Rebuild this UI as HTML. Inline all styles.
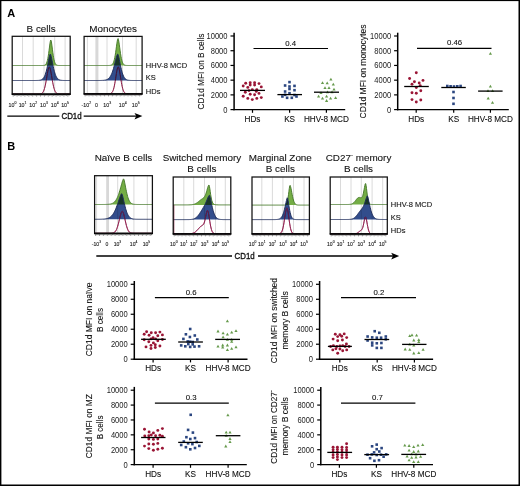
<!DOCTYPE html>
<html><head><meta charset="utf-8"><style>
html,body{margin:0;padding:0;background:#fff;width:520px;height:486px;overflow:hidden;}
svg{display:block;}
text{font-family:"Liberation Sans", sans-serif;}
</style></head><body>
<svg width="520" height="486" viewBox="0 0 520 486" font-family='"Liberation Sans", sans-serif'>
<rect x="0" y="0" width="520" height="486" fill="#fff"/>
<text x="7.3" y="16.8" font-size="11" text-anchor="start" font-weight="bold" fill="#000" stroke="#000" stroke-width="0" >A</text>
<text x="7.2" y="149.5" font-size="11" text-anchor="start" font-weight="bold" fill="#000" stroke="#000" stroke-width="0" >B</text>
<text x="41.1" y="31.5" font-size="9.9" text-anchor="middle" font-weight="normal" fill="#111" stroke="#111" stroke-width="0.1" >B cells</text>
<text x="113.1" y="31.8" font-size="9.9" text-anchor="middle" font-weight="normal" fill="#111" stroke="#111" stroke-width="0.1" >Monocytes</text>
<line x1="22.5" y1="36.3" x2="22.5" y2="94" stroke="#d0d0d0" stroke-width="0.8"/>
<line x1="33.2" y1="36.3" x2="33.2" y2="94" stroke="#d0d0d0" stroke-width="0.8"/>
<line x1="44.0" y1="36.3" x2="44.0" y2="94" stroke="#d0d0d0" stroke-width="0.8"/>
<line x1="54.7" y1="36.3" x2="54.7" y2="94" stroke="#d0d0d0" stroke-width="0.8"/>
<line x1="65.1" y1="36.3" x2="65.1" y2="94" stroke="#d0d0d0" stroke-width="0.8"/>
<path d="M12.20,65.50 L12.61,65.50 L13.03,65.50 L13.44,65.50 L13.86,65.50 L14.27,65.50 L14.69,65.50 L15.10,65.50 L15.51,65.50 L15.93,65.50 L16.34,65.50 L16.76,65.50 L17.17,65.50 L17.59,65.50 L18.00,65.50 L18.41,65.50 L18.83,65.50 L19.24,65.50 L19.66,65.50 L20.07,65.50 L20.49,65.50 L20.90,65.50 L21.31,65.50 L21.73,65.50 L22.14,65.50 L22.56,65.50 L22.97,65.50 L23.39,65.50 L23.80,65.50 L24.21,65.50 L24.63,65.50 L25.04,65.50 L25.46,65.50 L25.87,65.50 L26.29,65.50 L26.70,65.50 L27.11,65.50 L27.53,65.50 L27.94,65.50 L28.36,65.50 L28.77,65.50 L29.19,65.50 L29.60,65.50 L30.01,65.50 L30.43,65.50 L30.84,65.50 L31.26,65.50 L31.67,65.50 L32.09,65.50 L32.50,65.50 L32.91,65.50 L33.33,65.50 L33.74,65.50 L34.16,65.50 L34.57,65.50 L34.99,65.50 L35.40,65.50 L35.81,65.50 L36.23,65.50 L36.64,65.50 L37.06,65.50 L37.47,65.50 L37.89,65.50 L38.30,65.50 L38.71,65.50 L39.13,65.50 L39.54,65.50 L39.96,65.50 L40.37,65.50 L40.79,65.50 L41.20,65.50 L41.61,65.50 L42.03,65.49 L42.44,65.49 L42.86,65.47 L43.27,65.45 L43.69,65.41 L44.10,65.35 L44.51,65.25 L44.93,65.08 L45.34,64.82 L45.76,64.43 L46.17,63.86 L46.59,63.04 L47.00,61.92 L47.41,60.42 L47.83,58.49 L48.24,56.13 L48.66,53.35 L49.07,50.25 L49.49,47.04 L49.90,43.98 L50.31,41.47 L50.73,40.06 L51.14,40.82 L51.56,43.03 L51.97,45.95 L52.39,49.15 L52.80,52.31 L53.21,55.21 L53.63,57.73 L54.04,59.80 L54.46,61.45 L54.87,62.69 L55.29,63.61 L55.70,64.26 L56.11,64.71 L56.53,65.01 L56.94,65.20 L57.36,65.32 L57.77,65.40 L58.19,65.44 L58.60,65.47 L59.01,65.48 L59.43,65.49 L59.84,65.50 L60.26,65.50 L60.67,65.50 L61.09,65.50 L61.50,65.50 L61.91,65.50 L62.33,65.50 L62.74,65.50 L63.16,65.50 L63.57,65.50 L63.99,65.50 L64.40,65.50 L64.81,65.50 L65.23,65.50 L65.64,65.50 L66.06,65.50 L66.47,65.50 L66.89,65.50 L67.30,65.50 L67.71,65.50 L68.13,65.50 L68.54,65.50 L68.96,65.50 L69.37,65.50 L69.79,65.50 L70.20,65.50 L70.20,65.5 L12.20,65.5 Z" fill="#74ad45" stroke="none"/>
<path d="M12.20,65.50 L12.61,65.50 L13.03,65.50 L13.44,65.50 L13.86,65.50 L14.27,65.50 L14.69,65.50 L15.10,65.50 L15.51,65.50 L15.93,65.50 L16.34,65.50 L16.76,65.50 L17.17,65.50 L17.59,65.50 L18.00,65.50 L18.41,65.50 L18.83,65.50 L19.24,65.50 L19.66,65.50 L20.07,65.50 L20.49,65.50 L20.90,65.50 L21.31,65.50 L21.73,65.50 L22.14,65.50 L22.56,65.50 L22.97,65.50 L23.39,65.50 L23.80,65.50 L24.21,65.50 L24.63,65.50 L25.04,65.50 L25.46,65.50 L25.87,65.50 L26.29,65.50 L26.70,65.50 L27.11,65.50 L27.53,65.50 L27.94,65.50 L28.36,65.50 L28.77,65.50 L29.19,65.50 L29.60,65.50 L30.01,65.50 L30.43,65.50 L30.84,65.50 L31.26,65.50 L31.67,65.50 L32.09,65.50 L32.50,65.50 L32.91,65.50 L33.33,65.50 L33.74,65.50 L34.16,65.50 L34.57,65.50 L34.99,65.50 L35.40,65.50 L35.81,65.50 L36.23,65.50 L36.64,65.50 L37.06,65.50 L37.47,65.50 L37.89,65.50 L38.30,65.50 L38.71,65.50 L39.13,65.50 L39.54,65.50 L39.96,65.50 L40.37,65.50 L40.79,65.50 L41.20,65.50 L41.61,65.50 L42.03,65.49 L42.44,65.49 L42.86,65.47 L43.27,65.45 L43.69,65.41 L44.10,65.35 L44.51,65.25 L44.93,65.08 L45.34,64.82 L45.76,64.43 L46.17,63.86 L46.59,63.04 L47.00,61.92 L47.41,60.42 L47.83,58.49 L48.24,56.13 L48.66,53.35 L49.07,50.25 L49.49,47.04 L49.90,43.98 L50.31,41.47 L50.73,40.06 L51.14,40.82 L51.56,43.03 L51.97,45.95 L52.39,49.15 L52.80,52.31 L53.21,55.21 L53.63,57.73 L54.04,59.80 L54.46,61.45 L54.87,62.69 L55.29,63.61 L55.70,64.26 L56.11,64.71 L56.53,65.01 L56.94,65.20 L57.36,65.32 L57.77,65.40 L58.19,65.44 L58.60,65.47 L59.01,65.48 L59.43,65.49 L59.84,65.50 L60.26,65.50 L60.67,65.50 L61.09,65.50 L61.50,65.50 L61.91,65.50 L62.33,65.50 L62.74,65.50 L63.16,65.50 L63.57,65.50 L63.99,65.50 L64.40,65.50 L64.81,65.50 L65.23,65.50 L65.64,65.50 L66.06,65.50 L66.47,65.50 L66.89,65.50 L67.30,65.50 L67.71,65.50 L68.13,65.50 L68.54,65.50 L68.96,65.50 L69.37,65.50 L69.79,65.50 L70.20,65.50" fill="none" stroke="#4b7d30" stroke-width="1.0"/>
<path d="M12.20,94.00 L12.61,94.00 L13.03,94.00 L13.44,94.00 L13.86,94.00 L14.27,94.00 L14.69,94.00 L15.10,94.00 L15.51,94.00 L15.93,94.00 L16.34,94.00 L16.76,94.00 L17.17,94.00 L17.59,94.00 L18.00,94.00 L18.41,94.00 L18.83,94.00 L19.24,94.00 L19.66,94.00 L20.07,94.00 L20.49,94.00 L20.90,94.00 L21.31,94.00 L21.73,94.00 L22.14,94.00 L22.56,94.00 L22.97,94.00 L23.39,94.00 L23.80,94.00 L24.21,94.00 L24.63,94.00 L25.04,94.00 L25.46,94.00 L25.87,94.00 L26.29,94.00 L26.70,94.00 L27.11,94.00 L27.53,94.00 L27.94,94.00 L28.36,94.00 L28.77,94.00 L29.19,94.00 L29.60,94.00 L30.01,94.00 L30.43,94.00 L30.84,94.00 L31.26,94.00 L31.67,94.00 L32.09,94.00 L32.50,94.00 L32.91,94.00 L33.33,94.00 L33.74,94.00 L34.16,94.00 L34.57,94.00 L34.99,94.00 L35.40,94.00 L35.81,94.00 L36.23,94.00 L36.64,94.00 L37.06,94.00 L37.47,94.00 L37.89,93.99 L38.30,93.99 L38.71,93.98 L39.13,93.97 L39.54,93.94 L39.96,93.91 L40.37,93.85 L40.79,93.77 L41.20,93.65 L41.61,93.46 L42.03,93.21 L42.44,92.85 L42.86,92.36 L43.27,91.72 L43.69,90.88 L44.10,89.82 L44.51,88.51 L44.93,86.94 L45.34,85.11 L45.76,83.02 L46.17,80.73 L46.59,78.31 L47.00,75.83 L47.41,73.42 L47.83,71.21 L48.24,69.33 L48.66,67.93 L49.07,67.13 L49.49,67.09 L49.90,67.82 L50.31,69.17 L50.73,71.00 L51.14,73.18 L51.56,75.58 L51.97,78.05 L52.39,80.49 L52.80,82.80 L53.21,84.90 L53.63,86.77 L54.04,88.36 L54.46,89.70 L54.87,90.78 L55.29,91.64 L55.70,92.31 L56.11,92.81 L56.53,93.18 L56.94,93.44 L57.36,93.63 L57.77,93.76 L58.19,93.85 L58.60,93.90 L59.01,93.94 L59.43,93.96 L59.84,93.98 L60.26,93.99 L60.67,93.99 L61.09,94.00 L61.50,94.00 L61.91,94.00 L62.33,94.00 L62.74,94.00 L63.16,94.00 L63.57,94.00 L63.99,94.00 L64.40,94.00 L64.81,94.00 L65.23,94.00 L65.64,94.00 L66.06,94.00 L66.47,94.00 L66.89,94.00 L67.30,94.00 L67.71,94.00 L68.13,94.00 L68.54,94.00 L68.96,94.00 L69.37,94.00 L69.79,94.00 L70.20,94.00" fill="none" stroke="#861434" stroke-width="1.0"/>
<path d="M12.20,80.50 L12.61,80.50 L13.03,80.50 L13.44,80.50 L13.86,80.50 L14.27,80.50 L14.69,80.50 L15.10,80.50 L15.51,80.50 L15.93,80.50 L16.34,80.50 L16.76,80.50 L17.17,80.50 L17.59,80.50 L18.00,80.50 L18.41,80.50 L18.83,80.50 L19.24,80.50 L19.66,80.50 L20.07,80.50 L20.49,80.50 L20.90,80.50 L21.31,80.50 L21.73,80.50 L22.14,80.50 L22.56,80.50 L22.97,80.50 L23.39,80.50 L23.80,80.50 L24.21,80.50 L24.63,80.50 L25.04,80.50 L25.46,80.50 L25.87,80.50 L26.29,80.50 L26.70,80.50 L27.11,80.50 L27.53,80.50 L27.94,80.50 L28.36,80.50 L28.77,80.50 L29.19,80.50 L29.60,80.50 L30.01,80.50 L30.43,80.50 L30.84,80.50 L31.26,80.50 L31.67,80.50 L32.09,80.50 L32.50,80.50 L32.91,80.50 L33.33,80.50 L33.74,80.50 L34.16,80.50 L34.57,80.50 L34.99,80.49 L35.40,80.49 L35.81,80.49 L36.23,80.48 L36.64,80.47 L37.06,80.46 L37.47,80.45 L37.89,80.43 L38.30,80.41 L38.71,80.38 L39.13,80.34 L39.54,80.28 L39.96,80.21 L40.37,80.12 L40.79,80.00 L41.20,79.85 L41.61,79.66 L42.03,79.41 L42.44,79.11 L42.86,78.74 L43.27,78.29 L43.69,77.73 L44.10,77.07 L44.51,76.27 L44.93,75.34 L45.34,74.25 L45.76,73.00 L46.17,71.57 L46.59,69.98 L47.00,68.22 L47.41,66.31 L47.83,64.28 L48.24,62.19 L48.66,60.08 L49.07,58.06 L49.49,56.23 L49.90,54.76 L50.31,54.00 L50.73,54.85 L51.14,56.35 L51.56,58.19 L51.97,60.23 L52.39,62.33 L52.80,64.43 L53.21,66.44 L53.63,68.34 L54.04,70.09 L54.46,71.68 L54.87,73.09 L55.29,74.33 L55.70,75.41 L56.11,76.33 L56.53,77.12 L56.94,77.77 L57.36,78.32 L57.77,78.77 L58.19,79.14 L58.60,79.43 L59.01,79.67 L59.43,79.86 L59.84,80.01 L60.26,80.13 L60.67,80.22 L61.09,80.29 L61.50,80.34 L61.91,80.38 L62.33,80.41 L62.74,80.44 L63.16,80.45 L63.57,80.47 L63.99,80.48 L64.40,80.48 L64.81,80.49 L65.23,80.49 L65.64,80.49 L66.06,80.50 L66.47,80.50 L66.89,80.50 L67.30,80.50 L67.71,80.50 L68.13,80.50 L68.54,80.50 L68.96,80.50 L69.37,80.50 L69.79,80.50 L70.20,80.50 L70.20,80.5 L12.20,80.5 Z" fill="#324d8c" stroke="none" style="mix-blend-mode:multiply"/>
<path d="M12.20,80.50 L12.61,80.50 L13.03,80.50 L13.44,80.50 L13.86,80.50 L14.27,80.50 L14.69,80.50 L15.10,80.50 L15.51,80.50 L15.93,80.50 L16.34,80.50 L16.76,80.50 L17.17,80.50 L17.59,80.50 L18.00,80.50 L18.41,80.50 L18.83,80.50 L19.24,80.50 L19.66,80.50 L20.07,80.50 L20.49,80.50 L20.90,80.50 L21.31,80.50 L21.73,80.50 L22.14,80.50 L22.56,80.50 L22.97,80.50 L23.39,80.50 L23.80,80.50 L24.21,80.50 L24.63,80.50 L25.04,80.50 L25.46,80.50 L25.87,80.50 L26.29,80.50 L26.70,80.50 L27.11,80.50 L27.53,80.50 L27.94,80.50 L28.36,80.50 L28.77,80.50 L29.19,80.50 L29.60,80.50 L30.01,80.50 L30.43,80.50 L30.84,80.50 L31.26,80.50 L31.67,80.50 L32.09,80.50 L32.50,80.50 L32.91,80.50 L33.33,80.50 L33.74,80.50 L34.16,80.50 L34.57,80.50 L34.99,80.49 L35.40,80.49 L35.81,80.49 L36.23,80.48 L36.64,80.47 L37.06,80.46 L37.47,80.45 L37.89,80.43 L38.30,80.41 L38.71,80.38 L39.13,80.34 L39.54,80.28 L39.96,80.21 L40.37,80.12 L40.79,80.00 L41.20,79.85 L41.61,79.66 L42.03,79.41 L42.44,79.11 L42.86,78.74 L43.27,78.29 L43.69,77.73 L44.10,77.07 L44.51,76.27 L44.93,75.34 L45.34,74.25 L45.76,73.00 L46.17,71.57 L46.59,69.98 L47.00,68.22 L47.41,66.31 L47.83,64.28 L48.24,62.19 L48.66,60.08 L49.07,58.06 L49.49,56.23 L49.90,54.76 L50.31,54.00 L50.73,54.85 L51.14,56.35 L51.56,58.19 L51.97,60.23 L52.39,62.33 L52.80,64.43 L53.21,66.44 L53.63,68.34 L54.04,70.09 L54.46,71.68 L54.87,73.09 L55.29,74.33 L55.70,75.41 L56.11,76.33 L56.53,77.12 L56.94,77.77 L57.36,78.32 L57.77,78.77 L58.19,79.14 L58.60,79.43 L59.01,79.67 L59.43,79.86 L59.84,80.01 L60.26,80.13 L60.67,80.22 L61.09,80.29 L61.50,80.34 L61.91,80.38 L62.33,80.41 L62.74,80.44 L63.16,80.45 L63.57,80.47 L63.99,80.48 L64.40,80.48 L64.81,80.49 L65.23,80.49 L65.64,80.49 L66.06,80.50 L66.47,80.50 L66.89,80.50 L67.30,80.50 L67.71,80.50 L68.13,80.50 L68.54,80.50 L68.96,80.50 L69.37,80.50 L69.79,80.50 L70.20,80.50" fill="none" stroke="#1f2d5c" stroke-width="1.0"/>
<path d="M12.20,94.00 L12.61,94.00 L13.03,94.00 L13.44,94.00 L13.86,94.00 L14.27,94.00 L14.69,94.00 L15.10,94.00 L15.51,94.00 L15.93,94.00 L16.34,94.00 L16.76,94.00 L17.17,94.00 L17.59,94.00 L18.00,94.00 L18.41,94.00 L18.83,94.00 L19.24,94.00 L19.66,94.00 L20.07,94.00 L20.49,94.00 L20.90,94.00 L21.31,94.00 L21.73,94.00 L22.14,94.00 L22.56,94.00 L22.97,94.00 L23.39,94.00 L23.80,94.00 L24.21,94.00 L24.63,94.00 L25.04,94.00 L25.46,94.00 L25.87,94.00 L26.29,94.00 L26.70,94.00 L27.11,94.00 L27.53,94.00 L27.94,94.00 L28.36,94.00 L28.77,94.00 L29.19,94.00 L29.60,94.00 L30.01,94.00 L30.43,94.00 L30.84,94.00 L31.26,94.00 L31.67,94.00 L32.09,94.00 L32.50,94.00 L32.91,94.00 L33.33,94.00 L33.74,94.00 L34.16,94.00 L34.57,94.00 L34.99,94.00 L35.40,94.00 L35.81,94.00 L36.23,94.00 L36.64,94.00 L37.06,94.00 L37.47,94.00 L37.89,93.99 L38.30,93.99 L38.71,93.98 L39.13,93.97 L39.54,93.94 L39.96,93.91 L40.37,93.85 L40.79,93.77 L41.20,93.65 L41.61,93.46 L42.03,93.21 L42.44,92.85 L42.86,92.36 L43.27,91.72 L43.69,90.88 L44.10,89.82 L44.51,88.51 L44.93,86.94 L45.34,85.11 L45.76,83.02 L46.17,80.73 L46.59,78.31 L47.00,75.83 L47.41,73.42 L47.83,71.21 L48.24,69.33 L48.66,67.93 L49.07,67.13 L49.49,67.09 L49.90,67.82 L50.31,69.17 L50.73,71.00 L51.14,73.18 L51.56,75.58 L51.97,78.05 L52.39,80.49 L52.80,82.80 L53.21,84.90 L53.63,86.77 L54.04,88.36 L54.46,89.70 L54.87,90.78 L55.29,91.64 L55.70,92.31 L56.11,92.81 L56.53,93.18 L56.94,93.44 L57.36,93.63 L57.77,93.76 L58.19,93.85 L58.60,93.90 L59.01,93.94 L59.43,93.96 L59.84,93.98 L60.26,93.99 L60.67,93.99 L61.09,94.00 L61.50,94.00 L61.91,94.00 L62.33,94.00 L62.74,94.00 L63.16,94.00 L63.57,94.00 L63.99,94.00 L64.40,94.00 L64.81,94.00 L65.23,94.00 L65.64,94.00 L66.06,94.00 L66.47,94.00 L66.89,94.00 L67.30,94.00 L67.71,94.00 L68.13,94.00 L68.54,94.00 L68.96,94.00 L69.37,94.00 L69.79,94.00 L70.20,94.00" fill="none" stroke="#9c2a6c" stroke-width="1.0" opacity="0.3"/>
<rect x="12.2" y="36.3" width="58.0" height="57.7" fill="none" stroke="#111" stroke-width="1.25"/>
<line x1="11.7" y1="94.2" x2="70.7" y2="94.2" stroke="#000" stroke-width="1.5"/>
<line x1="13.2" y1="94" x2="13.2" y2="96.5" stroke="#222" stroke-width="0.55"/>
<line x1="14.5" y1="94" x2="14.5" y2="95.9" stroke="#222" stroke-width="0.55"/>
<line x1="15.8" y1="94" x2="15.8" y2="95.9" stroke="#222" stroke-width="0.55"/>
<line x1="17.1" y1="94" x2="17.1" y2="96.5" stroke="#222" stroke-width="0.55"/>
<line x1="18.4" y1="94" x2="18.4" y2="95.9" stroke="#222" stroke-width="0.55"/>
<line x1="19.7" y1="94" x2="19.7" y2="95.9" stroke="#222" stroke-width="0.55"/>
<line x1="21.0" y1="94" x2="21.0" y2="96.5" stroke="#222" stroke-width="0.55"/>
<line x1="22.3" y1="94" x2="22.3" y2="95.9" stroke="#222" stroke-width="0.55"/>
<line x1="23.6" y1="94" x2="23.6" y2="95.9" stroke="#222" stroke-width="0.55"/>
<line x1="24.9" y1="94" x2="24.9" y2="96.5" stroke="#222" stroke-width="0.55"/>
<line x1="26.2" y1="94" x2="26.2" y2="95.9" stroke="#222" stroke-width="0.55"/>
<line x1="27.5" y1="94" x2="27.5" y2="95.9" stroke="#222" stroke-width="0.55"/>
<line x1="28.8" y1="94" x2="28.8" y2="96.5" stroke="#222" stroke-width="0.55"/>
<line x1="30.1" y1="94" x2="30.1" y2="95.9" stroke="#222" stroke-width="0.55"/>
<line x1="31.4" y1="94" x2="31.4" y2="95.9" stroke="#222" stroke-width="0.55"/>
<line x1="32.7" y1="94" x2="32.7" y2="96.5" stroke="#222" stroke-width="0.55"/>
<line x1="34.0" y1="94" x2="34.0" y2="95.9" stroke="#222" stroke-width="0.55"/>
<line x1="35.3" y1="94" x2="35.3" y2="95.9" stroke="#222" stroke-width="0.55"/>
<line x1="36.6" y1="94" x2="36.6" y2="96.5" stroke="#222" stroke-width="0.55"/>
<line x1="37.9" y1="94" x2="37.9" y2="95.9" stroke="#222" stroke-width="0.55"/>
<line x1="39.2" y1="94" x2="39.2" y2="95.9" stroke="#222" stroke-width="0.55"/>
<line x1="40.5" y1="94" x2="40.5" y2="96.5" stroke="#222" stroke-width="0.55"/>
<line x1="41.8" y1="94" x2="41.8" y2="95.9" stroke="#222" stroke-width="0.55"/>
<line x1="43.1" y1="94" x2="43.1" y2="95.9" stroke="#222" stroke-width="0.55"/>
<line x1="44.4" y1="94" x2="44.4" y2="96.5" stroke="#222" stroke-width="0.55"/>
<line x1="45.7" y1="94" x2="45.7" y2="95.9" stroke="#222" stroke-width="0.55"/>
<line x1="47.0" y1="94" x2="47.0" y2="95.9" stroke="#222" stroke-width="0.55"/>
<line x1="48.3" y1="94" x2="48.3" y2="96.5" stroke="#222" stroke-width="0.55"/>
<line x1="49.6" y1="94" x2="49.6" y2="95.9" stroke="#222" stroke-width="0.55"/>
<line x1="50.9" y1="94" x2="50.9" y2="95.9" stroke="#222" stroke-width="0.55"/>
<line x1="52.2" y1="94" x2="52.2" y2="96.5" stroke="#222" stroke-width="0.55"/>
<line x1="53.5" y1="94" x2="53.5" y2="95.9" stroke="#222" stroke-width="0.55"/>
<line x1="54.8" y1="94" x2="54.8" y2="95.9" stroke="#222" stroke-width="0.55"/>
<line x1="56.1" y1="94" x2="56.1" y2="96.5" stroke="#222" stroke-width="0.55"/>
<line x1="57.4" y1="94" x2="57.4" y2="95.9" stroke="#222" stroke-width="0.55"/>
<line x1="58.7" y1="94" x2="58.7" y2="95.9" stroke="#222" stroke-width="0.55"/>
<line x1="60.0" y1="94" x2="60.0" y2="96.5" stroke="#222" stroke-width="0.55"/>
<line x1="61.3" y1="94" x2="61.3" y2="95.9" stroke="#222" stroke-width="0.55"/>
<line x1="62.6" y1="94" x2="62.6" y2="95.9" stroke="#222" stroke-width="0.55"/>
<line x1="63.9" y1="94" x2="63.9" y2="96.5" stroke="#222" stroke-width="0.55"/>
<line x1="65.2" y1="94" x2="65.2" y2="95.9" stroke="#222" stroke-width="0.55"/>
<line x1="66.5" y1="94" x2="66.5" y2="95.9" stroke="#222" stroke-width="0.55"/>
<line x1="67.8" y1="94" x2="67.8" y2="96.5" stroke="#222" stroke-width="0.55"/>
<line x1="69.1" y1="94" x2="69.1" y2="95.9" stroke="#222" stroke-width="0.55"/>
<line x1="87.4" y1="36.4" x2="87.4" y2="93.8" stroke="#d0d0d0" stroke-width="0.8"/>
<line x1="107" y1="36.4" x2="107" y2="93.8" stroke="#d0d0d0" stroke-width="0.8"/>
<line x1="122.5" y1="36.4" x2="122.5" y2="93.8" stroke="#d0d0d0" stroke-width="0.8"/>
<line x1="136.2" y1="36.4" x2="136.2" y2="93.8" stroke="#d0d0d0" stroke-width="0.8"/>
<rect x="95.4" y="36.4" width="3.0" height="57.4" fill="#d8d8d8"/>
<path d="M84.10,65.50 L84.51,65.50 L84.93,65.50 L85.34,65.50 L85.76,65.50 L86.17,65.50 L86.59,65.50 L87.00,65.50 L87.41,65.50 L87.83,65.50 L88.24,65.50 L88.66,65.50 L89.07,65.50 L89.49,65.50 L89.90,65.50 L90.31,65.50 L90.73,65.50 L91.14,65.50 L91.56,65.50 L91.97,65.50 L92.39,65.50 L92.80,65.50 L93.21,65.50 L93.63,65.50 L94.04,65.50 L94.46,65.50 L94.87,65.50 L95.29,65.50 L95.70,65.50 L96.11,65.50 L96.53,65.50 L96.94,65.50 L97.36,65.50 L97.77,65.50 L98.19,65.50 L98.60,65.50 L99.01,65.50 L99.43,65.50 L99.84,65.50 L100.26,65.50 L100.67,65.50 L101.09,65.50 L101.50,65.50 L101.91,65.50 L102.33,65.50 L102.74,65.50 L103.16,65.50 L103.57,65.50 L103.99,65.50 L104.40,65.50 L104.81,65.50 L105.23,65.50 L105.64,65.50 L106.06,65.50 L106.47,65.50 L106.89,65.50 L107.30,65.50 L107.71,65.50 L108.13,65.49 L108.54,65.49 L108.96,65.48 L109.37,65.46 L109.79,65.43 L110.20,65.39 L110.61,65.32 L111.03,65.22 L111.44,65.06 L111.86,64.82 L112.27,64.47 L112.69,63.97 L113.10,63.29 L113.51,62.37 L113.93,61.15 L114.34,59.61 L114.76,57.69 L115.17,55.40 L115.59,52.76 L116.00,49.85 L116.41,46.81 L116.83,43.83 L117.24,41.18 L117.66,39.22 L118.07,38.55 L118.49,39.80 L118.90,42.04 L119.31,44.83 L119.73,47.86 L120.14,50.88 L120.56,53.71 L120.97,56.23 L121.39,58.40 L121.80,60.18 L122.21,61.61 L122.63,62.72 L123.04,63.55 L123.46,64.16 L123.87,64.60 L124.29,64.91 L124.70,65.12 L125.11,65.26 L125.53,65.35 L125.94,65.41 L126.36,65.45 L126.77,65.47 L127.19,65.48 L127.60,65.49 L128.01,65.49 L128.43,65.50 L128.84,65.50 L129.26,65.50 L129.67,65.50 L130.09,65.50 L130.50,65.50 L130.91,65.50 L131.33,65.50 L131.74,65.50 L132.16,65.50 L132.57,65.50 L132.99,65.50 L133.40,65.50 L133.81,65.50 L134.23,65.50 L134.64,65.50 L135.06,65.50 L135.47,65.50 L135.89,65.50 L136.30,65.50 L136.71,65.50 L137.13,65.50 L137.54,65.50 L137.96,65.50 L138.37,65.50 L138.79,65.50 L139.20,65.50 L139.61,65.50 L140.03,65.50 L140.44,65.50 L140.86,65.50 L141.27,65.50 L141.69,65.50 L142.10,65.50 L142.10,65.5 L84.10,65.5 Z" fill="#74ad45" stroke="none"/>
<path d="M84.10,65.50 L84.51,65.50 L84.93,65.50 L85.34,65.50 L85.76,65.50 L86.17,65.50 L86.59,65.50 L87.00,65.50 L87.41,65.50 L87.83,65.50 L88.24,65.50 L88.66,65.50 L89.07,65.50 L89.49,65.50 L89.90,65.50 L90.31,65.50 L90.73,65.50 L91.14,65.50 L91.56,65.50 L91.97,65.50 L92.39,65.50 L92.80,65.50 L93.21,65.50 L93.63,65.50 L94.04,65.50 L94.46,65.50 L94.87,65.50 L95.29,65.50 L95.70,65.50 L96.11,65.50 L96.53,65.50 L96.94,65.50 L97.36,65.50 L97.77,65.50 L98.19,65.50 L98.60,65.50 L99.01,65.50 L99.43,65.50 L99.84,65.50 L100.26,65.50 L100.67,65.50 L101.09,65.50 L101.50,65.50 L101.91,65.50 L102.33,65.50 L102.74,65.50 L103.16,65.50 L103.57,65.50 L103.99,65.50 L104.40,65.50 L104.81,65.50 L105.23,65.50 L105.64,65.50 L106.06,65.50 L106.47,65.50 L106.89,65.50 L107.30,65.50 L107.71,65.50 L108.13,65.49 L108.54,65.49 L108.96,65.48 L109.37,65.46 L109.79,65.43 L110.20,65.39 L110.61,65.32 L111.03,65.22 L111.44,65.06 L111.86,64.82 L112.27,64.47 L112.69,63.97 L113.10,63.29 L113.51,62.37 L113.93,61.15 L114.34,59.61 L114.76,57.69 L115.17,55.40 L115.59,52.76 L116.00,49.85 L116.41,46.81 L116.83,43.83 L117.24,41.18 L117.66,39.22 L118.07,38.55 L118.49,39.80 L118.90,42.04 L119.31,44.83 L119.73,47.86 L120.14,50.88 L120.56,53.71 L120.97,56.23 L121.39,58.40 L121.80,60.18 L122.21,61.61 L122.63,62.72 L123.04,63.55 L123.46,64.16 L123.87,64.60 L124.29,64.91 L124.70,65.12 L125.11,65.26 L125.53,65.35 L125.94,65.41 L126.36,65.45 L126.77,65.47 L127.19,65.48 L127.60,65.49 L128.01,65.49 L128.43,65.50 L128.84,65.50 L129.26,65.50 L129.67,65.50 L130.09,65.50 L130.50,65.50 L130.91,65.50 L131.33,65.50 L131.74,65.50 L132.16,65.50 L132.57,65.50 L132.99,65.50 L133.40,65.50 L133.81,65.50 L134.23,65.50 L134.64,65.50 L135.06,65.50 L135.47,65.50 L135.89,65.50 L136.30,65.50 L136.71,65.50 L137.13,65.50 L137.54,65.50 L137.96,65.50 L138.37,65.50 L138.79,65.50 L139.20,65.50 L139.61,65.50 L140.03,65.50 L140.44,65.50 L140.86,65.50 L141.27,65.50 L141.69,65.50 L142.10,65.50" fill="none" stroke="#4b7d30" stroke-width="1.0"/>
<path d="M84.10,93.80 L84.51,93.80 L84.93,93.80 L85.34,93.80 L85.76,93.80 L86.17,93.80 L86.59,93.80 L87.00,93.80 L87.41,93.80 L87.83,93.80 L88.24,93.80 L88.66,93.80 L89.07,93.80 L89.49,93.80 L89.90,93.80 L90.31,93.80 L90.73,93.80 L91.14,93.80 L91.56,93.80 L91.97,93.80 L92.39,93.80 L92.80,93.80 L93.21,93.80 L93.63,93.80 L94.04,93.80 L94.46,93.80 L94.87,93.80 L95.29,93.80 L95.70,93.80 L96.11,93.80 L96.53,93.80 L96.94,93.80 L97.36,93.80 L97.77,93.80 L98.19,93.80 L98.60,93.80 L99.01,93.80 L99.43,93.80 L99.84,93.80 L100.26,93.80 L100.67,93.80 L101.09,93.80 L101.50,93.80 L101.91,93.80 L102.33,93.80 L102.74,93.80 L103.16,93.80 L103.57,93.80 L103.99,93.80 L104.40,93.80 L104.81,93.80 L105.23,93.80 L105.64,93.80 L106.06,93.80 L106.47,93.80 L106.89,93.80 L107.30,93.80 L107.71,93.79 L108.13,93.79 L108.54,93.78 L108.96,93.76 L109.37,93.73 L109.79,93.68 L110.20,93.60 L110.61,93.49 L111.03,93.31 L111.44,93.04 L111.86,92.66 L112.27,92.14 L112.69,91.42 L113.10,90.47 L113.51,89.26 L113.93,87.75 L114.34,85.92 L114.76,83.79 L115.17,81.40 L115.59,78.81 L116.00,76.13 L116.41,73.50 L116.83,71.08 L117.24,69.05 L117.66,67.59 L118.07,66.85 L118.49,67.04 L118.90,68.07 L119.31,69.77 L119.73,71.96 L120.14,74.48 L120.56,77.15 L120.97,79.81 L121.39,82.33 L121.80,84.63 L122.21,86.65 L122.63,88.36 L123.04,89.75 L123.46,90.86 L123.87,91.72 L124.29,92.36 L124.70,92.82 L125.11,93.15 L125.53,93.38 L125.94,93.54 L126.36,93.64 L126.77,93.70 L127.19,93.74 L127.60,93.77 L128.01,93.78 L128.43,93.79 L128.84,93.79 L129.26,93.80 L129.67,93.80 L130.09,93.80 L130.50,93.80 L130.91,93.80 L131.33,93.80 L131.74,93.80 L132.16,93.80 L132.57,93.80 L132.99,93.80 L133.40,93.80 L133.81,93.80 L134.23,93.80 L134.64,93.80 L135.06,93.80 L135.47,93.80 L135.89,93.80 L136.30,93.80 L136.71,93.80 L137.13,93.80 L137.54,93.80 L137.96,93.80 L138.37,93.80 L138.79,93.80 L139.20,93.80 L139.61,93.80 L140.03,93.80 L140.44,93.80 L140.86,93.80 L141.27,93.80 L141.69,93.80 L142.10,93.80" fill="none" stroke="#861434" stroke-width="1.0"/>
<path d="M84.10,80.50 L84.51,80.50 L84.93,80.50 L85.34,80.50 L85.76,80.50 L86.17,80.50 L86.59,80.50 L87.00,80.50 L87.41,80.50 L87.83,80.50 L88.24,80.50 L88.66,80.50 L89.07,80.50 L89.49,80.50 L89.90,80.50 L90.31,80.50 L90.73,80.50 L91.14,80.50 L91.56,80.50 L91.97,80.50 L92.39,80.50 L92.80,80.50 L93.21,80.50 L93.63,80.50 L94.04,80.50 L94.46,80.50 L94.87,80.50 L95.29,80.50 L95.70,80.50 L96.11,80.50 L96.53,80.50 L96.94,80.50 L97.36,80.50 L97.77,80.50 L98.19,80.49 L98.60,80.49 L99.01,80.49 L99.43,80.49 L99.84,80.48 L100.26,80.48 L100.67,80.47 L101.09,80.46 L101.50,80.45 L101.91,80.43 L102.33,80.42 L102.74,80.39 L103.16,80.37 L103.57,80.33 L103.99,80.29 L104.40,80.23 L104.81,80.17 L105.23,80.09 L105.64,79.99 L106.06,79.88 L106.47,79.74 L106.89,79.57 L107.30,79.37 L107.71,79.13 L108.13,78.85 L108.54,78.52 L108.96,78.14 L109.37,77.69 L109.79,77.17 L110.20,76.58 L110.61,75.90 L111.03,75.14 L111.44,74.28 L111.86,73.32 L112.27,72.25 L112.69,71.08 L113.10,69.80 L113.51,68.43 L113.93,66.96 L114.34,65.42 L114.76,63.81 L115.17,62.17 L115.59,60.52 L116.00,58.91 L116.41,57.38 L116.83,56.01 L117.24,54.87 L117.66,54.11 L118.07,54.42 L118.49,55.73 L118.90,57.46 L119.31,59.44 L119.73,61.53 L120.14,63.64 L120.56,65.69 L120.97,67.64 L121.39,69.45 L121.80,71.10 L122.21,72.57 L122.63,73.88 L123.04,75.02 L123.46,76.00 L123.87,76.83 L124.29,77.54 L124.70,78.12 L125.11,78.61 L125.53,79.01 L125.94,79.33 L126.36,79.59 L126.77,79.79 L127.19,79.96 L127.60,80.08 L128.01,80.18 L128.43,80.26 L128.84,80.32 L129.26,80.37 L129.67,80.40 L130.09,80.43 L130.50,80.45 L130.91,80.46 L131.33,80.47 L131.74,80.48 L132.16,80.49 L132.57,80.49 L132.99,80.49 L133.40,80.49 L133.81,80.50 L134.23,80.50 L134.64,80.50 L135.06,80.50 L135.47,80.50 L135.89,80.50 L136.30,80.50 L136.71,80.50 L137.13,80.50 L137.54,80.50 L137.96,80.50 L138.37,80.50 L138.79,80.50 L139.20,80.50 L139.61,80.50 L140.03,80.50 L140.44,80.50 L140.86,80.50 L141.27,80.50 L141.69,80.50 L142.10,80.50 L142.10,80.5 L84.10,80.5 Z" fill="#324d8c" stroke="none" style="mix-blend-mode:multiply"/>
<path d="M84.10,80.50 L84.51,80.50 L84.93,80.50 L85.34,80.50 L85.76,80.50 L86.17,80.50 L86.59,80.50 L87.00,80.50 L87.41,80.50 L87.83,80.50 L88.24,80.50 L88.66,80.50 L89.07,80.50 L89.49,80.50 L89.90,80.50 L90.31,80.50 L90.73,80.50 L91.14,80.50 L91.56,80.50 L91.97,80.50 L92.39,80.50 L92.80,80.50 L93.21,80.50 L93.63,80.50 L94.04,80.50 L94.46,80.50 L94.87,80.50 L95.29,80.50 L95.70,80.50 L96.11,80.50 L96.53,80.50 L96.94,80.50 L97.36,80.50 L97.77,80.50 L98.19,80.49 L98.60,80.49 L99.01,80.49 L99.43,80.49 L99.84,80.48 L100.26,80.48 L100.67,80.47 L101.09,80.46 L101.50,80.45 L101.91,80.43 L102.33,80.42 L102.74,80.39 L103.16,80.37 L103.57,80.33 L103.99,80.29 L104.40,80.23 L104.81,80.17 L105.23,80.09 L105.64,79.99 L106.06,79.88 L106.47,79.74 L106.89,79.57 L107.30,79.37 L107.71,79.13 L108.13,78.85 L108.54,78.52 L108.96,78.14 L109.37,77.69 L109.79,77.17 L110.20,76.58 L110.61,75.90 L111.03,75.14 L111.44,74.28 L111.86,73.32 L112.27,72.25 L112.69,71.08 L113.10,69.80 L113.51,68.43 L113.93,66.96 L114.34,65.42 L114.76,63.81 L115.17,62.17 L115.59,60.52 L116.00,58.91 L116.41,57.38 L116.83,56.01 L117.24,54.87 L117.66,54.11 L118.07,54.42 L118.49,55.73 L118.90,57.46 L119.31,59.44 L119.73,61.53 L120.14,63.64 L120.56,65.69 L120.97,67.64 L121.39,69.45 L121.80,71.10 L122.21,72.57 L122.63,73.88 L123.04,75.02 L123.46,76.00 L123.87,76.83 L124.29,77.54 L124.70,78.12 L125.11,78.61 L125.53,79.01 L125.94,79.33 L126.36,79.59 L126.77,79.79 L127.19,79.96 L127.60,80.08 L128.01,80.18 L128.43,80.26 L128.84,80.32 L129.26,80.37 L129.67,80.40 L130.09,80.43 L130.50,80.45 L130.91,80.46 L131.33,80.47 L131.74,80.48 L132.16,80.49 L132.57,80.49 L132.99,80.49 L133.40,80.49 L133.81,80.50 L134.23,80.50 L134.64,80.50 L135.06,80.50 L135.47,80.50 L135.89,80.50 L136.30,80.50 L136.71,80.50 L137.13,80.50 L137.54,80.50 L137.96,80.50 L138.37,80.50 L138.79,80.50 L139.20,80.50 L139.61,80.50 L140.03,80.50 L140.44,80.50 L140.86,80.50 L141.27,80.50 L141.69,80.50 L142.10,80.50" fill="none" stroke="#1f2d5c" stroke-width="1.0"/>
<path d="M84.10,93.80 L84.51,93.80 L84.93,93.80 L85.34,93.80 L85.76,93.80 L86.17,93.80 L86.59,93.80 L87.00,93.80 L87.41,93.80 L87.83,93.80 L88.24,93.80 L88.66,93.80 L89.07,93.80 L89.49,93.80 L89.90,93.80 L90.31,93.80 L90.73,93.80 L91.14,93.80 L91.56,93.80 L91.97,93.80 L92.39,93.80 L92.80,93.80 L93.21,93.80 L93.63,93.80 L94.04,93.80 L94.46,93.80 L94.87,93.80 L95.29,93.80 L95.70,93.80 L96.11,93.80 L96.53,93.80 L96.94,93.80 L97.36,93.80 L97.77,93.80 L98.19,93.80 L98.60,93.80 L99.01,93.80 L99.43,93.80 L99.84,93.80 L100.26,93.80 L100.67,93.80 L101.09,93.80 L101.50,93.80 L101.91,93.80 L102.33,93.80 L102.74,93.80 L103.16,93.80 L103.57,93.80 L103.99,93.80 L104.40,93.80 L104.81,93.80 L105.23,93.80 L105.64,93.80 L106.06,93.80 L106.47,93.80 L106.89,93.80 L107.30,93.80 L107.71,93.79 L108.13,93.79 L108.54,93.78 L108.96,93.76 L109.37,93.73 L109.79,93.68 L110.20,93.60 L110.61,93.49 L111.03,93.31 L111.44,93.04 L111.86,92.66 L112.27,92.14 L112.69,91.42 L113.10,90.47 L113.51,89.26 L113.93,87.75 L114.34,85.92 L114.76,83.79 L115.17,81.40 L115.59,78.81 L116.00,76.13 L116.41,73.50 L116.83,71.08 L117.24,69.05 L117.66,67.59 L118.07,66.85 L118.49,67.04 L118.90,68.07 L119.31,69.77 L119.73,71.96 L120.14,74.48 L120.56,77.15 L120.97,79.81 L121.39,82.33 L121.80,84.63 L122.21,86.65 L122.63,88.36 L123.04,89.75 L123.46,90.86 L123.87,91.72 L124.29,92.36 L124.70,92.82 L125.11,93.15 L125.53,93.38 L125.94,93.54 L126.36,93.64 L126.77,93.70 L127.19,93.74 L127.60,93.77 L128.01,93.78 L128.43,93.79 L128.84,93.79 L129.26,93.80 L129.67,93.80 L130.09,93.80 L130.50,93.80 L130.91,93.80 L131.33,93.80 L131.74,93.80 L132.16,93.80 L132.57,93.80 L132.99,93.80 L133.40,93.80 L133.81,93.80 L134.23,93.80 L134.64,93.80 L135.06,93.80 L135.47,93.80 L135.89,93.80 L136.30,93.80 L136.71,93.80 L137.13,93.80 L137.54,93.80 L137.96,93.80 L138.37,93.80 L138.79,93.80 L139.20,93.80 L139.61,93.80 L140.03,93.80 L140.44,93.80 L140.86,93.80 L141.27,93.80 L141.69,93.80 L142.10,93.80" fill="none" stroke="#9c2a6c" stroke-width="1.0" opacity="0.3"/>
<rect x="84.1" y="36.4" width="58.0" height="57.4" fill="none" stroke="#111" stroke-width="1.25"/>
<line x1="83.6" y1="94.0" x2="142.6" y2="94.0" stroke="#000" stroke-width="1.5"/>
<line x1="85.1" y1="93.8" x2="85.1" y2="96.3" stroke="#222" stroke-width="0.55"/>
<line x1="86.4" y1="93.8" x2="86.4" y2="95.7" stroke="#222" stroke-width="0.55"/>
<line x1="87.7" y1="93.8" x2="87.7" y2="95.7" stroke="#222" stroke-width="0.55"/>
<line x1="89.0" y1="93.8" x2="89.0" y2="96.3" stroke="#222" stroke-width="0.55"/>
<line x1="90.3" y1="93.8" x2="90.3" y2="95.7" stroke="#222" stroke-width="0.55"/>
<line x1="91.6" y1="93.8" x2="91.6" y2="95.7" stroke="#222" stroke-width="0.55"/>
<line x1="92.9" y1="93.8" x2="92.9" y2="96.3" stroke="#222" stroke-width="0.55"/>
<line x1="94.2" y1="93.8" x2="94.2" y2="95.7" stroke="#222" stroke-width="0.55"/>
<line x1="95.5" y1="93.8" x2="95.5" y2="95.7" stroke="#222" stroke-width="0.55"/>
<line x1="96.8" y1="93.8" x2="96.8" y2="96.3" stroke="#222" stroke-width="0.55"/>
<line x1="98.1" y1="93.8" x2="98.1" y2="95.7" stroke="#222" stroke-width="0.55"/>
<line x1="99.4" y1="93.8" x2="99.4" y2="95.7" stroke="#222" stroke-width="0.55"/>
<line x1="100.7" y1="93.8" x2="100.7" y2="96.3" stroke="#222" stroke-width="0.55"/>
<line x1="102.0" y1="93.8" x2="102.0" y2="95.7" stroke="#222" stroke-width="0.55"/>
<line x1="103.3" y1="93.8" x2="103.3" y2="95.7" stroke="#222" stroke-width="0.55"/>
<line x1="104.6" y1="93.8" x2="104.6" y2="96.3" stroke="#222" stroke-width="0.55"/>
<line x1="105.9" y1="93.8" x2="105.9" y2="95.7" stroke="#222" stroke-width="0.55"/>
<line x1="107.2" y1="93.8" x2="107.2" y2="95.7" stroke="#222" stroke-width="0.55"/>
<line x1="108.5" y1="93.8" x2="108.5" y2="96.3" stroke="#222" stroke-width="0.55"/>
<line x1="109.8" y1="93.8" x2="109.8" y2="95.7" stroke="#222" stroke-width="0.55"/>
<line x1="111.1" y1="93.8" x2="111.1" y2="95.7" stroke="#222" stroke-width="0.55"/>
<line x1="112.4" y1="93.8" x2="112.4" y2="96.3" stroke="#222" stroke-width="0.55"/>
<line x1="113.7" y1="93.8" x2="113.7" y2="95.7" stroke="#222" stroke-width="0.55"/>
<line x1="115.0" y1="93.8" x2="115.0" y2="95.7" stroke="#222" stroke-width="0.55"/>
<line x1="116.3" y1="93.8" x2="116.3" y2="96.3" stroke="#222" stroke-width="0.55"/>
<line x1="117.6" y1="93.8" x2="117.6" y2="95.7" stroke="#222" stroke-width="0.55"/>
<line x1="118.9" y1="93.8" x2="118.9" y2="95.7" stroke="#222" stroke-width="0.55"/>
<line x1="120.2" y1="93.8" x2="120.2" y2="96.3" stroke="#222" stroke-width="0.55"/>
<line x1="121.5" y1="93.8" x2="121.5" y2="95.7" stroke="#222" stroke-width="0.55"/>
<line x1="122.8" y1="93.8" x2="122.8" y2="95.7" stroke="#222" stroke-width="0.55"/>
<line x1="124.1" y1="93.8" x2="124.1" y2="96.3" stroke="#222" stroke-width="0.55"/>
<line x1="125.4" y1="93.8" x2="125.4" y2="95.7" stroke="#222" stroke-width="0.55"/>
<line x1="126.7" y1="93.8" x2="126.7" y2="95.7" stroke="#222" stroke-width="0.55"/>
<line x1="128.0" y1="93.8" x2="128.0" y2="96.3" stroke="#222" stroke-width="0.55"/>
<line x1="129.3" y1="93.8" x2="129.3" y2="95.7" stroke="#222" stroke-width="0.55"/>
<line x1="130.6" y1="93.8" x2="130.6" y2="95.7" stroke="#222" stroke-width="0.55"/>
<line x1="131.9" y1="93.8" x2="131.9" y2="96.3" stroke="#222" stroke-width="0.55"/>
<line x1="133.2" y1="93.8" x2="133.2" y2="95.7" stroke="#222" stroke-width="0.55"/>
<line x1="134.5" y1="93.8" x2="134.5" y2="95.7" stroke="#222" stroke-width="0.55"/>
<line x1="135.8" y1="93.8" x2="135.8" y2="96.3" stroke="#222" stroke-width="0.55"/>
<line x1="137.1" y1="93.8" x2="137.1" y2="95.7" stroke="#222" stroke-width="0.55"/>
<line x1="138.4" y1="93.8" x2="138.4" y2="95.7" stroke="#222" stroke-width="0.55"/>
<line x1="139.7" y1="93.8" x2="139.7" y2="96.3" stroke="#222" stroke-width="0.55"/>
<line x1="141.0" y1="93.8" x2="141.0" y2="95.7" stroke="#222" stroke-width="0.55"/>
<text x="145.8" y="68.2" font-size="7.5" text-anchor="start" font-weight="normal" fill="#111" stroke="#111" stroke-width="0.1" >HHV-8 MCD</text>
<text x="145.8" y="80.3" font-size="7.5" text-anchor="start" font-weight="normal" fill="#111" stroke="#111" stroke-width="0.1" >KS</text>
<text x="145.8" y="94.4" font-size="7.5" text-anchor="start" font-weight="normal" fill="#111" stroke="#111" stroke-width="0.1" >HDs</text>
<text x="12.4" y="106.6" font-size="5.3" text-anchor="middle" fill="#222" stroke="#222" stroke-width="0.12">10<tspan font-size="3.50" dy="-2.65">0</tspan></text>
<text x="22.6" y="106.6" font-size="5.3" text-anchor="middle" fill="#222" stroke="#222" stroke-width="0.12">10<tspan font-size="3.50" dy="-2.65">1</tspan></text>
<text x="33.2" y="106.6" font-size="5.3" text-anchor="middle" fill="#222" stroke="#222" stroke-width="0.12">10<tspan font-size="3.50" dy="-2.65">2</tspan></text>
<text x="44.0" y="106.6" font-size="5.3" text-anchor="middle" fill="#222" stroke="#222" stroke-width="0.12">10<tspan font-size="3.50" dy="-2.65">3</tspan></text>
<text x="54.7" y="106.6" font-size="5.3" text-anchor="middle" fill="#222" stroke="#222" stroke-width="0.12">10<tspan font-size="3.50" dy="-2.65">4</tspan></text>
<text x="65.1" y="106.6" font-size="5.3" text-anchor="middle" fill="#222" stroke="#222" stroke-width="0.12">10<tspan font-size="3.50" dy="-2.65">5</tspan></text>
<text x="86.4" y="106.6" font-size="5.3" text-anchor="middle" fill="#222" stroke="#222" stroke-width="0.12">-10<tspan font-size="3.50" dy="-2.65">2</tspan></text>
<text x="96.6" y="106.6" font-size="5.3" text-anchor="middle" font-weight="normal" fill="#222" stroke="#222" stroke-width="0.1" >0</text>
<text x="107.2" y="106.6" font-size="5.3" text-anchor="middle" fill="#222" stroke="#222" stroke-width="0.12">10<tspan font-size="3.50" dy="-2.65">3</tspan></text>
<text x="122.8" y="106.6" font-size="5.3" text-anchor="middle" fill="#222" stroke="#222" stroke-width="0.12">10<tspan font-size="3.50" dy="-2.65">4</tspan></text>
<text x="135.8" y="106.6" font-size="5.3" text-anchor="middle" fill="#222" stroke="#222" stroke-width="0.12">10<tspan font-size="3.50" dy="-2.65">5</tspan></text>
<line x1="7.3" y1="116.1" x2="59.3" y2="116.1" stroke="#000" stroke-width="1.3"/>
<text x="61.4" y="119.0" font-size="9.6" textLength="20.3" lengthAdjust="spacingAndGlyphs" fill="#111" stroke="#111" stroke-width="0.35">CD1d</text>
<line x1="83.7" y1="116.1" x2="136" y2="116.1" stroke="#000" stroke-width="1.3"/>
<path d="M134.5,112.9 L142.4,116.1 L134.5,119.4 L136.2,116.1 Z" fill="#000"/>
<text x="123.5" y="160.9" font-size="9.9" text-anchor="middle" font-weight="normal" fill="#111" stroke="#111" stroke-width="0.1" >Na&#239;ve B cells</text>
<text x="201.9" y="161.0" font-size="9.9" text-anchor="middle" font-weight="normal" fill="#111" stroke="#111" stroke-width="0.1" >Switched memory</text>
<text x="201.9" y="172.0" font-size="9.9" text-anchor="middle" font-weight="normal" fill="#111" stroke="#111" stroke-width="0.1" >B cells</text>
<text x="280.3" y="161.0" font-size="9.9" text-anchor="middle" font-weight="normal" fill="#111" stroke="#111" stroke-width="0.1" >Marginal Zone</text>
<text x="280.3" y="172.0" font-size="9.9" text-anchor="middle" font-weight="normal" fill="#111" stroke="#111" stroke-width="0.1" >B cells</text>
<text x="358.5" y="161.0" font-size="9.9" text-anchor="middle" fill="#111" stroke="#111" stroke-width="0.1">CD27<tspan font-size="6" dy="-3.8">-</tspan><tspan dy="3.8"> memory</tspan></text>
<text x="358.5" y="172.0" font-size="9.9" text-anchor="middle" font-weight="normal" fill="#111" stroke="#111" stroke-width="0.1" >B cells</text>
<line x1="96.6" y1="175.7" x2="96.6" y2="233.3" stroke="#d0d0d0" stroke-width="0.8"/>
<line x1="117.7" y1="175.7" x2="117.7" y2="233.3" stroke="#d0d0d0" stroke-width="0.8"/>
<line x1="133.9" y1="175.7" x2="133.9" y2="233.3" stroke="#d0d0d0" stroke-width="0.8"/>
<line x1="147.3" y1="175.7" x2="147.3" y2="233.3" stroke="#d0d0d0" stroke-width="0.8"/>
<rect x="106.19999999999999" y="175.7" width="2.8" height="57.60000000000002" fill="#d8d8d8"/>
<path d="M94.60,204.50 L95.01,204.50 L95.43,204.50 L95.84,204.50 L96.25,204.50 L96.66,204.50 L97.08,204.50 L97.49,204.50 L97.90,204.50 L98.32,204.50 L98.73,204.50 L99.14,204.50 L99.55,204.50 L99.97,204.50 L100.38,204.50 L100.79,204.50 L101.21,204.50 L101.62,204.50 L102.03,204.49 L102.44,204.49 L102.86,204.49 L103.27,204.49 L103.68,204.48 L104.10,204.48 L104.51,204.48 L104.92,204.47 L105.33,204.46 L105.75,204.45 L106.16,204.44 L106.57,204.43 L106.99,204.41 L107.40,204.39 L107.81,204.36 L108.22,204.33 L108.64,204.29 L109.05,204.25 L109.46,204.19 L109.88,204.13 L110.29,204.05 L110.70,203.96 L111.11,203.85 L111.53,203.72 L111.94,203.57 L112.35,203.39 L112.77,203.19 L113.18,202.95 L113.59,202.67 L114.00,202.35 L114.42,201.98 L114.83,201.55 L115.24,201.07 L115.66,200.53 L116.07,199.92 L116.48,199.23 L116.89,198.46 L117.31,197.61 L117.72,196.68 L118.13,195.65 L118.55,194.54 L118.96,193.34 L119.37,192.06 L119.78,190.70 L120.20,189.28 L120.61,187.80 L121.02,186.30 L121.44,184.79 L121.85,183.32 L122.26,181.91 L122.67,180.64 L123.09,179.58 L123.50,178.87 L123.91,179.44 L124.33,180.98 L124.74,182.91 L125.15,185.02 L125.56,187.18 L125.98,189.30 L126.39,191.32 L126.80,193.20 L127.22,194.91 L127.63,196.44 L128.04,197.78 L128.45,198.95 L128.87,199.96 L129.28,200.81 L129.69,201.52 L130.11,202.12 L130.52,202.61 L130.93,203.01 L131.34,203.33 L131.76,203.59 L132.17,203.80 L132.58,203.96 L133.00,204.09 L133.41,204.19 L133.82,204.26 L134.23,204.32 L134.65,204.37 L135.06,204.40 L135.47,204.43 L135.89,204.45 L136.30,204.46 L136.71,204.47 L137.12,204.48 L137.54,204.49 L137.95,204.49 L138.36,204.49 L138.78,204.49 L139.19,204.50 L139.60,204.50 L140.01,204.50 L140.43,204.50 L140.84,204.50 L141.25,204.50 L141.67,204.50 L142.08,204.50 L142.49,204.50 L142.90,204.50 L143.32,204.50 L143.73,204.50 L144.14,204.50 L144.56,204.50 L144.97,204.50 L145.38,204.50 L145.79,204.50 L146.21,204.50 L146.62,204.50 L147.03,204.50 L147.45,204.50 L147.86,204.50 L148.27,204.50 L148.68,204.50 L149.10,204.50 L149.51,204.50 L149.92,204.50 L150.34,204.50 L150.75,204.50 L151.16,204.50 L151.57,204.50 L151.99,204.50 L152.40,204.50 L152.40,204.5 L94.60,204.5 Z" fill="#74ad45" stroke="none"/>
<path d="M94.60,204.50 L95.01,204.50 L95.43,204.50 L95.84,204.50 L96.25,204.50 L96.66,204.50 L97.08,204.50 L97.49,204.50 L97.90,204.50 L98.32,204.50 L98.73,204.50 L99.14,204.50 L99.55,204.50 L99.97,204.50 L100.38,204.50 L100.79,204.50 L101.21,204.50 L101.62,204.50 L102.03,204.49 L102.44,204.49 L102.86,204.49 L103.27,204.49 L103.68,204.48 L104.10,204.48 L104.51,204.48 L104.92,204.47 L105.33,204.46 L105.75,204.45 L106.16,204.44 L106.57,204.43 L106.99,204.41 L107.40,204.39 L107.81,204.36 L108.22,204.33 L108.64,204.29 L109.05,204.25 L109.46,204.19 L109.88,204.13 L110.29,204.05 L110.70,203.96 L111.11,203.85 L111.53,203.72 L111.94,203.57 L112.35,203.39 L112.77,203.19 L113.18,202.95 L113.59,202.67 L114.00,202.35 L114.42,201.98 L114.83,201.55 L115.24,201.07 L115.66,200.53 L116.07,199.92 L116.48,199.23 L116.89,198.46 L117.31,197.61 L117.72,196.68 L118.13,195.65 L118.55,194.54 L118.96,193.34 L119.37,192.06 L119.78,190.70 L120.20,189.28 L120.61,187.80 L121.02,186.30 L121.44,184.79 L121.85,183.32 L122.26,181.91 L122.67,180.64 L123.09,179.58 L123.50,178.87 L123.91,179.44 L124.33,180.98 L124.74,182.91 L125.15,185.02 L125.56,187.18 L125.98,189.30 L126.39,191.32 L126.80,193.20 L127.22,194.91 L127.63,196.44 L128.04,197.78 L128.45,198.95 L128.87,199.96 L129.28,200.81 L129.69,201.52 L130.11,202.12 L130.52,202.61 L130.93,203.01 L131.34,203.33 L131.76,203.59 L132.17,203.80 L132.58,203.96 L133.00,204.09 L133.41,204.19 L133.82,204.26 L134.23,204.32 L134.65,204.37 L135.06,204.40 L135.47,204.43 L135.89,204.45 L136.30,204.46 L136.71,204.47 L137.12,204.48 L137.54,204.49 L137.95,204.49 L138.36,204.49 L138.78,204.49 L139.19,204.50 L139.60,204.50 L140.01,204.50 L140.43,204.50 L140.84,204.50 L141.25,204.50 L141.67,204.50 L142.08,204.50 L142.49,204.50 L142.90,204.50 L143.32,204.50 L143.73,204.50 L144.14,204.50 L144.56,204.50 L144.97,204.50 L145.38,204.50 L145.79,204.50 L146.21,204.50 L146.62,204.50 L147.03,204.50 L147.45,204.50 L147.86,204.50 L148.27,204.50 L148.68,204.50 L149.10,204.50 L149.51,204.50 L149.92,204.50 L150.34,204.50 L150.75,204.50 L151.16,204.50 L151.57,204.50 L151.99,204.50 L152.40,204.50" fill="none" stroke="#4b7d30" stroke-width="1.0"/>
<path d="M94.60,233.30 L95.01,233.30 L95.43,233.30 L95.84,233.30 L96.25,233.30 L96.66,233.30 L97.08,233.30 L97.49,233.30 L97.90,233.30 L98.32,233.30 L98.73,233.30 L99.14,233.30 L99.55,233.30 L99.97,233.30 L100.38,233.30 L100.79,233.30 L101.21,233.30 L101.62,233.30 L102.03,233.30 L102.44,233.30 L102.86,233.30 L103.27,233.30 L103.68,233.30 L104.10,233.30 L104.51,233.30 L104.92,233.30 L105.33,233.30 L105.75,233.30 L106.16,233.30 L106.57,233.30 L106.99,233.30 L107.40,233.30 L107.81,233.30 L108.22,233.30 L108.64,233.30 L109.05,233.30 L109.46,233.29 L109.88,233.29 L110.29,233.28 L110.70,233.27 L111.11,233.25 L111.53,233.22 L111.94,233.19 L112.35,233.13 L112.77,233.06 L113.18,232.95 L113.59,232.80 L114.00,232.60 L114.42,232.34 L114.83,232.00 L115.24,231.56 L115.66,231.02 L116.07,230.34 L116.48,229.52 L116.89,228.54 L117.31,227.40 L117.72,226.10 L118.13,224.65 L118.55,223.07 L118.96,221.39 L119.37,219.65 L119.78,217.92 L120.20,216.24 L120.61,214.70 L121.02,213.37 L121.44,212.31 L121.85,211.60 L122.26,211.30 L122.67,211.54 L123.09,212.27 L123.50,213.39 L123.91,214.84 L124.33,216.51 L124.74,218.32 L125.15,220.19 L125.56,222.03 L125.98,223.79 L126.39,225.42 L126.80,226.89 L127.22,228.17 L127.63,229.27 L128.04,230.19 L128.45,230.94 L128.87,231.54 L129.28,232.01 L129.69,232.37 L130.11,232.64 L130.52,232.84 L130.93,232.98 L131.34,233.09 L131.76,233.16 L132.17,233.21 L132.58,233.24 L133.00,233.26 L133.41,233.28 L133.82,233.29 L134.23,233.29 L134.65,233.29 L135.06,233.30 L135.47,233.30 L135.89,233.30 L136.30,233.30 L136.71,233.30 L137.12,233.30 L137.54,233.30 L137.95,233.30 L138.36,233.30 L138.78,233.30 L139.19,233.30 L139.60,233.30 L140.01,233.30 L140.43,233.30 L140.84,233.30 L141.25,233.30 L141.67,233.30 L142.08,233.30 L142.49,233.30 L142.90,233.30 L143.32,233.30 L143.73,233.30 L144.14,233.30 L144.56,233.30 L144.97,233.30 L145.38,233.30 L145.79,233.30 L146.21,233.30 L146.62,233.30 L147.03,233.30 L147.45,233.30 L147.86,233.30 L148.27,233.30 L148.68,233.30 L149.10,233.30 L149.51,233.30 L149.92,233.30 L150.34,233.30 L150.75,233.30 L151.16,233.30 L151.57,233.30 L151.99,233.30 L152.40,233.30" fill="none" stroke="#861434" stroke-width="1.0"/>
<path d="M94.60,219.30 L95.01,219.30 L95.43,219.29 L95.84,219.29 L96.25,219.29 L96.66,219.29 L97.08,219.29 L97.49,219.28 L97.90,219.28 L98.32,219.28 L98.73,219.27 L99.14,219.27 L99.55,219.26 L99.97,219.25 L100.38,219.25 L100.79,219.23 L101.21,219.22 L101.62,219.21 L102.03,219.19 L102.44,219.17 L102.86,219.15 L103.27,219.12 L103.68,219.08 L104.10,219.05 L104.51,219.00 L104.92,218.95 L105.33,218.89 L105.75,218.82 L106.16,218.74 L106.57,218.65 L106.99,218.55 L107.40,218.43 L107.81,218.29 L108.22,218.13 L108.64,217.96 L109.05,217.76 L109.46,217.53 L109.88,217.28 L110.29,216.99 L110.70,216.67 L111.11,216.31 L111.53,215.92 L111.94,215.48 L112.35,214.99 L112.77,214.46 L113.18,213.87 L113.59,213.23 L114.00,212.53 L114.42,211.78 L114.83,210.96 L115.24,210.08 L115.66,209.15 L116.07,208.15 L116.48,207.10 L116.89,206.00 L117.31,204.84 L117.72,203.65 L118.13,202.43 L118.55,201.19 L118.96,199.95 L119.37,198.72 L119.78,197.52 L120.20,196.40 L120.61,195.36 L121.02,194.48 L121.44,193.82 L121.85,193.77 L122.26,194.79 L122.67,196.24 L123.09,197.92 L123.50,199.72 L123.91,201.57 L124.33,203.39 L124.74,205.15 L125.15,206.82 L125.56,208.38 L125.98,209.82 L126.39,211.12 L126.80,212.29 L127.22,213.33 L127.63,214.25 L128.04,215.05 L128.45,215.75 L128.87,216.34 L129.28,216.85 L129.69,217.29 L130.11,217.65 L130.52,217.96 L130.93,218.21 L131.34,218.42 L131.76,218.59 L132.17,218.74 L132.58,218.85 L133.00,218.94 L133.41,219.02 L133.82,219.08 L134.23,219.13 L134.65,219.17 L135.06,219.20 L135.47,219.22 L135.89,219.24 L136.30,219.25 L136.71,219.26 L137.12,219.27 L137.54,219.28 L137.95,219.28 L138.36,219.29 L138.78,219.29 L139.19,219.29 L139.60,219.29 L140.01,219.30 L140.43,219.30 L140.84,219.30 L141.25,219.30 L141.67,219.30 L142.08,219.30 L142.49,219.30 L142.90,219.30 L143.32,219.30 L143.73,219.30 L144.14,219.30 L144.56,219.30 L144.97,219.30 L145.38,219.30 L145.79,219.30 L146.21,219.30 L146.62,219.30 L147.03,219.30 L147.45,219.30 L147.86,219.30 L148.27,219.30 L148.68,219.30 L149.10,219.30 L149.51,219.30 L149.92,219.30 L150.34,219.30 L150.75,219.30 L151.16,219.30 L151.57,219.30 L151.99,219.30 L152.40,219.30 L152.40,219.3 L94.60,219.3 Z" fill="#324d8c" stroke="none" style="mix-blend-mode:multiply"/>
<path d="M94.60,219.30 L95.01,219.30 L95.43,219.29 L95.84,219.29 L96.25,219.29 L96.66,219.29 L97.08,219.29 L97.49,219.28 L97.90,219.28 L98.32,219.28 L98.73,219.27 L99.14,219.27 L99.55,219.26 L99.97,219.25 L100.38,219.25 L100.79,219.23 L101.21,219.22 L101.62,219.21 L102.03,219.19 L102.44,219.17 L102.86,219.15 L103.27,219.12 L103.68,219.08 L104.10,219.05 L104.51,219.00 L104.92,218.95 L105.33,218.89 L105.75,218.82 L106.16,218.74 L106.57,218.65 L106.99,218.55 L107.40,218.43 L107.81,218.29 L108.22,218.13 L108.64,217.96 L109.05,217.76 L109.46,217.53 L109.88,217.28 L110.29,216.99 L110.70,216.67 L111.11,216.31 L111.53,215.92 L111.94,215.48 L112.35,214.99 L112.77,214.46 L113.18,213.87 L113.59,213.23 L114.00,212.53 L114.42,211.78 L114.83,210.96 L115.24,210.08 L115.66,209.15 L116.07,208.15 L116.48,207.10 L116.89,206.00 L117.31,204.84 L117.72,203.65 L118.13,202.43 L118.55,201.19 L118.96,199.95 L119.37,198.72 L119.78,197.52 L120.20,196.40 L120.61,195.36 L121.02,194.48 L121.44,193.82 L121.85,193.77 L122.26,194.79 L122.67,196.24 L123.09,197.92 L123.50,199.72 L123.91,201.57 L124.33,203.39 L124.74,205.15 L125.15,206.82 L125.56,208.38 L125.98,209.82 L126.39,211.12 L126.80,212.29 L127.22,213.33 L127.63,214.25 L128.04,215.05 L128.45,215.75 L128.87,216.34 L129.28,216.85 L129.69,217.29 L130.11,217.65 L130.52,217.96 L130.93,218.21 L131.34,218.42 L131.76,218.59 L132.17,218.74 L132.58,218.85 L133.00,218.94 L133.41,219.02 L133.82,219.08 L134.23,219.13 L134.65,219.17 L135.06,219.20 L135.47,219.22 L135.89,219.24 L136.30,219.25 L136.71,219.26 L137.12,219.27 L137.54,219.28 L137.95,219.28 L138.36,219.29 L138.78,219.29 L139.19,219.29 L139.60,219.29 L140.01,219.30 L140.43,219.30 L140.84,219.30 L141.25,219.30 L141.67,219.30 L142.08,219.30 L142.49,219.30 L142.90,219.30 L143.32,219.30 L143.73,219.30 L144.14,219.30 L144.56,219.30 L144.97,219.30 L145.38,219.30 L145.79,219.30 L146.21,219.30 L146.62,219.30 L147.03,219.30 L147.45,219.30 L147.86,219.30 L148.27,219.30 L148.68,219.30 L149.10,219.30 L149.51,219.30 L149.92,219.30 L150.34,219.30 L150.75,219.30 L151.16,219.30 L151.57,219.30 L151.99,219.30 L152.40,219.30" fill="none" stroke="#1f2d5c" stroke-width="1.0"/>
<path d="M94.60,233.30 L95.01,233.30 L95.43,233.30 L95.84,233.30 L96.25,233.30 L96.66,233.30 L97.08,233.30 L97.49,233.30 L97.90,233.30 L98.32,233.30 L98.73,233.30 L99.14,233.30 L99.55,233.30 L99.97,233.30 L100.38,233.30 L100.79,233.30 L101.21,233.30 L101.62,233.30 L102.03,233.30 L102.44,233.30 L102.86,233.30 L103.27,233.30 L103.68,233.30 L104.10,233.30 L104.51,233.30 L104.92,233.30 L105.33,233.30 L105.75,233.30 L106.16,233.30 L106.57,233.30 L106.99,233.30 L107.40,233.30 L107.81,233.30 L108.22,233.30 L108.64,233.30 L109.05,233.30 L109.46,233.29 L109.88,233.29 L110.29,233.28 L110.70,233.27 L111.11,233.25 L111.53,233.22 L111.94,233.19 L112.35,233.13 L112.77,233.06 L113.18,232.95 L113.59,232.80 L114.00,232.60 L114.42,232.34 L114.83,232.00 L115.24,231.56 L115.66,231.02 L116.07,230.34 L116.48,229.52 L116.89,228.54 L117.31,227.40 L117.72,226.10 L118.13,224.65 L118.55,223.07 L118.96,221.39 L119.37,219.65 L119.78,217.92 L120.20,216.24 L120.61,214.70 L121.02,213.37 L121.44,212.31 L121.85,211.60 L122.26,211.30 L122.67,211.54 L123.09,212.27 L123.50,213.39 L123.91,214.84 L124.33,216.51 L124.74,218.32 L125.15,220.19 L125.56,222.03 L125.98,223.79 L126.39,225.42 L126.80,226.89 L127.22,228.17 L127.63,229.27 L128.04,230.19 L128.45,230.94 L128.87,231.54 L129.28,232.01 L129.69,232.37 L130.11,232.64 L130.52,232.84 L130.93,232.98 L131.34,233.09 L131.76,233.16 L132.17,233.21 L132.58,233.24 L133.00,233.26 L133.41,233.28 L133.82,233.29 L134.23,233.29 L134.65,233.29 L135.06,233.30 L135.47,233.30 L135.89,233.30 L136.30,233.30 L136.71,233.30 L137.12,233.30 L137.54,233.30 L137.95,233.30 L138.36,233.30 L138.78,233.30 L139.19,233.30 L139.60,233.30 L140.01,233.30 L140.43,233.30 L140.84,233.30 L141.25,233.30 L141.67,233.30 L142.08,233.30 L142.49,233.30 L142.90,233.30 L143.32,233.30 L143.73,233.30 L144.14,233.30 L144.56,233.30 L144.97,233.30 L145.38,233.30 L145.79,233.30 L146.21,233.30 L146.62,233.30 L147.03,233.30 L147.45,233.30 L147.86,233.30 L148.27,233.30 L148.68,233.30 L149.10,233.30 L149.51,233.30 L149.92,233.30 L150.34,233.30 L150.75,233.30 L151.16,233.30 L151.57,233.30 L151.99,233.30 L152.40,233.30" fill="none" stroke="#9c2a6c" stroke-width="1.0" opacity="0.55"/>
<rect x="94.6" y="175.7" width="57.80000000000001" height="57.60000000000002" fill="none" stroke="#111" stroke-width="1.25"/>
<line x1="94.1" y1="233.5" x2="152.9" y2="233.5" stroke="#000" stroke-width="1.5"/>
<line x1="95.6" y1="233.3" x2="95.6" y2="235.8" stroke="#222" stroke-width="0.55"/>
<line x1="96.9" y1="233.3" x2="96.9" y2="235.20000000000002" stroke="#222" stroke-width="0.55"/>
<line x1="98.2" y1="233.3" x2="98.2" y2="235.20000000000002" stroke="#222" stroke-width="0.55"/>
<line x1="99.5" y1="233.3" x2="99.5" y2="235.8" stroke="#222" stroke-width="0.55"/>
<line x1="100.8" y1="233.3" x2="100.8" y2="235.20000000000002" stroke="#222" stroke-width="0.55"/>
<line x1="102.1" y1="233.3" x2="102.1" y2="235.20000000000002" stroke="#222" stroke-width="0.55"/>
<line x1="103.4" y1="233.3" x2="103.4" y2="235.8" stroke="#222" stroke-width="0.55"/>
<line x1="104.7" y1="233.3" x2="104.7" y2="235.20000000000002" stroke="#222" stroke-width="0.55"/>
<line x1="106.0" y1="233.3" x2="106.0" y2="235.20000000000002" stroke="#222" stroke-width="0.55"/>
<line x1="107.3" y1="233.3" x2="107.3" y2="235.8" stroke="#222" stroke-width="0.55"/>
<line x1="108.6" y1="233.3" x2="108.6" y2="235.20000000000002" stroke="#222" stroke-width="0.55"/>
<line x1="109.9" y1="233.3" x2="109.9" y2="235.20000000000002" stroke="#222" stroke-width="0.55"/>
<line x1="111.2" y1="233.3" x2="111.2" y2="235.8" stroke="#222" stroke-width="0.55"/>
<line x1="112.5" y1="233.3" x2="112.5" y2="235.20000000000002" stroke="#222" stroke-width="0.55"/>
<line x1="113.8" y1="233.3" x2="113.8" y2="235.20000000000002" stroke="#222" stroke-width="0.55"/>
<line x1="115.1" y1="233.3" x2="115.1" y2="235.8" stroke="#222" stroke-width="0.55"/>
<line x1="116.4" y1="233.3" x2="116.4" y2="235.20000000000002" stroke="#222" stroke-width="0.55"/>
<line x1="117.7" y1="233.3" x2="117.7" y2="235.20000000000002" stroke="#222" stroke-width="0.55"/>
<line x1="119.0" y1="233.3" x2="119.0" y2="235.8" stroke="#222" stroke-width="0.55"/>
<line x1="120.3" y1="233.3" x2="120.3" y2="235.20000000000002" stroke="#222" stroke-width="0.55"/>
<line x1="121.6" y1="233.3" x2="121.6" y2="235.20000000000002" stroke="#222" stroke-width="0.55"/>
<line x1="122.9" y1="233.3" x2="122.9" y2="235.8" stroke="#222" stroke-width="0.55"/>
<line x1="124.2" y1="233.3" x2="124.2" y2="235.20000000000002" stroke="#222" stroke-width="0.55"/>
<line x1="125.5" y1="233.3" x2="125.5" y2="235.20000000000002" stroke="#222" stroke-width="0.55"/>
<line x1="126.8" y1="233.3" x2="126.8" y2="235.8" stroke="#222" stroke-width="0.55"/>
<line x1="128.1" y1="233.3" x2="128.1" y2="235.20000000000002" stroke="#222" stroke-width="0.55"/>
<line x1="129.4" y1="233.3" x2="129.4" y2="235.20000000000002" stroke="#222" stroke-width="0.55"/>
<line x1="130.7" y1="233.3" x2="130.7" y2="235.8" stroke="#222" stroke-width="0.55"/>
<line x1="132.0" y1="233.3" x2="132.0" y2="235.20000000000002" stroke="#222" stroke-width="0.55"/>
<line x1="133.3" y1="233.3" x2="133.3" y2="235.20000000000002" stroke="#222" stroke-width="0.55"/>
<line x1="134.6" y1="233.3" x2="134.6" y2="235.8" stroke="#222" stroke-width="0.55"/>
<line x1="135.9" y1="233.3" x2="135.9" y2="235.20000000000002" stroke="#222" stroke-width="0.55"/>
<line x1="137.2" y1="233.3" x2="137.2" y2="235.20000000000002" stroke="#222" stroke-width="0.55"/>
<line x1="138.5" y1="233.3" x2="138.5" y2="235.8" stroke="#222" stroke-width="0.55"/>
<line x1="139.8" y1="233.3" x2="139.8" y2="235.20000000000002" stroke="#222" stroke-width="0.55"/>
<line x1="141.1" y1="233.3" x2="141.1" y2="235.20000000000002" stroke="#222" stroke-width="0.55"/>
<line x1="142.4" y1="233.3" x2="142.4" y2="235.8" stroke="#222" stroke-width="0.55"/>
<line x1="143.7" y1="233.3" x2="143.7" y2="235.20000000000002" stroke="#222" stroke-width="0.55"/>
<line x1="145.0" y1="233.3" x2="145.0" y2="235.20000000000002" stroke="#222" stroke-width="0.55"/>
<line x1="146.3" y1="233.3" x2="146.3" y2="235.8" stroke="#222" stroke-width="0.55"/>
<line x1="147.6" y1="233.3" x2="147.6" y2="235.20000000000002" stroke="#222" stroke-width="0.55"/>
<line x1="148.9" y1="233.3" x2="148.9" y2="235.20000000000002" stroke="#222" stroke-width="0.55"/>
<line x1="150.2" y1="233.3" x2="150.2" y2="235.8" stroke="#222" stroke-width="0.55"/>
<line x1="151.5" y1="233.3" x2="151.5" y2="235.20000000000002" stroke="#222" stroke-width="0.55"/>
<line x1="183.8" y1="177" x2="183.8" y2="233.8" stroke="#d0d0d0" stroke-width="0.8"/>
<line x1="193.7" y1="177" x2="193.7" y2="233.8" stroke="#d0d0d0" stroke-width="0.8"/>
<line x1="204.5" y1="177" x2="204.5" y2="233.8" stroke="#d0d0d0" stroke-width="0.8"/>
<line x1="215.5" y1="177" x2="215.5" y2="233.8" stroke="#d0d0d0" stroke-width="0.8"/>
<line x1="225.3" y1="177" x2="225.3" y2="233.8" stroke="#d0d0d0" stroke-width="0.8"/>
<path d="M173.20,204.90 L173.61,204.90 L174.02,204.90 L174.43,204.90 L174.85,204.90 L175.26,204.90 L175.67,204.90 L176.08,204.90 L176.49,204.90 L176.90,204.90 L177.31,204.90 L177.73,204.90 L178.14,204.90 L178.55,204.90 L178.96,204.90 L179.37,204.90 L179.78,204.90 L180.19,204.90 L180.61,204.90 L181.02,204.90 L181.43,204.90 L181.84,204.90 L182.25,204.90 L182.66,204.90 L183.07,204.90 L183.49,204.90 L183.90,204.90 L184.31,204.90 L184.72,204.90 L185.13,204.90 L185.54,204.90 L185.95,204.90 L186.37,204.90 L186.78,204.89 L187.19,204.89 L187.60,204.89 L188.01,204.88 L188.42,204.88 L188.83,204.87 L189.25,204.86 L189.66,204.85 L190.07,204.83 L190.48,204.81 L190.89,204.78 L191.30,204.75 L191.71,204.71 L192.13,204.65 L192.54,204.59 L192.95,204.52 L193.36,204.43 L193.77,204.32 L194.18,204.20 L194.59,204.05 L195.01,203.89 L195.42,203.70 L195.83,203.50 L196.24,203.27 L196.65,203.02 L197.06,202.74 L197.47,202.45 L197.89,202.14 L198.30,201.82 L198.71,201.49 L199.12,201.15 L199.53,200.82 L199.94,200.48 L200.35,200.16 L200.77,199.84 L201.18,199.54 L201.59,199.25 L202.00,198.97 L202.41,198.69 L202.82,198.40 L203.23,198.08 L203.65,197.72 L204.06,197.29 L204.47,196.76 L204.88,196.10 L205.29,195.28 L205.70,194.30 L206.11,193.14 L206.53,191.82 L206.94,190.38 L207.35,188.89 L207.76,187.45 L208.17,186.20 L208.58,185.31 L208.99,185.05 L209.41,186.37 L209.82,188.74 L210.23,191.55 L210.64,194.36 L211.05,196.91 L211.46,199.04 L211.87,200.73 L212.29,201.99 L212.70,202.90 L213.11,203.53 L213.52,203.96 L213.93,204.25 L214.34,204.44 L214.75,204.57 L215.17,204.66 L215.58,204.72 L215.99,204.76 L216.40,204.80 L216.81,204.82 L217.22,204.84 L217.63,204.86 L218.05,204.87 L218.46,204.88 L218.87,204.88 L219.28,204.89 L219.69,204.89 L220.10,204.89 L220.51,204.90 L220.93,204.90 L221.34,204.90 L221.75,204.90 L222.16,204.90 L222.57,204.90 L222.98,204.90 L223.39,204.90 L223.81,204.90 L224.22,204.90 L224.63,204.90 L225.04,204.90 L225.45,204.90 L225.86,204.90 L226.27,204.90 L226.69,204.90 L227.10,204.90 L227.51,204.90 L227.92,204.90 L228.33,204.90 L228.74,204.90 L229.15,204.90 L229.57,204.90 L229.98,204.90 L230.39,204.90 L230.80,204.90 L230.80,204.9 L173.20,204.9 Z" fill="#74ad45" stroke="none"/>
<path d="M173.20,204.90 L173.61,204.90 L174.02,204.90 L174.43,204.90 L174.85,204.90 L175.26,204.90 L175.67,204.90 L176.08,204.90 L176.49,204.90 L176.90,204.90 L177.31,204.90 L177.73,204.90 L178.14,204.90 L178.55,204.90 L178.96,204.90 L179.37,204.90 L179.78,204.90 L180.19,204.90 L180.61,204.90 L181.02,204.90 L181.43,204.90 L181.84,204.90 L182.25,204.90 L182.66,204.90 L183.07,204.90 L183.49,204.90 L183.90,204.90 L184.31,204.90 L184.72,204.90 L185.13,204.90 L185.54,204.90 L185.95,204.90 L186.37,204.90 L186.78,204.89 L187.19,204.89 L187.60,204.89 L188.01,204.88 L188.42,204.88 L188.83,204.87 L189.25,204.86 L189.66,204.85 L190.07,204.83 L190.48,204.81 L190.89,204.78 L191.30,204.75 L191.71,204.71 L192.13,204.65 L192.54,204.59 L192.95,204.52 L193.36,204.43 L193.77,204.32 L194.18,204.20 L194.59,204.05 L195.01,203.89 L195.42,203.70 L195.83,203.50 L196.24,203.27 L196.65,203.02 L197.06,202.74 L197.47,202.45 L197.89,202.14 L198.30,201.82 L198.71,201.49 L199.12,201.15 L199.53,200.82 L199.94,200.48 L200.35,200.16 L200.77,199.84 L201.18,199.54 L201.59,199.25 L202.00,198.97 L202.41,198.69 L202.82,198.40 L203.23,198.08 L203.65,197.72 L204.06,197.29 L204.47,196.76 L204.88,196.10 L205.29,195.28 L205.70,194.30 L206.11,193.14 L206.53,191.82 L206.94,190.38 L207.35,188.89 L207.76,187.45 L208.17,186.20 L208.58,185.31 L208.99,185.05 L209.41,186.37 L209.82,188.74 L210.23,191.55 L210.64,194.36 L211.05,196.91 L211.46,199.04 L211.87,200.73 L212.29,201.99 L212.70,202.90 L213.11,203.53 L213.52,203.96 L213.93,204.25 L214.34,204.44 L214.75,204.57 L215.17,204.66 L215.58,204.72 L215.99,204.76 L216.40,204.80 L216.81,204.82 L217.22,204.84 L217.63,204.86 L218.05,204.87 L218.46,204.88 L218.87,204.88 L219.28,204.89 L219.69,204.89 L220.10,204.89 L220.51,204.90 L220.93,204.90 L221.34,204.90 L221.75,204.90 L222.16,204.90 L222.57,204.90 L222.98,204.90 L223.39,204.90 L223.81,204.90 L224.22,204.90 L224.63,204.90 L225.04,204.90 L225.45,204.90 L225.86,204.90 L226.27,204.90 L226.69,204.90 L227.10,204.90 L227.51,204.90 L227.92,204.90 L228.33,204.90 L228.74,204.90 L229.15,204.90 L229.57,204.90 L229.98,204.90 L230.39,204.90 L230.80,204.90" fill="none" stroke="#4b7d30" stroke-width="1.0"/>
<path d="M173.20,233.80 L173.61,233.80 L174.02,233.80 L174.43,233.80 L174.85,233.80 L175.26,233.80 L175.67,233.80 L176.08,233.80 L176.49,233.80 L176.90,233.80 L177.31,233.80 L177.73,233.80 L178.14,233.80 L178.55,233.80 L178.96,233.80 L179.37,233.80 L179.78,233.80 L180.19,233.80 L180.61,233.80 L181.02,233.80 L181.43,233.80 L181.84,233.80 L182.25,233.80 L182.66,233.80 L183.07,233.80 L183.49,233.80 L183.90,233.80 L184.31,233.80 L184.72,233.80 L185.13,233.80 L185.54,233.80 L185.95,233.80 L186.37,233.80 L186.78,233.79 L187.19,233.79 L187.60,233.79 L188.01,233.78 L188.42,233.77 L188.83,233.76 L189.25,233.74 L189.66,233.73 L190.07,233.70 L190.48,233.67 L190.89,233.62 L191.30,233.57 L191.71,233.50 L192.13,233.42 L192.54,233.32 L192.95,233.20 L193.36,233.05 L193.77,232.88 L194.18,232.67 L194.59,232.44 L195.01,232.17 L195.42,231.87 L195.83,231.53 L196.24,231.17 L196.65,230.77 L197.06,230.34 L197.47,229.89 L197.89,229.42 L198.30,228.95 L198.71,228.48 L199.12,228.01 L199.53,227.56 L199.94,227.15 L200.35,226.76 L200.77,226.42 L201.18,226.12 L201.59,225.85 L202.00,225.60 L202.41,225.34 L202.82,225.02 L203.23,224.60 L203.65,224.00 L204.06,223.14 L204.47,221.97 L204.88,220.47 L205.29,218.64 L205.70,216.60 L206.11,214.50 L206.53,212.58 L206.94,211.13 L207.35,210.42 L207.76,210.73 L208.17,211.97 L208.58,213.87 L208.99,216.22 L209.41,218.81 L209.82,221.43 L210.23,223.91 L210.64,226.14 L211.05,228.03 L211.46,229.58 L211.87,230.79 L212.29,231.70 L212.70,232.37 L213.11,232.84 L213.52,233.16 L213.93,233.38 L214.34,233.52 L214.75,233.62 L215.17,233.68 L215.58,233.72 L215.99,233.74 L216.40,233.76 L216.81,233.77 L217.22,233.78 L217.63,233.79 L218.05,233.79 L218.46,233.79 L218.87,233.80 L219.28,233.80 L219.69,233.80 L220.10,233.80 L220.51,233.80 L220.93,233.80 L221.34,233.80 L221.75,233.80 L222.16,233.80 L222.57,233.80 L222.98,233.80 L223.39,233.80 L223.81,233.80 L224.22,233.80 L224.63,233.80 L225.04,233.80 L225.45,233.80 L225.86,233.80 L226.27,233.80 L226.69,233.80 L227.10,233.80 L227.51,233.80 L227.92,233.80 L228.33,233.80 L228.74,233.80 L229.15,233.80 L229.57,233.80 L229.98,233.80 L230.39,233.80 L230.80,233.80" fill="none" stroke="#861434" stroke-width="1.0"/>
<path d="M173.20,219.60 L173.61,219.60 L174.02,219.60 L174.43,219.60 L174.85,219.60 L175.26,219.60 L175.67,219.60 L176.08,219.60 L176.49,219.60 L176.90,219.60 L177.31,219.60 L177.73,219.60 L178.14,219.60 L178.55,219.60 L178.96,219.60 L179.37,219.60 L179.78,219.60 L180.19,219.60 L180.61,219.60 L181.02,219.60 L181.43,219.60 L181.84,219.60 L182.25,219.60 L182.66,219.60 L183.07,219.60 L183.49,219.60 L183.90,219.60 L184.31,219.60 L184.72,219.60 L185.13,219.60 L185.54,219.60 L185.95,219.60 L186.37,219.60 L186.78,219.59 L187.19,219.59 L187.60,219.59 L188.01,219.58 L188.42,219.58 L188.83,219.57 L189.25,219.56 L189.66,219.54 L190.07,219.52 L190.48,219.50 L190.89,219.47 L191.30,219.43 L191.71,219.38 L192.13,219.32 L192.54,219.24 L192.95,219.15 L193.36,219.04 L193.77,218.91 L194.18,218.75 L194.59,218.57 L195.01,218.35 L195.42,218.10 L195.83,217.82 L196.24,217.50 L196.65,217.15 L197.06,216.75 L197.47,216.32 L197.89,215.85 L198.30,215.34 L198.71,214.80 L199.12,214.23 L199.53,213.63 L199.94,213.02 L200.35,212.38 L200.77,211.73 L201.18,211.07 L201.59,210.40 L202.00,209.72 L202.41,209.04 L202.82,208.35 L203.23,207.65 L203.65,206.94 L204.06,206.20 L204.47,205.44 L204.88,204.65 L205.29,203.82 L205.70,202.95 L206.11,202.03 L206.53,201.06 L206.94,200.07 L207.35,199.05 L207.76,198.04 L208.17,197.08 L208.58,196.23 L208.99,195.58 L209.41,195.29 L209.82,196.17 L210.23,197.75 L210.64,199.59 L211.05,201.54 L211.46,203.51 L211.87,205.42 L212.29,207.25 L212.70,208.94 L213.11,210.48 L213.52,211.87 L213.93,213.11 L214.34,214.19 L214.75,215.12 L215.17,215.92 L215.58,216.60 L215.99,217.17 L216.40,217.65 L216.81,218.04 L217.22,218.36 L217.63,218.63 L218.05,218.84 L218.46,219.00 L218.87,219.14 L219.28,219.24 L219.69,219.33 L220.10,219.39 L220.51,219.44 L220.93,219.48 L221.34,219.51 L221.75,219.53 L222.16,219.55 L222.57,219.56 L222.98,219.57 L223.39,219.58 L223.81,219.59 L224.22,219.59 L224.63,219.59 L225.04,219.59 L225.45,219.60 L225.86,219.60 L226.27,219.60 L226.69,219.60 L227.10,219.60 L227.51,219.60 L227.92,219.60 L228.33,219.60 L228.74,219.60 L229.15,219.60 L229.57,219.60 L229.98,219.60 L230.39,219.60 L230.80,219.60 L230.80,219.6 L173.20,219.6 Z" fill="#324d8c" stroke="none" style="mix-blend-mode:multiply"/>
<path d="M173.20,219.60 L173.61,219.60 L174.02,219.60 L174.43,219.60 L174.85,219.60 L175.26,219.60 L175.67,219.60 L176.08,219.60 L176.49,219.60 L176.90,219.60 L177.31,219.60 L177.73,219.60 L178.14,219.60 L178.55,219.60 L178.96,219.60 L179.37,219.60 L179.78,219.60 L180.19,219.60 L180.61,219.60 L181.02,219.60 L181.43,219.60 L181.84,219.60 L182.25,219.60 L182.66,219.60 L183.07,219.60 L183.49,219.60 L183.90,219.60 L184.31,219.60 L184.72,219.60 L185.13,219.60 L185.54,219.60 L185.95,219.60 L186.37,219.60 L186.78,219.59 L187.19,219.59 L187.60,219.59 L188.01,219.58 L188.42,219.58 L188.83,219.57 L189.25,219.56 L189.66,219.54 L190.07,219.52 L190.48,219.50 L190.89,219.47 L191.30,219.43 L191.71,219.38 L192.13,219.32 L192.54,219.24 L192.95,219.15 L193.36,219.04 L193.77,218.91 L194.18,218.75 L194.59,218.57 L195.01,218.35 L195.42,218.10 L195.83,217.82 L196.24,217.50 L196.65,217.15 L197.06,216.75 L197.47,216.32 L197.89,215.85 L198.30,215.34 L198.71,214.80 L199.12,214.23 L199.53,213.63 L199.94,213.02 L200.35,212.38 L200.77,211.73 L201.18,211.07 L201.59,210.40 L202.00,209.72 L202.41,209.04 L202.82,208.35 L203.23,207.65 L203.65,206.94 L204.06,206.20 L204.47,205.44 L204.88,204.65 L205.29,203.82 L205.70,202.95 L206.11,202.03 L206.53,201.06 L206.94,200.07 L207.35,199.05 L207.76,198.04 L208.17,197.08 L208.58,196.23 L208.99,195.58 L209.41,195.29 L209.82,196.17 L210.23,197.75 L210.64,199.59 L211.05,201.54 L211.46,203.51 L211.87,205.42 L212.29,207.25 L212.70,208.94 L213.11,210.48 L213.52,211.87 L213.93,213.11 L214.34,214.19 L214.75,215.12 L215.17,215.92 L215.58,216.60 L215.99,217.17 L216.40,217.65 L216.81,218.04 L217.22,218.36 L217.63,218.63 L218.05,218.84 L218.46,219.00 L218.87,219.14 L219.28,219.24 L219.69,219.33 L220.10,219.39 L220.51,219.44 L220.93,219.48 L221.34,219.51 L221.75,219.53 L222.16,219.55 L222.57,219.56 L222.98,219.57 L223.39,219.58 L223.81,219.59 L224.22,219.59 L224.63,219.59 L225.04,219.59 L225.45,219.60 L225.86,219.60 L226.27,219.60 L226.69,219.60 L227.10,219.60 L227.51,219.60 L227.92,219.60 L228.33,219.60 L228.74,219.60 L229.15,219.60 L229.57,219.60 L229.98,219.60 L230.39,219.60 L230.80,219.60" fill="none" stroke="#1f2d5c" stroke-width="1.0"/>
<path d="M173.20,233.80 L173.61,233.80 L174.02,233.80 L174.43,233.80 L174.85,233.80 L175.26,233.80 L175.67,233.80 L176.08,233.80 L176.49,233.80 L176.90,233.80 L177.31,233.80 L177.73,233.80 L178.14,233.80 L178.55,233.80 L178.96,233.80 L179.37,233.80 L179.78,233.80 L180.19,233.80 L180.61,233.80 L181.02,233.80 L181.43,233.80 L181.84,233.80 L182.25,233.80 L182.66,233.80 L183.07,233.80 L183.49,233.80 L183.90,233.80 L184.31,233.80 L184.72,233.80 L185.13,233.80 L185.54,233.80 L185.95,233.80 L186.37,233.80 L186.78,233.79 L187.19,233.79 L187.60,233.79 L188.01,233.78 L188.42,233.77 L188.83,233.76 L189.25,233.74 L189.66,233.73 L190.07,233.70 L190.48,233.67 L190.89,233.62 L191.30,233.57 L191.71,233.50 L192.13,233.42 L192.54,233.32 L192.95,233.20 L193.36,233.05 L193.77,232.88 L194.18,232.67 L194.59,232.44 L195.01,232.17 L195.42,231.87 L195.83,231.53 L196.24,231.17 L196.65,230.77 L197.06,230.34 L197.47,229.89 L197.89,229.42 L198.30,228.95 L198.71,228.48 L199.12,228.01 L199.53,227.56 L199.94,227.15 L200.35,226.76 L200.77,226.42 L201.18,226.12 L201.59,225.85 L202.00,225.60 L202.41,225.34 L202.82,225.02 L203.23,224.60 L203.65,224.00 L204.06,223.14 L204.47,221.97 L204.88,220.47 L205.29,218.64 L205.70,216.60 L206.11,214.50 L206.53,212.58 L206.94,211.13 L207.35,210.42 L207.76,210.73 L208.17,211.97 L208.58,213.87 L208.99,216.22 L209.41,218.81 L209.82,221.43 L210.23,223.91 L210.64,226.14 L211.05,228.03 L211.46,229.58 L211.87,230.79 L212.29,231.70 L212.70,232.37 L213.11,232.84 L213.52,233.16 L213.93,233.38 L214.34,233.52 L214.75,233.62 L215.17,233.68 L215.58,233.72 L215.99,233.74 L216.40,233.76 L216.81,233.77 L217.22,233.78 L217.63,233.79 L218.05,233.79 L218.46,233.79 L218.87,233.80 L219.28,233.80 L219.69,233.80 L220.10,233.80 L220.51,233.80 L220.93,233.80 L221.34,233.80 L221.75,233.80 L222.16,233.80 L222.57,233.80 L222.98,233.80 L223.39,233.80 L223.81,233.80 L224.22,233.80 L224.63,233.80 L225.04,233.80 L225.45,233.80 L225.86,233.80 L226.27,233.80 L226.69,233.80 L227.10,233.80 L227.51,233.80 L227.92,233.80 L228.33,233.80 L228.74,233.80 L229.15,233.80 L229.57,233.80 L229.98,233.80 L230.39,233.80 L230.80,233.80" fill="none" stroke="#9c2a6c" stroke-width="1.0" opacity="0.55"/>
<line x1="173.79999999999998" y1="233.8" x2="173.79999999999998" y2="204.9" stroke="#861434" stroke-width="0.9"/>
<rect x="173.2" y="177" width="57.60000000000002" height="56.80000000000001" fill="none" stroke="#111" stroke-width="1.25"/>
<line x1="172.7" y1="234.0" x2="231.3" y2="234.0" stroke="#000" stroke-width="1.5"/>
<line x1="174.2" y1="233.8" x2="174.2" y2="236.3" stroke="#222" stroke-width="0.55"/>
<line x1="175.5" y1="233.8" x2="175.5" y2="235.70000000000002" stroke="#222" stroke-width="0.55"/>
<line x1="176.8" y1="233.8" x2="176.8" y2="235.70000000000002" stroke="#222" stroke-width="0.55"/>
<line x1="178.1" y1="233.8" x2="178.1" y2="236.3" stroke="#222" stroke-width="0.55"/>
<line x1="179.4" y1="233.8" x2="179.4" y2="235.70000000000002" stroke="#222" stroke-width="0.55"/>
<line x1="180.7" y1="233.8" x2="180.7" y2="235.70000000000002" stroke="#222" stroke-width="0.55"/>
<line x1="182.0" y1="233.8" x2="182.0" y2="236.3" stroke="#222" stroke-width="0.55"/>
<line x1="183.3" y1="233.8" x2="183.3" y2="235.70000000000002" stroke="#222" stroke-width="0.55"/>
<line x1="184.6" y1="233.8" x2="184.6" y2="235.70000000000002" stroke="#222" stroke-width="0.55"/>
<line x1="185.9" y1="233.8" x2="185.9" y2="236.3" stroke="#222" stroke-width="0.55"/>
<line x1="187.2" y1="233.8" x2="187.2" y2="235.70000000000002" stroke="#222" stroke-width="0.55"/>
<line x1="188.5" y1="233.8" x2="188.5" y2="235.70000000000002" stroke="#222" stroke-width="0.55"/>
<line x1="189.8" y1="233.8" x2="189.8" y2="236.3" stroke="#222" stroke-width="0.55"/>
<line x1="191.1" y1="233.8" x2="191.1" y2="235.70000000000002" stroke="#222" stroke-width="0.55"/>
<line x1="192.4" y1="233.8" x2="192.4" y2="235.70000000000002" stroke="#222" stroke-width="0.55"/>
<line x1="193.7" y1="233.8" x2="193.7" y2="236.3" stroke="#222" stroke-width="0.55"/>
<line x1="195.0" y1="233.8" x2="195.0" y2="235.70000000000002" stroke="#222" stroke-width="0.55"/>
<line x1="196.3" y1="233.8" x2="196.3" y2="235.70000000000002" stroke="#222" stroke-width="0.55"/>
<line x1="197.6" y1="233.8" x2="197.6" y2="236.3" stroke="#222" stroke-width="0.55"/>
<line x1="198.9" y1="233.8" x2="198.9" y2="235.70000000000002" stroke="#222" stroke-width="0.55"/>
<line x1="200.2" y1="233.8" x2="200.2" y2="235.70000000000002" stroke="#222" stroke-width="0.55"/>
<line x1="201.5" y1="233.8" x2="201.5" y2="236.3" stroke="#222" stroke-width="0.55"/>
<line x1="202.8" y1="233.8" x2="202.8" y2="235.70000000000002" stroke="#222" stroke-width="0.55"/>
<line x1="204.1" y1="233.8" x2="204.1" y2="235.70000000000002" stroke="#222" stroke-width="0.55"/>
<line x1="205.4" y1="233.8" x2="205.4" y2="236.3" stroke="#222" stroke-width="0.55"/>
<line x1="206.7" y1="233.8" x2="206.7" y2="235.70000000000002" stroke="#222" stroke-width="0.55"/>
<line x1="208.0" y1="233.8" x2="208.0" y2="235.70000000000002" stroke="#222" stroke-width="0.55"/>
<line x1="209.3" y1="233.8" x2="209.3" y2="236.3" stroke="#222" stroke-width="0.55"/>
<line x1="210.6" y1="233.8" x2="210.6" y2="235.70000000000002" stroke="#222" stroke-width="0.55"/>
<line x1="211.9" y1="233.8" x2="211.9" y2="235.70000000000002" stroke="#222" stroke-width="0.55"/>
<line x1="213.2" y1="233.8" x2="213.2" y2="236.3" stroke="#222" stroke-width="0.55"/>
<line x1="214.5" y1="233.8" x2="214.5" y2="235.70000000000002" stroke="#222" stroke-width="0.55"/>
<line x1="215.8" y1="233.8" x2="215.8" y2="235.70000000000002" stroke="#222" stroke-width="0.55"/>
<line x1="217.1" y1="233.8" x2="217.1" y2="236.3" stroke="#222" stroke-width="0.55"/>
<line x1="218.4" y1="233.8" x2="218.4" y2="235.70000000000002" stroke="#222" stroke-width="0.55"/>
<line x1="219.7" y1="233.8" x2="219.7" y2="235.70000000000002" stroke="#222" stroke-width="0.55"/>
<line x1="221.0" y1="233.8" x2="221.0" y2="236.3" stroke="#222" stroke-width="0.55"/>
<line x1="222.3" y1="233.8" x2="222.3" y2="235.70000000000002" stroke="#222" stroke-width="0.55"/>
<line x1="223.6" y1="233.8" x2="223.6" y2="235.70000000000002" stroke="#222" stroke-width="0.55"/>
<line x1="224.9" y1="233.8" x2="224.9" y2="236.3" stroke="#222" stroke-width="0.55"/>
<line x1="226.2" y1="233.8" x2="226.2" y2="235.70000000000002" stroke="#222" stroke-width="0.55"/>
<line x1="227.5" y1="233.8" x2="227.5" y2="235.70000000000002" stroke="#222" stroke-width="0.55"/>
<line x1="228.8" y1="233.8" x2="228.8" y2="236.3" stroke="#222" stroke-width="0.55"/>
<line x1="230.1" y1="233.8" x2="230.1" y2="235.70000000000002" stroke="#222" stroke-width="0.55"/>
<line x1="261.8" y1="177" x2="261.8" y2="233.8" stroke="#d0d0d0" stroke-width="0.8"/>
<line x1="272.4" y1="177" x2="272.4" y2="233.8" stroke="#d0d0d0" stroke-width="0.8"/>
<line x1="282.9" y1="177" x2="282.9" y2="233.8" stroke="#d0d0d0" stroke-width="0.8"/>
<line x1="293.5" y1="177" x2="293.5" y2="233.8" stroke="#d0d0d0" stroke-width="0.8"/>
<line x1="304" y1="177" x2="304" y2="233.8" stroke="#d0d0d0" stroke-width="0.8"/>
<path d="M252.00,205.10 L252.41,205.10 L252.82,205.10 L253.23,205.10 L253.64,205.10 L254.05,205.10 L254.46,205.10 L254.87,205.10 L255.28,205.10 L255.69,205.10 L256.10,205.10 L256.51,205.10 L256.92,205.10 L257.33,205.10 L257.74,205.10 L258.15,205.10 L258.56,205.10 L258.97,205.10 L259.38,205.10 L259.79,205.10 L260.20,205.10 L260.61,205.10 L261.02,205.10 L261.43,205.10 L261.84,205.10 L262.25,205.10 L262.66,205.10 L263.07,205.10 L263.48,205.10 L263.89,205.10 L264.30,205.10 L264.71,205.10 L265.12,205.10 L265.53,205.10 L265.94,205.10 L266.35,205.10 L266.76,205.10 L267.17,205.10 L267.58,205.10 L267.99,205.10 L268.40,205.10 L268.81,205.10 L269.22,205.10 L269.63,205.10 L270.04,205.10 L270.45,205.10 L270.86,205.10 L271.27,205.10 L271.68,205.10 L272.09,205.10 L272.50,205.10 L272.91,205.10 L273.32,205.10 L273.73,205.10 L274.14,205.10 L274.55,205.10 L274.96,205.10 L275.37,205.10 L275.78,205.10 L276.19,205.10 L276.60,205.10 L277.01,205.10 L277.42,205.10 L277.83,205.10 L278.24,205.10 L278.65,205.10 L279.06,205.10 L279.47,205.10 L279.88,205.10 L280.29,205.10 L280.70,205.10 L281.11,205.10 L281.52,205.10 L281.93,205.10 L282.34,205.10 L282.75,205.10 L283.16,205.10 L283.57,205.09 L283.98,205.08 L284.39,205.05 L284.80,205.00 L285.21,204.90 L285.62,204.72 L286.03,204.40 L286.44,203.86 L286.85,203.02 L287.26,201.75 L287.67,199.96 L288.08,197.60 L288.49,194.71 L288.90,191.51 L289.31,188.40 L289.72,186.01 L290.13,185.40 L290.54,186.43 L290.95,188.12 L291.36,190.18 L291.77,192.39 L292.18,194.57 L292.59,196.61 L293.00,198.42 L293.41,199.97 L293.82,201.26 L294.23,202.28 L294.64,203.08 L295.05,203.68 L295.46,204.12 L295.87,204.44 L296.28,204.66 L296.69,204.82 L297.10,204.92 L297.51,204.99 L297.92,205.03 L298.33,205.06 L298.74,205.08 L299.15,205.09 L299.56,205.09 L299.97,205.10 L300.38,205.10 L300.79,205.10 L301.20,205.10 L301.61,205.10 L302.02,205.10 L302.43,205.10 L302.84,205.10 L303.25,205.10 L303.66,205.10 L304.07,205.10 L304.48,205.10 L304.89,205.10 L305.30,205.10 L305.71,205.10 L306.12,205.10 L306.53,205.10 L306.94,205.10 L307.35,205.10 L307.76,205.10 L308.17,205.10 L308.58,205.10 L308.99,205.10 L309.40,205.10 L309.40,205.1 L252.00,205.1 Z" fill="#74ad45" stroke="none"/>
<path d="M252.00,205.10 L252.41,205.10 L252.82,205.10 L253.23,205.10 L253.64,205.10 L254.05,205.10 L254.46,205.10 L254.87,205.10 L255.28,205.10 L255.69,205.10 L256.10,205.10 L256.51,205.10 L256.92,205.10 L257.33,205.10 L257.74,205.10 L258.15,205.10 L258.56,205.10 L258.97,205.10 L259.38,205.10 L259.79,205.10 L260.20,205.10 L260.61,205.10 L261.02,205.10 L261.43,205.10 L261.84,205.10 L262.25,205.10 L262.66,205.10 L263.07,205.10 L263.48,205.10 L263.89,205.10 L264.30,205.10 L264.71,205.10 L265.12,205.10 L265.53,205.10 L265.94,205.10 L266.35,205.10 L266.76,205.10 L267.17,205.10 L267.58,205.10 L267.99,205.10 L268.40,205.10 L268.81,205.10 L269.22,205.10 L269.63,205.10 L270.04,205.10 L270.45,205.10 L270.86,205.10 L271.27,205.10 L271.68,205.10 L272.09,205.10 L272.50,205.10 L272.91,205.10 L273.32,205.10 L273.73,205.10 L274.14,205.10 L274.55,205.10 L274.96,205.10 L275.37,205.10 L275.78,205.10 L276.19,205.10 L276.60,205.10 L277.01,205.10 L277.42,205.10 L277.83,205.10 L278.24,205.10 L278.65,205.10 L279.06,205.10 L279.47,205.10 L279.88,205.10 L280.29,205.10 L280.70,205.10 L281.11,205.10 L281.52,205.10 L281.93,205.10 L282.34,205.10 L282.75,205.10 L283.16,205.10 L283.57,205.09 L283.98,205.08 L284.39,205.05 L284.80,205.00 L285.21,204.90 L285.62,204.72 L286.03,204.40 L286.44,203.86 L286.85,203.02 L287.26,201.75 L287.67,199.96 L288.08,197.60 L288.49,194.71 L288.90,191.51 L289.31,188.40 L289.72,186.01 L290.13,185.40 L290.54,186.43 L290.95,188.12 L291.36,190.18 L291.77,192.39 L292.18,194.57 L292.59,196.61 L293.00,198.42 L293.41,199.97 L293.82,201.26 L294.23,202.28 L294.64,203.08 L295.05,203.68 L295.46,204.12 L295.87,204.44 L296.28,204.66 L296.69,204.82 L297.10,204.92 L297.51,204.99 L297.92,205.03 L298.33,205.06 L298.74,205.08 L299.15,205.09 L299.56,205.09 L299.97,205.10 L300.38,205.10 L300.79,205.10 L301.20,205.10 L301.61,205.10 L302.02,205.10 L302.43,205.10 L302.84,205.10 L303.25,205.10 L303.66,205.10 L304.07,205.10 L304.48,205.10 L304.89,205.10 L305.30,205.10 L305.71,205.10 L306.12,205.10 L306.53,205.10 L306.94,205.10 L307.35,205.10 L307.76,205.10 L308.17,205.10 L308.58,205.10 L308.99,205.10 L309.40,205.10" fill="none" stroke="#4b7d30" stroke-width="1.0"/>
<path d="M252.00,233.80 L252.41,233.80 L252.82,233.80 L253.23,233.80 L253.64,233.80 L254.05,233.80 L254.46,233.80 L254.87,233.80 L255.28,233.80 L255.69,233.80 L256.10,233.80 L256.51,233.80 L256.92,233.80 L257.33,233.80 L257.74,233.80 L258.15,233.80 L258.56,233.80 L258.97,233.80 L259.38,233.80 L259.79,233.80 L260.20,233.80 L260.61,233.80 L261.02,233.80 L261.43,233.80 L261.84,233.80 L262.25,233.80 L262.66,233.80 L263.07,233.80 L263.48,233.80 L263.89,233.80 L264.30,233.80 L264.71,233.80 L265.12,233.80 L265.53,233.80 L265.94,233.80 L266.35,233.80 L266.76,233.80 L267.17,233.80 L267.58,233.80 L267.99,233.80 L268.40,233.80 L268.81,233.80 L269.22,233.80 L269.63,233.80 L270.04,233.80 L270.45,233.80 L270.86,233.80 L271.27,233.80 L271.68,233.80 L272.09,233.80 L272.50,233.80 L272.91,233.80 L273.32,233.80 L273.73,233.80 L274.14,233.80 L274.55,233.80 L274.96,233.80 L275.37,233.80 L275.78,233.80 L276.19,233.80 L276.60,233.80 L277.01,233.80 L277.42,233.79 L277.83,233.78 L278.24,233.77 L278.65,233.75 L279.06,233.70 L279.47,233.63 L279.88,233.52 L280.29,233.34 L280.70,233.08 L281.11,232.68 L281.52,232.11 L281.93,231.33 L282.34,230.27 L282.75,228.90 L283.16,227.20 L283.57,225.14 L283.98,222.76 L284.39,220.12 L284.80,217.35 L285.21,214.60 L285.62,212.05 L286.03,209.94 L286.44,208.46 L286.85,207.81 L287.26,208.30 L287.67,209.84 L288.08,212.16 L288.49,214.98 L288.90,218.03 L289.31,221.05 L289.72,223.85 L290.13,226.30 L290.54,228.34 L290.95,229.95 L291.36,231.18 L291.77,232.07 L292.18,232.70 L292.59,233.12 L293.00,233.39 L293.41,233.57 L293.82,233.67 L294.23,233.73 L294.64,233.76 L295.05,233.78 L295.46,233.79 L295.87,233.80 L296.28,233.80 L296.69,233.80 L297.10,233.80 L297.51,233.80 L297.92,233.80 L298.33,233.80 L298.74,233.80 L299.15,233.80 L299.56,233.80 L299.97,233.80 L300.38,233.80 L300.79,233.80 L301.20,233.80 L301.61,233.80 L302.02,233.80 L302.43,233.80 L302.84,233.80 L303.25,233.80 L303.66,233.80 L304.07,233.80 L304.48,233.80 L304.89,233.80 L305.30,233.80 L305.71,233.80 L306.12,233.80 L306.53,233.80 L306.94,233.80 L307.35,233.80 L307.76,233.80 L308.17,233.80 L308.58,233.80 L308.99,233.80 L309.40,233.80" fill="none" stroke="#861434" stroke-width="1.0"/>
<path d="M252.00,219.60 L252.41,219.60 L252.82,219.60 L253.23,219.60 L253.64,219.60 L254.05,219.60 L254.46,219.60 L254.87,219.60 L255.28,219.60 L255.69,219.60 L256.10,219.60 L256.51,219.60 L256.92,219.60 L257.33,219.60 L257.74,219.60 L258.15,219.60 L258.56,219.60 L258.97,219.60 L259.38,219.60 L259.79,219.60 L260.20,219.60 L260.61,219.60 L261.02,219.60 L261.43,219.60 L261.84,219.60 L262.25,219.60 L262.66,219.60 L263.07,219.60 L263.48,219.60 L263.89,219.60 L264.30,219.60 L264.71,219.60 L265.12,219.60 L265.53,219.60 L265.94,219.60 L266.35,219.60 L266.76,219.60 L267.17,219.60 L267.58,219.60 L267.99,219.60 L268.40,219.60 L268.81,219.60 L269.22,219.60 L269.63,219.60 L270.04,219.60 L270.45,219.60 L270.86,219.60 L271.27,219.60 L271.68,219.60 L272.09,219.60 L272.50,219.60 L272.91,219.60 L273.32,219.59 L273.73,219.59 L274.14,219.59 L274.55,219.58 L274.96,219.57 L275.37,219.56 L275.78,219.55 L276.19,219.53 L276.60,219.50 L277.01,219.47 L277.42,219.42 L277.83,219.36 L278.24,219.29 L278.65,219.18 L279.06,219.05 L279.47,218.88 L279.88,218.67 L280.29,218.40 L280.70,218.06 L281.11,217.64 L281.52,217.12 L281.93,216.50 L282.34,215.75 L282.75,214.87 L283.16,213.83 L283.57,212.62 L283.98,211.25 L284.39,209.72 L284.80,208.03 L285.21,206.21 L285.62,204.31 L286.03,202.39 L286.44,200.55 L286.85,198.93 L287.26,197.78 L287.67,198.35 L288.08,200.45 L288.49,202.99 L288.90,205.63 L289.31,208.14 L289.72,210.41 L290.13,212.38 L290.54,214.04 L290.95,215.39 L291.36,216.46 L291.77,217.30 L292.18,217.94 L292.59,218.41 L293.00,218.77 L293.41,219.02 L293.82,219.20 L294.23,219.33 L294.64,219.42 L295.05,219.48 L295.46,219.52 L295.87,219.55 L296.28,219.57 L296.69,219.58 L297.10,219.59 L297.51,219.59 L297.92,219.60 L298.33,219.60 L298.74,219.60 L299.15,219.60 L299.56,219.60 L299.97,219.60 L300.38,219.60 L300.79,219.60 L301.20,219.60 L301.61,219.60 L302.02,219.60 L302.43,219.60 L302.84,219.60 L303.25,219.60 L303.66,219.60 L304.07,219.60 L304.48,219.60 L304.89,219.60 L305.30,219.60 L305.71,219.60 L306.12,219.60 L306.53,219.60 L306.94,219.60 L307.35,219.60 L307.76,219.60 L308.17,219.60 L308.58,219.60 L308.99,219.60 L309.40,219.60 L309.40,219.6 L252.00,219.6 Z" fill="#324d8c" stroke="none" style="mix-blend-mode:multiply"/>
<path d="M252.00,219.60 L252.41,219.60 L252.82,219.60 L253.23,219.60 L253.64,219.60 L254.05,219.60 L254.46,219.60 L254.87,219.60 L255.28,219.60 L255.69,219.60 L256.10,219.60 L256.51,219.60 L256.92,219.60 L257.33,219.60 L257.74,219.60 L258.15,219.60 L258.56,219.60 L258.97,219.60 L259.38,219.60 L259.79,219.60 L260.20,219.60 L260.61,219.60 L261.02,219.60 L261.43,219.60 L261.84,219.60 L262.25,219.60 L262.66,219.60 L263.07,219.60 L263.48,219.60 L263.89,219.60 L264.30,219.60 L264.71,219.60 L265.12,219.60 L265.53,219.60 L265.94,219.60 L266.35,219.60 L266.76,219.60 L267.17,219.60 L267.58,219.60 L267.99,219.60 L268.40,219.60 L268.81,219.60 L269.22,219.60 L269.63,219.60 L270.04,219.60 L270.45,219.60 L270.86,219.60 L271.27,219.60 L271.68,219.60 L272.09,219.60 L272.50,219.60 L272.91,219.60 L273.32,219.59 L273.73,219.59 L274.14,219.59 L274.55,219.58 L274.96,219.57 L275.37,219.56 L275.78,219.55 L276.19,219.53 L276.60,219.50 L277.01,219.47 L277.42,219.42 L277.83,219.36 L278.24,219.29 L278.65,219.18 L279.06,219.05 L279.47,218.88 L279.88,218.67 L280.29,218.40 L280.70,218.06 L281.11,217.64 L281.52,217.12 L281.93,216.50 L282.34,215.75 L282.75,214.87 L283.16,213.83 L283.57,212.62 L283.98,211.25 L284.39,209.72 L284.80,208.03 L285.21,206.21 L285.62,204.31 L286.03,202.39 L286.44,200.55 L286.85,198.93 L287.26,197.78 L287.67,198.35 L288.08,200.45 L288.49,202.99 L288.90,205.63 L289.31,208.14 L289.72,210.41 L290.13,212.38 L290.54,214.04 L290.95,215.39 L291.36,216.46 L291.77,217.30 L292.18,217.94 L292.59,218.41 L293.00,218.77 L293.41,219.02 L293.82,219.20 L294.23,219.33 L294.64,219.42 L295.05,219.48 L295.46,219.52 L295.87,219.55 L296.28,219.57 L296.69,219.58 L297.10,219.59 L297.51,219.59 L297.92,219.60 L298.33,219.60 L298.74,219.60 L299.15,219.60 L299.56,219.60 L299.97,219.60 L300.38,219.60 L300.79,219.60 L301.20,219.60 L301.61,219.60 L302.02,219.60 L302.43,219.60 L302.84,219.60 L303.25,219.60 L303.66,219.60 L304.07,219.60 L304.48,219.60 L304.89,219.60 L305.30,219.60 L305.71,219.60 L306.12,219.60 L306.53,219.60 L306.94,219.60 L307.35,219.60 L307.76,219.60 L308.17,219.60 L308.58,219.60 L308.99,219.60 L309.40,219.60" fill="none" stroke="#1f2d5c" stroke-width="1.0"/>
<path d="M252.00,233.80 L252.41,233.80 L252.82,233.80 L253.23,233.80 L253.64,233.80 L254.05,233.80 L254.46,233.80 L254.87,233.80 L255.28,233.80 L255.69,233.80 L256.10,233.80 L256.51,233.80 L256.92,233.80 L257.33,233.80 L257.74,233.80 L258.15,233.80 L258.56,233.80 L258.97,233.80 L259.38,233.80 L259.79,233.80 L260.20,233.80 L260.61,233.80 L261.02,233.80 L261.43,233.80 L261.84,233.80 L262.25,233.80 L262.66,233.80 L263.07,233.80 L263.48,233.80 L263.89,233.80 L264.30,233.80 L264.71,233.80 L265.12,233.80 L265.53,233.80 L265.94,233.80 L266.35,233.80 L266.76,233.80 L267.17,233.80 L267.58,233.80 L267.99,233.80 L268.40,233.80 L268.81,233.80 L269.22,233.80 L269.63,233.80 L270.04,233.80 L270.45,233.80 L270.86,233.80 L271.27,233.80 L271.68,233.80 L272.09,233.80 L272.50,233.80 L272.91,233.80 L273.32,233.80 L273.73,233.80 L274.14,233.80 L274.55,233.80 L274.96,233.80 L275.37,233.80 L275.78,233.80 L276.19,233.80 L276.60,233.80 L277.01,233.80 L277.42,233.79 L277.83,233.78 L278.24,233.77 L278.65,233.75 L279.06,233.70 L279.47,233.63 L279.88,233.52 L280.29,233.34 L280.70,233.08 L281.11,232.68 L281.52,232.11 L281.93,231.33 L282.34,230.27 L282.75,228.90 L283.16,227.20 L283.57,225.14 L283.98,222.76 L284.39,220.12 L284.80,217.35 L285.21,214.60 L285.62,212.05 L286.03,209.94 L286.44,208.46 L286.85,207.81 L287.26,208.30 L287.67,209.84 L288.08,212.16 L288.49,214.98 L288.90,218.03 L289.31,221.05 L289.72,223.85 L290.13,226.30 L290.54,228.34 L290.95,229.95 L291.36,231.18 L291.77,232.07 L292.18,232.70 L292.59,233.12 L293.00,233.39 L293.41,233.57 L293.82,233.67 L294.23,233.73 L294.64,233.76 L295.05,233.78 L295.46,233.79 L295.87,233.80 L296.28,233.80 L296.69,233.80 L297.10,233.80 L297.51,233.80 L297.92,233.80 L298.33,233.80 L298.74,233.80 L299.15,233.80 L299.56,233.80 L299.97,233.80 L300.38,233.80 L300.79,233.80 L301.20,233.80 L301.61,233.80 L302.02,233.80 L302.43,233.80 L302.84,233.80 L303.25,233.80 L303.66,233.80 L304.07,233.80 L304.48,233.80 L304.89,233.80 L305.30,233.80 L305.71,233.80 L306.12,233.80 L306.53,233.80 L306.94,233.80 L307.35,233.80 L307.76,233.80 L308.17,233.80 L308.58,233.80 L308.99,233.80 L309.40,233.80" fill="none" stroke="#9c2a6c" stroke-width="1.0" opacity="0.55"/>
<rect x="252" y="177" width="57.39999999999998" height="56.80000000000001" fill="none" stroke="#111" stroke-width="1.25"/>
<line x1="251.5" y1="234.0" x2="309.9" y2="234.0" stroke="#000" stroke-width="1.5"/>
<line x1="253.0" y1="233.8" x2="253.0" y2="236.3" stroke="#222" stroke-width="0.55"/>
<line x1="254.3" y1="233.8" x2="254.3" y2="235.70000000000002" stroke="#222" stroke-width="0.55"/>
<line x1="255.6" y1="233.8" x2="255.6" y2="235.70000000000002" stroke="#222" stroke-width="0.55"/>
<line x1="256.9" y1="233.8" x2="256.9" y2="236.3" stroke="#222" stroke-width="0.55"/>
<line x1="258.2" y1="233.8" x2="258.2" y2="235.70000000000002" stroke="#222" stroke-width="0.55"/>
<line x1="259.5" y1="233.8" x2="259.5" y2="235.70000000000002" stroke="#222" stroke-width="0.55"/>
<line x1="260.8" y1="233.8" x2="260.8" y2="236.3" stroke="#222" stroke-width="0.55"/>
<line x1="262.1" y1="233.8" x2="262.1" y2="235.70000000000002" stroke="#222" stroke-width="0.55"/>
<line x1="263.4" y1="233.8" x2="263.4" y2="235.70000000000002" stroke="#222" stroke-width="0.55"/>
<line x1="264.7" y1="233.8" x2="264.7" y2="236.3" stroke="#222" stroke-width="0.55"/>
<line x1="266.0" y1="233.8" x2="266.0" y2="235.70000000000002" stroke="#222" stroke-width="0.55"/>
<line x1="267.3" y1="233.8" x2="267.3" y2="235.70000000000002" stroke="#222" stroke-width="0.55"/>
<line x1="268.6" y1="233.8" x2="268.6" y2="236.3" stroke="#222" stroke-width="0.55"/>
<line x1="269.9" y1="233.8" x2="269.9" y2="235.70000000000002" stroke="#222" stroke-width="0.55"/>
<line x1="271.2" y1="233.8" x2="271.2" y2="235.70000000000002" stroke="#222" stroke-width="0.55"/>
<line x1="272.5" y1="233.8" x2="272.5" y2="236.3" stroke="#222" stroke-width="0.55"/>
<line x1="273.8" y1="233.8" x2="273.8" y2="235.70000000000002" stroke="#222" stroke-width="0.55"/>
<line x1="275.1" y1="233.8" x2="275.1" y2="235.70000000000002" stroke="#222" stroke-width="0.55"/>
<line x1="276.4" y1="233.8" x2="276.4" y2="236.3" stroke="#222" stroke-width="0.55"/>
<line x1="277.7" y1="233.8" x2="277.7" y2="235.70000000000002" stroke="#222" stroke-width="0.55"/>
<line x1="279.0" y1="233.8" x2="279.0" y2="235.70000000000002" stroke="#222" stroke-width="0.55"/>
<line x1="280.3" y1="233.8" x2="280.3" y2="236.3" stroke="#222" stroke-width="0.55"/>
<line x1="281.6" y1="233.8" x2="281.6" y2="235.70000000000002" stroke="#222" stroke-width="0.55"/>
<line x1="282.9" y1="233.8" x2="282.9" y2="235.70000000000002" stroke="#222" stroke-width="0.55"/>
<line x1="284.2" y1="233.8" x2="284.2" y2="236.3" stroke="#222" stroke-width="0.55"/>
<line x1="285.5" y1="233.8" x2="285.5" y2="235.70000000000002" stroke="#222" stroke-width="0.55"/>
<line x1="286.8" y1="233.8" x2="286.8" y2="235.70000000000002" stroke="#222" stroke-width="0.55"/>
<line x1="288.1" y1="233.8" x2="288.1" y2="236.3" stroke="#222" stroke-width="0.55"/>
<line x1="289.4" y1="233.8" x2="289.4" y2="235.70000000000002" stroke="#222" stroke-width="0.55"/>
<line x1="290.7" y1="233.8" x2="290.7" y2="235.70000000000002" stroke="#222" stroke-width="0.55"/>
<line x1="292.0" y1="233.8" x2="292.0" y2="236.3" stroke="#222" stroke-width="0.55"/>
<line x1="293.3" y1="233.8" x2="293.3" y2="235.70000000000002" stroke="#222" stroke-width="0.55"/>
<line x1="294.6" y1="233.8" x2="294.6" y2="235.70000000000002" stroke="#222" stroke-width="0.55"/>
<line x1="295.9" y1="233.8" x2="295.9" y2="236.3" stroke="#222" stroke-width="0.55"/>
<line x1="297.2" y1="233.8" x2="297.2" y2="235.70000000000002" stroke="#222" stroke-width="0.55"/>
<line x1="298.5" y1="233.8" x2="298.5" y2="235.70000000000002" stroke="#222" stroke-width="0.55"/>
<line x1="299.8" y1="233.8" x2="299.8" y2="236.3" stroke="#222" stroke-width="0.55"/>
<line x1="301.1" y1="233.8" x2="301.1" y2="235.70000000000002" stroke="#222" stroke-width="0.55"/>
<line x1="302.4" y1="233.8" x2="302.4" y2="235.70000000000002" stroke="#222" stroke-width="0.55"/>
<line x1="303.7" y1="233.8" x2="303.7" y2="236.3" stroke="#222" stroke-width="0.55"/>
<line x1="305.0" y1="233.8" x2="305.0" y2="235.70000000000002" stroke="#222" stroke-width="0.55"/>
<line x1="306.3" y1="233.8" x2="306.3" y2="235.70000000000002" stroke="#222" stroke-width="0.55"/>
<line x1="307.6" y1="233.8" x2="307.6" y2="236.3" stroke="#222" stroke-width="0.55"/>
<line x1="308.9" y1="233.8" x2="308.9" y2="235.70000000000002" stroke="#222" stroke-width="0.55"/>
<line x1="340.5" y1="177" x2="340.5" y2="233.8" stroke="#d0d0d0" stroke-width="0.8"/>
<line x1="351" y1="177" x2="351" y2="233.8" stroke="#d0d0d0" stroke-width="0.8"/>
<line x1="361.3" y1="177" x2="361.3" y2="233.8" stroke="#d0d0d0" stroke-width="0.8"/>
<line x1="372.1" y1="177" x2="372.1" y2="233.8" stroke="#d0d0d0" stroke-width="0.8"/>
<line x1="382.7" y1="177" x2="382.7" y2="233.8" stroke="#d0d0d0" stroke-width="0.8"/>
<path d="M330.20,204.50 L330.61,204.50 L331.02,204.50 L331.42,204.50 L331.83,204.50 L332.24,204.50 L332.65,204.50 L333.06,204.50 L333.46,204.50 L333.87,204.50 L334.28,204.50 L334.69,204.50 L335.09,204.50 L335.50,204.50 L335.91,204.50 L336.32,204.50 L336.73,204.50 L337.13,204.50 L337.54,204.50 L337.95,204.50 L338.36,204.50 L338.76,204.50 L339.17,204.50 L339.58,204.50 L339.99,204.50 L340.40,204.50 L340.80,204.50 L341.21,204.50 L341.62,204.50 L342.03,204.50 L342.44,204.50 L342.84,204.50 L343.25,204.50 L343.66,204.50 L344.07,204.50 L344.48,204.50 L344.88,204.50 L345.29,204.50 L345.70,204.50 L346.11,204.50 L346.51,204.50 L346.92,204.49 L347.33,204.49 L347.74,204.49 L348.15,204.48 L348.55,204.47 L348.96,204.45 L349.37,204.42 L349.78,204.39 L350.19,204.34 L350.59,204.28 L351.00,204.19 L351.41,204.08 L351.82,203.94 L352.22,203.76 L352.63,203.53 L353.04,203.26 L353.45,202.95 L353.86,202.58 L354.26,202.16 L354.67,201.70 L355.08,201.20 L355.49,200.67 L355.89,200.13 L356.30,199.59 L356.71,199.08 L357.12,198.61 L357.53,198.20 L357.93,197.86 L358.34,197.62 L358.75,197.47 L359.16,197.41 L359.57,197.44 L359.97,197.52 L360.38,197.64 L360.79,197.72 L361.20,197.73 L361.61,197.57 L362.01,197.18 L362.42,196.48 L362.83,195.39 L363.24,193.89 L363.64,192.01 L364.05,189.83 L364.46,187.54 L364.87,185.41 L365.28,183.84 L365.68,183.50 L366.09,185.45 L366.50,188.51 L366.91,191.91 L367.31,195.15 L367.72,197.91 L368.13,200.08 L368.54,201.67 L368.95,202.77 L369.35,203.49 L369.76,203.93 L370.17,204.19 L370.58,204.34 L370.99,204.42 L371.39,204.46 L371.80,204.48 L372.21,204.49 L372.62,204.50 L373.02,204.50 L373.43,204.50 L373.84,204.50 L374.25,204.50 L374.66,204.50 L375.06,204.50 L375.47,204.50 L375.88,204.50 L376.29,204.50 L376.70,204.50 L377.10,204.50 L377.51,204.50 L377.92,204.50 L378.33,204.50 L378.74,204.50 L379.14,204.50 L379.55,204.50 L379.96,204.50 L380.37,204.50 L380.77,204.50 L381.18,204.50 L381.59,204.50 L382.00,204.50 L382.41,204.50 L382.81,204.50 L383.22,204.50 L383.63,204.50 L384.04,204.50 L384.44,204.50 L384.85,204.50 L385.26,204.50 L385.67,204.50 L386.08,204.50 L386.48,204.50 L386.89,204.50 L387.30,204.50 L387.30,204.5 L330.20,204.5 Z" fill="#74ad45" stroke="none"/>
<path d="M330.20,204.50 L330.61,204.50 L331.02,204.50 L331.42,204.50 L331.83,204.50 L332.24,204.50 L332.65,204.50 L333.06,204.50 L333.46,204.50 L333.87,204.50 L334.28,204.50 L334.69,204.50 L335.09,204.50 L335.50,204.50 L335.91,204.50 L336.32,204.50 L336.73,204.50 L337.13,204.50 L337.54,204.50 L337.95,204.50 L338.36,204.50 L338.76,204.50 L339.17,204.50 L339.58,204.50 L339.99,204.50 L340.40,204.50 L340.80,204.50 L341.21,204.50 L341.62,204.50 L342.03,204.50 L342.44,204.50 L342.84,204.50 L343.25,204.50 L343.66,204.50 L344.07,204.50 L344.48,204.50 L344.88,204.50 L345.29,204.50 L345.70,204.50 L346.11,204.50 L346.51,204.50 L346.92,204.49 L347.33,204.49 L347.74,204.49 L348.15,204.48 L348.55,204.47 L348.96,204.45 L349.37,204.42 L349.78,204.39 L350.19,204.34 L350.59,204.28 L351.00,204.19 L351.41,204.08 L351.82,203.94 L352.22,203.76 L352.63,203.53 L353.04,203.26 L353.45,202.95 L353.86,202.58 L354.26,202.16 L354.67,201.70 L355.08,201.20 L355.49,200.67 L355.89,200.13 L356.30,199.59 L356.71,199.08 L357.12,198.61 L357.53,198.20 L357.93,197.86 L358.34,197.62 L358.75,197.47 L359.16,197.41 L359.57,197.44 L359.97,197.52 L360.38,197.64 L360.79,197.72 L361.20,197.73 L361.61,197.57 L362.01,197.18 L362.42,196.48 L362.83,195.39 L363.24,193.89 L363.64,192.01 L364.05,189.83 L364.46,187.54 L364.87,185.41 L365.28,183.84 L365.68,183.50 L366.09,185.45 L366.50,188.51 L366.91,191.91 L367.31,195.15 L367.72,197.91 L368.13,200.08 L368.54,201.67 L368.95,202.77 L369.35,203.49 L369.76,203.93 L370.17,204.19 L370.58,204.34 L370.99,204.42 L371.39,204.46 L371.80,204.48 L372.21,204.49 L372.62,204.50 L373.02,204.50 L373.43,204.50 L373.84,204.50 L374.25,204.50 L374.66,204.50 L375.06,204.50 L375.47,204.50 L375.88,204.50 L376.29,204.50 L376.70,204.50 L377.10,204.50 L377.51,204.50 L377.92,204.50 L378.33,204.50 L378.74,204.50 L379.14,204.50 L379.55,204.50 L379.96,204.50 L380.37,204.50 L380.77,204.50 L381.18,204.50 L381.59,204.50 L382.00,204.50 L382.41,204.50 L382.81,204.50 L383.22,204.50 L383.63,204.50 L384.04,204.50 L384.44,204.50 L384.85,204.50 L385.26,204.50 L385.67,204.50 L386.08,204.50 L386.48,204.50 L386.89,204.50 L387.30,204.50" fill="none" stroke="#4b7d30" stroke-width="1.0"/>
<path d="M330.20,233.80 L330.61,233.80 L331.02,233.80 L331.42,233.80 L331.83,233.80 L332.24,233.80 L332.65,233.80 L333.06,233.80 L333.46,233.80 L333.87,233.80 L334.28,233.80 L334.69,233.80 L335.09,233.80 L335.50,233.80 L335.91,233.80 L336.32,233.80 L336.73,233.80 L337.13,233.80 L337.54,233.80 L337.95,233.80 L338.36,233.80 L338.76,233.80 L339.17,233.80 L339.58,233.80 L339.99,233.80 L340.40,233.80 L340.80,233.80 L341.21,233.80 L341.62,233.80 L342.03,233.80 L342.44,233.80 L342.84,233.80 L343.25,233.80 L343.66,233.80 L344.07,233.80 L344.48,233.80 L344.88,233.80 L345.29,233.80 L345.70,233.80 L346.11,233.80 L346.51,233.80 L346.92,233.80 L347.33,233.80 L347.74,233.80 L348.15,233.80 L348.55,233.80 L348.96,233.80 L349.37,233.80 L349.78,233.80 L350.19,233.80 L350.59,233.80 L351.00,233.80 L351.41,233.80 L351.82,233.80 L352.22,233.80 L352.63,233.80 L353.04,233.80 L353.45,233.79 L353.86,233.78 L354.26,233.77 L354.67,233.75 L355.08,233.72 L355.49,233.67 L355.89,233.60 L356.30,233.49 L356.71,233.35 L357.12,233.17 L357.53,232.94 L357.93,232.66 L358.34,232.35 L358.75,232.01 L359.16,231.67 L359.57,231.33 L359.97,231.02 L360.38,230.74 L360.79,230.48 L361.20,230.19 L361.61,229.81 L362.01,229.27 L362.42,228.45 L362.83,227.29 L363.24,225.73 L363.64,223.84 L364.05,221.74 L364.46,219.69 L364.87,218.01 L365.28,217.04 L365.68,217.11 L366.09,218.17 L366.50,219.92 L366.91,222.08 L367.31,224.38 L367.72,226.59 L368.13,228.54 L368.54,230.14 L368.95,231.36 L369.35,232.25 L369.76,232.86 L370.17,233.25 L370.58,233.50 L370.99,233.64 L371.39,233.72 L371.80,233.76 L372.21,233.78 L372.62,233.79 L373.02,233.80 L373.43,233.80 L373.84,233.80 L374.25,233.80 L374.66,233.80 L375.06,233.80 L375.47,233.80 L375.88,233.80 L376.29,233.80 L376.70,233.80 L377.10,233.80 L377.51,233.80 L377.92,233.80 L378.33,233.80 L378.74,233.80 L379.14,233.80 L379.55,233.80 L379.96,233.80 L380.37,233.80 L380.77,233.80 L381.18,233.80 L381.59,233.80 L382.00,233.80 L382.41,233.80 L382.81,233.80 L383.22,233.80 L383.63,233.80 L384.04,233.80 L384.44,233.80 L384.85,233.80 L385.26,233.80 L385.67,233.80 L386.08,233.80 L386.48,233.80 L386.89,233.80 L387.30,233.80" fill="none" stroke="#861434" stroke-width="1.0"/>
<path d="M330.20,219.50 L330.61,219.50 L331.02,219.50 L331.42,219.50 L331.83,219.50 L332.24,219.50 L332.65,219.50 L333.06,219.50 L333.46,219.50 L333.87,219.50 L334.28,219.50 L334.69,219.50 L335.09,219.50 L335.50,219.50 L335.91,219.50 L336.32,219.50 L336.73,219.50 L337.13,219.50 L337.54,219.50 L337.95,219.50 L338.36,219.50 L338.76,219.50 L339.17,219.50 L339.58,219.50 L339.99,219.50 L340.40,219.50 L340.80,219.50 L341.21,219.50 L341.62,219.50 L342.03,219.50 L342.44,219.50 L342.84,219.50 L343.25,219.50 L343.66,219.50 L344.07,219.50 L344.48,219.50 L344.88,219.50 L345.29,219.50 L345.70,219.50 L346.11,219.50 L346.51,219.49 L346.92,219.49 L347.33,219.48 L347.74,219.48 L348.15,219.47 L348.55,219.46 L348.96,219.44 L349.37,219.42 L349.78,219.39 L350.19,219.35 L350.59,219.31 L351.00,219.24 L351.41,219.17 L351.82,219.07 L352.22,218.95 L352.63,218.81 L353.04,218.64 L353.45,218.44 L353.86,218.20 L354.26,217.93 L354.67,217.62 L355.08,217.27 L355.49,216.88 L355.89,216.45 L356.30,215.99 L356.71,215.49 L357.12,214.97 L357.53,214.43 L357.93,213.88 L358.34,213.32 L358.75,212.76 L359.16,212.20 L359.57,211.65 L359.97,211.12 L360.38,210.59 L360.79,210.07 L361.20,209.55 L361.61,209.03 L362.01,208.47 L362.42,207.88 L362.83,207.23 L363.24,206.51 L363.64,205.69 L364.05,204.76 L364.46,203.72 L364.87,202.56 L365.28,201.31 L365.68,199.99 L366.09,198.66 L366.50,197.41 L366.91,196.38 L367.31,195.80 L367.72,196.63 L368.13,198.17 L368.54,199.96 L368.95,201.87 L369.35,203.79 L369.76,205.66 L370.17,207.44 L370.58,209.09 L370.99,210.59 L371.39,211.94 L371.80,213.14 L372.21,214.19 L372.62,215.10 L373.02,215.88 L373.43,216.54 L373.84,217.10 L374.25,217.56 L374.66,217.95 L375.06,218.26 L375.47,218.52 L375.88,218.73 L376.29,218.90 L376.70,219.03 L377.10,219.14 L377.51,219.22 L377.92,219.28 L378.33,219.34 L378.74,219.38 L379.14,219.41 L379.55,219.43 L379.96,219.45 L380.37,219.46 L380.77,219.47 L381.18,219.48 L381.59,219.48 L382.00,219.49 L382.41,219.49 L382.81,219.49 L383.22,219.50 L383.63,219.50 L384.04,219.50 L384.44,219.50 L384.85,219.50 L385.26,219.50 L385.67,219.50 L386.08,219.50 L386.48,219.50 L386.89,219.50 L387.30,219.50 L387.30,219.5 L330.20,219.5 Z" fill="#324d8c" stroke="none" style="mix-blend-mode:multiply"/>
<path d="M330.20,219.50 L330.61,219.50 L331.02,219.50 L331.42,219.50 L331.83,219.50 L332.24,219.50 L332.65,219.50 L333.06,219.50 L333.46,219.50 L333.87,219.50 L334.28,219.50 L334.69,219.50 L335.09,219.50 L335.50,219.50 L335.91,219.50 L336.32,219.50 L336.73,219.50 L337.13,219.50 L337.54,219.50 L337.95,219.50 L338.36,219.50 L338.76,219.50 L339.17,219.50 L339.58,219.50 L339.99,219.50 L340.40,219.50 L340.80,219.50 L341.21,219.50 L341.62,219.50 L342.03,219.50 L342.44,219.50 L342.84,219.50 L343.25,219.50 L343.66,219.50 L344.07,219.50 L344.48,219.50 L344.88,219.50 L345.29,219.50 L345.70,219.50 L346.11,219.50 L346.51,219.49 L346.92,219.49 L347.33,219.48 L347.74,219.48 L348.15,219.47 L348.55,219.46 L348.96,219.44 L349.37,219.42 L349.78,219.39 L350.19,219.35 L350.59,219.31 L351.00,219.24 L351.41,219.17 L351.82,219.07 L352.22,218.95 L352.63,218.81 L353.04,218.64 L353.45,218.44 L353.86,218.20 L354.26,217.93 L354.67,217.62 L355.08,217.27 L355.49,216.88 L355.89,216.45 L356.30,215.99 L356.71,215.49 L357.12,214.97 L357.53,214.43 L357.93,213.88 L358.34,213.32 L358.75,212.76 L359.16,212.20 L359.57,211.65 L359.97,211.12 L360.38,210.59 L360.79,210.07 L361.20,209.55 L361.61,209.03 L362.01,208.47 L362.42,207.88 L362.83,207.23 L363.24,206.51 L363.64,205.69 L364.05,204.76 L364.46,203.72 L364.87,202.56 L365.28,201.31 L365.68,199.99 L366.09,198.66 L366.50,197.41 L366.91,196.38 L367.31,195.80 L367.72,196.63 L368.13,198.17 L368.54,199.96 L368.95,201.87 L369.35,203.79 L369.76,205.66 L370.17,207.44 L370.58,209.09 L370.99,210.59 L371.39,211.94 L371.80,213.14 L372.21,214.19 L372.62,215.10 L373.02,215.88 L373.43,216.54 L373.84,217.10 L374.25,217.56 L374.66,217.95 L375.06,218.26 L375.47,218.52 L375.88,218.73 L376.29,218.90 L376.70,219.03 L377.10,219.14 L377.51,219.22 L377.92,219.28 L378.33,219.34 L378.74,219.38 L379.14,219.41 L379.55,219.43 L379.96,219.45 L380.37,219.46 L380.77,219.47 L381.18,219.48 L381.59,219.48 L382.00,219.49 L382.41,219.49 L382.81,219.49 L383.22,219.50 L383.63,219.50 L384.04,219.50 L384.44,219.50 L384.85,219.50 L385.26,219.50 L385.67,219.50 L386.08,219.50 L386.48,219.50 L386.89,219.50 L387.30,219.50" fill="none" stroke="#1f2d5c" stroke-width="1.0"/>
<path d="M330.20,233.80 L330.61,233.80 L331.02,233.80 L331.42,233.80 L331.83,233.80 L332.24,233.80 L332.65,233.80 L333.06,233.80 L333.46,233.80 L333.87,233.80 L334.28,233.80 L334.69,233.80 L335.09,233.80 L335.50,233.80 L335.91,233.80 L336.32,233.80 L336.73,233.80 L337.13,233.80 L337.54,233.80 L337.95,233.80 L338.36,233.80 L338.76,233.80 L339.17,233.80 L339.58,233.80 L339.99,233.80 L340.40,233.80 L340.80,233.80 L341.21,233.80 L341.62,233.80 L342.03,233.80 L342.44,233.80 L342.84,233.80 L343.25,233.80 L343.66,233.80 L344.07,233.80 L344.48,233.80 L344.88,233.80 L345.29,233.80 L345.70,233.80 L346.11,233.80 L346.51,233.80 L346.92,233.80 L347.33,233.80 L347.74,233.80 L348.15,233.80 L348.55,233.80 L348.96,233.80 L349.37,233.80 L349.78,233.80 L350.19,233.80 L350.59,233.80 L351.00,233.80 L351.41,233.80 L351.82,233.80 L352.22,233.80 L352.63,233.80 L353.04,233.80 L353.45,233.79 L353.86,233.78 L354.26,233.77 L354.67,233.75 L355.08,233.72 L355.49,233.67 L355.89,233.60 L356.30,233.49 L356.71,233.35 L357.12,233.17 L357.53,232.94 L357.93,232.66 L358.34,232.35 L358.75,232.01 L359.16,231.67 L359.57,231.33 L359.97,231.02 L360.38,230.74 L360.79,230.48 L361.20,230.19 L361.61,229.81 L362.01,229.27 L362.42,228.45 L362.83,227.29 L363.24,225.73 L363.64,223.84 L364.05,221.74 L364.46,219.69 L364.87,218.01 L365.28,217.04 L365.68,217.11 L366.09,218.17 L366.50,219.92 L366.91,222.08 L367.31,224.38 L367.72,226.59 L368.13,228.54 L368.54,230.14 L368.95,231.36 L369.35,232.25 L369.76,232.86 L370.17,233.25 L370.58,233.50 L370.99,233.64 L371.39,233.72 L371.80,233.76 L372.21,233.78 L372.62,233.79 L373.02,233.80 L373.43,233.80 L373.84,233.80 L374.25,233.80 L374.66,233.80 L375.06,233.80 L375.47,233.80 L375.88,233.80 L376.29,233.80 L376.70,233.80 L377.10,233.80 L377.51,233.80 L377.92,233.80 L378.33,233.80 L378.74,233.80 L379.14,233.80 L379.55,233.80 L379.96,233.80 L380.37,233.80 L380.77,233.80 L381.18,233.80 L381.59,233.80 L382.00,233.80 L382.41,233.80 L382.81,233.80 L383.22,233.80 L383.63,233.80 L384.04,233.80 L384.44,233.80 L384.85,233.80 L385.26,233.80 L385.67,233.80 L386.08,233.80 L386.48,233.80 L386.89,233.80 L387.30,233.80" fill="none" stroke="#9c2a6c" stroke-width="1.0" opacity="0.55"/>
<rect x="330.2" y="177" width="57.10000000000002" height="56.80000000000001" fill="none" stroke="#111" stroke-width="1.25"/>
<line x1="329.7" y1="234.0" x2="387.8" y2="234.0" stroke="#000" stroke-width="1.5"/>
<line x1="331.2" y1="233.8" x2="331.2" y2="236.3" stroke="#222" stroke-width="0.55"/>
<line x1="332.5" y1="233.8" x2="332.5" y2="235.70000000000002" stroke="#222" stroke-width="0.55"/>
<line x1="333.8" y1="233.8" x2="333.8" y2="235.70000000000002" stroke="#222" stroke-width="0.55"/>
<line x1="335.1" y1="233.8" x2="335.1" y2="236.3" stroke="#222" stroke-width="0.55"/>
<line x1="336.4" y1="233.8" x2="336.4" y2="235.70000000000002" stroke="#222" stroke-width="0.55"/>
<line x1="337.7" y1="233.8" x2="337.7" y2="235.70000000000002" stroke="#222" stroke-width="0.55"/>
<line x1="339.0" y1="233.8" x2="339.0" y2="236.3" stroke="#222" stroke-width="0.55"/>
<line x1="340.3" y1="233.8" x2="340.3" y2="235.70000000000002" stroke="#222" stroke-width="0.55"/>
<line x1="341.6" y1="233.8" x2="341.6" y2="235.70000000000002" stroke="#222" stroke-width="0.55"/>
<line x1="342.9" y1="233.8" x2="342.9" y2="236.3" stroke="#222" stroke-width="0.55"/>
<line x1="344.2" y1="233.8" x2="344.2" y2="235.70000000000002" stroke="#222" stroke-width="0.55"/>
<line x1="345.5" y1="233.8" x2="345.5" y2="235.70000000000002" stroke="#222" stroke-width="0.55"/>
<line x1="346.8" y1="233.8" x2="346.8" y2="236.3" stroke="#222" stroke-width="0.55"/>
<line x1="348.1" y1="233.8" x2="348.1" y2="235.70000000000002" stroke="#222" stroke-width="0.55"/>
<line x1="349.4" y1="233.8" x2="349.4" y2="235.70000000000002" stroke="#222" stroke-width="0.55"/>
<line x1="350.7" y1="233.8" x2="350.7" y2="236.3" stroke="#222" stroke-width="0.55"/>
<line x1="352.0" y1="233.8" x2="352.0" y2="235.70000000000002" stroke="#222" stroke-width="0.55"/>
<line x1="353.3" y1="233.8" x2="353.3" y2="235.70000000000002" stroke="#222" stroke-width="0.55"/>
<line x1="354.6" y1="233.8" x2="354.6" y2="236.3" stroke="#222" stroke-width="0.55"/>
<line x1="355.9" y1="233.8" x2="355.9" y2="235.70000000000002" stroke="#222" stroke-width="0.55"/>
<line x1="357.2" y1="233.8" x2="357.2" y2="235.70000000000002" stroke="#222" stroke-width="0.55"/>
<line x1="358.5" y1="233.8" x2="358.5" y2="236.3" stroke="#222" stroke-width="0.55"/>
<line x1="359.8" y1="233.8" x2="359.8" y2="235.70000000000002" stroke="#222" stroke-width="0.55"/>
<line x1="361.1" y1="233.8" x2="361.1" y2="235.70000000000002" stroke="#222" stroke-width="0.55"/>
<line x1="362.4" y1="233.8" x2="362.4" y2="236.3" stroke="#222" stroke-width="0.55"/>
<line x1="363.7" y1="233.8" x2="363.7" y2="235.70000000000002" stroke="#222" stroke-width="0.55"/>
<line x1="365.0" y1="233.8" x2="365.0" y2="235.70000000000002" stroke="#222" stroke-width="0.55"/>
<line x1="366.3" y1="233.8" x2="366.3" y2="236.3" stroke="#222" stroke-width="0.55"/>
<line x1="367.6" y1="233.8" x2="367.6" y2="235.70000000000002" stroke="#222" stroke-width="0.55"/>
<line x1="368.9" y1="233.8" x2="368.9" y2="235.70000000000002" stroke="#222" stroke-width="0.55"/>
<line x1="370.2" y1="233.8" x2="370.2" y2="236.3" stroke="#222" stroke-width="0.55"/>
<line x1="371.5" y1="233.8" x2="371.5" y2="235.70000000000002" stroke="#222" stroke-width="0.55"/>
<line x1="372.8" y1="233.8" x2="372.8" y2="235.70000000000002" stroke="#222" stroke-width="0.55"/>
<line x1="374.1" y1="233.8" x2="374.1" y2="236.3" stroke="#222" stroke-width="0.55"/>
<line x1="375.4" y1="233.8" x2="375.4" y2="235.70000000000002" stroke="#222" stroke-width="0.55"/>
<line x1="376.7" y1="233.8" x2="376.7" y2="235.70000000000002" stroke="#222" stroke-width="0.55"/>
<line x1="378.0" y1="233.8" x2="378.0" y2="236.3" stroke="#222" stroke-width="0.55"/>
<line x1="379.3" y1="233.8" x2="379.3" y2="235.70000000000002" stroke="#222" stroke-width="0.55"/>
<line x1="380.6" y1="233.8" x2="380.6" y2="235.70000000000002" stroke="#222" stroke-width="0.55"/>
<line x1="381.9" y1="233.8" x2="381.9" y2="236.3" stroke="#222" stroke-width="0.55"/>
<line x1="383.2" y1="233.8" x2="383.2" y2="235.70000000000002" stroke="#222" stroke-width="0.55"/>
<line x1="384.5" y1="233.8" x2="384.5" y2="235.70000000000002" stroke="#222" stroke-width="0.55"/>
<line x1="385.8" y1="233.8" x2="385.8" y2="236.3" stroke="#222" stroke-width="0.55"/>
<text x="390.8" y="207.1" font-size="7.5" text-anchor="start" font-weight="normal" fill="#111" stroke="#111" stroke-width="0.1" >HHV-8 MCD</text>
<text x="390.8" y="220.0" font-size="7.5" text-anchor="start" font-weight="normal" fill="#111" stroke="#111" stroke-width="0.1" >KS</text>
<text x="390.8" y="233.1" font-size="7.5" text-anchor="start" font-weight="normal" fill="#111" stroke="#111" stroke-width="0.1" >HDs</text>
<text x="96.4" y="245.6" font-size="5.1" text-anchor="middle" fill="#222" stroke="#222" stroke-width="0.12">-10<tspan font-size="3.37" dy="-2.55">3</tspan></text>
<text x="107.0" y="245.6" font-size="5.1" text-anchor="middle" font-weight="normal" fill="#222" stroke="#222" stroke-width="0.1" >0</text>
<text x="117.4" y="245.6" font-size="5.1" text-anchor="middle" fill="#222" stroke="#222" stroke-width="0.12">10<tspan font-size="3.37" dy="-2.55">3</tspan></text>
<text x="133.6" y="245.6" font-size="5.1" text-anchor="middle" fill="#222" stroke="#222" stroke-width="0.12">10<tspan font-size="3.37" dy="-2.55">4</tspan></text>
<text x="146.4" y="245.6" font-size="5.1" text-anchor="middle" fill="#222" stroke="#222" stroke-width="0.12">10<tspan font-size="3.37" dy="-2.55">5</tspan></text>
<text x="173.8" y="245.6" font-size="5.1" text-anchor="middle" fill="#222" stroke="#222" stroke-width="0.12">10<tspan font-size="3.37" dy="-2.55">0</tspan></text>
<text x="183.8" y="245.6" font-size="5.1" text-anchor="middle" fill="#222" stroke="#222" stroke-width="0.12">10<tspan font-size="3.37" dy="-2.55">1</tspan></text>
<text x="193.7" y="245.6" font-size="5.1" text-anchor="middle" fill="#222" stroke="#222" stroke-width="0.12">10<tspan font-size="3.37" dy="-2.55">2</tspan></text>
<text x="204.5" y="245.6" font-size="5.1" text-anchor="middle" fill="#222" stroke="#222" stroke-width="0.12">10<tspan font-size="3.37" dy="-2.55">3</tspan></text>
<text x="215.5" y="245.6" font-size="5.1" text-anchor="middle" fill="#222" stroke="#222" stroke-width="0.12">10<tspan font-size="3.37" dy="-2.55">4</tspan></text>
<text x="225.3" y="245.6" font-size="5.1" text-anchor="middle" fill="#222" stroke="#222" stroke-width="0.12">10<tspan font-size="3.37" dy="-2.55">5</tspan></text>
<text x="252.6" y="245.6" font-size="5.1" text-anchor="middle" fill="#222" stroke="#222" stroke-width="0.12">10<tspan font-size="3.37" dy="-2.55">0</tspan></text>
<text x="261.8" y="245.6" font-size="5.1" text-anchor="middle" fill="#222" stroke="#222" stroke-width="0.12">10<tspan font-size="3.37" dy="-2.55">1</tspan></text>
<text x="272.4" y="245.6" font-size="5.1" text-anchor="middle" fill="#222" stroke="#222" stroke-width="0.12">10<tspan font-size="3.37" dy="-2.55">2</tspan></text>
<text x="282.9" y="245.6" font-size="5.1" text-anchor="middle" fill="#222" stroke="#222" stroke-width="0.12">10<tspan font-size="3.37" dy="-2.55">3</tspan></text>
<text x="293.5" y="245.6" font-size="5.1" text-anchor="middle" fill="#222" stroke="#222" stroke-width="0.12">10<tspan font-size="3.37" dy="-2.55">4</tspan></text>
<text x="304" y="245.6" font-size="5.1" text-anchor="middle" fill="#222" stroke="#222" stroke-width="0.12">10<tspan font-size="3.37" dy="-2.55">5</tspan></text>
<text x="330.8" y="245.6" font-size="5.1" text-anchor="middle" fill="#222" stroke="#222" stroke-width="0.12">10<tspan font-size="3.37" dy="-2.55">0</tspan></text>
<text x="340.5" y="245.6" font-size="5.1" text-anchor="middle" fill="#222" stroke="#222" stroke-width="0.12">10<tspan font-size="3.37" dy="-2.55">1</tspan></text>
<text x="351" y="245.6" font-size="5.1" text-anchor="middle" fill="#222" stroke="#222" stroke-width="0.12">10<tspan font-size="3.37" dy="-2.55">2</tspan></text>
<text x="361.3" y="245.6" font-size="5.1" text-anchor="middle" fill="#222" stroke="#222" stroke-width="0.12">10<tspan font-size="3.37" dy="-2.55">3</tspan></text>
<text x="372.1" y="245.6" font-size="5.1" text-anchor="middle" fill="#222" stroke="#222" stroke-width="0.12">10<tspan font-size="3.37" dy="-2.55">4</tspan></text>
<text x="382.7" y="245.6" font-size="5.1" text-anchor="middle" fill="#222" stroke="#222" stroke-width="0.12">10<tspan font-size="3.37" dy="-2.55">5</tspan></text>
<line x1="96.3" y1="256" x2="232" y2="256" stroke="#000" stroke-width="1.3"/>
<text x="234.5" y="259.2" font-size="9.6" textLength="20.2" lengthAdjust="spacingAndGlyphs" fill="#111" stroke="#111" stroke-width="0.35">CD1d</text>
<line x1="258" y1="256" x2="393" y2="256" stroke="#000" stroke-width="1.3"/>
<path d="M391.2,252.8 L399.2,256 L391.2,259.4 L393,256 Z" fill="#000"/>
<line x1="234.1" y1="32.7" x2="234.1" y2="110.3" stroke="#000" stroke-width="1.5"/>
<line x1="233.4" y1="109.6" x2="345.2" y2="109.6" stroke="#000" stroke-width="1.4"/>
<line x1="230.5" y1="109.60" x2="234.1" y2="109.60" stroke="#000" stroke-width="1.2"/>
<text x="227.5" y="112.5" font-size="8.3" text-anchor="end" font-weight="normal" fill="#222" stroke="#222" stroke-width="0" textLength="4.2" lengthAdjust="spacingAndGlyphs">0</text>
<line x1="230.5" y1="94.88" x2="234.1" y2="94.88" stroke="#000" stroke-width="1.2"/>
<text x="227.5" y="97.78" font-size="8.3" text-anchor="end" font-weight="normal" fill="#222" stroke="#222" stroke-width="0" textLength="16.8" lengthAdjust="spacingAndGlyphs">2000</text>
<line x1="230.5" y1="80.16" x2="234.1" y2="80.16" stroke="#000" stroke-width="1.2"/>
<text x="227.5" y="83.06" font-size="8.3" text-anchor="end" font-weight="normal" fill="#222" stroke="#222" stroke-width="0" textLength="16.8" lengthAdjust="spacingAndGlyphs">4000</text>
<line x1="230.5" y1="65.44" x2="234.1" y2="65.44" stroke="#000" stroke-width="1.2"/>
<text x="227.5" y="68.34" font-size="8.3" text-anchor="end" font-weight="normal" fill="#222" stroke="#222" stroke-width="0" textLength="16.8" lengthAdjust="spacingAndGlyphs">6000</text>
<line x1="230.5" y1="50.72" x2="234.1" y2="50.72" stroke="#000" stroke-width="1.2"/>
<text x="227.5" y="53.62" font-size="8.3" text-anchor="end" font-weight="normal" fill="#222" stroke="#222" stroke-width="0" textLength="16.8" lengthAdjust="spacingAndGlyphs">8000</text>
<line x1="230.5" y1="36.00" x2="234.1" y2="36.00" stroke="#000" stroke-width="1.2"/>
<text x="227.5" y="38.9" font-size="8.3" text-anchor="end" font-weight="normal" fill="#222" stroke="#222" stroke-width="0" textLength="21.0" lengthAdjust="spacingAndGlyphs">10000</text>
<line x1="252.5" y1="109.6" x2="252.5" y2="112.8" stroke="#000" stroke-width="1.2"/>
<line x1="289.6" y1="109.6" x2="289.6" y2="112.8" stroke="#000" stroke-width="1.2"/>
<line x1="326.4" y1="109.6" x2="326.4" y2="112.8" stroke="#000" stroke-width="1.2"/>
<text x="252.5" y="121.5" font-size="8.2" text-anchor="middle" font-weight="normal" fill="#111" stroke="#111" stroke-width="0.1" >HDs</text>
<text x="289.6" y="121.5" font-size="8.2" text-anchor="middle" font-weight="normal" fill="#111" stroke="#111" stroke-width="0.1" >KS</text>
<text x="326.4" y="121.5" font-size="8.2" text-anchor="middle" font-weight="normal" fill="#111" stroke="#111" stroke-width="0.1" >HHV-8 MCD</text>
<text transform="translate(204.3,109.4) rotate(-90)" x="0" y="0" font-size="8.4" textLength="75.8" lengthAdjust="spacingAndGlyphs" fill="#111" stroke="#111" stroke-width="0.1">CD1d MFI on B cells</text>
<line x1="253.5" y1="48.5" x2="328" y2="48.5" stroke="#000" stroke-width="1.2"/>
<text x="290.6" y="45.5" font-size="7.8" text-anchor="middle" font-weight="normal" fill="#111" stroke="#111" stroke-width="0.1" >0.4</text>
<circle cx="245.7" cy="83.2" r="1.45" fill="#9a1535"/>
<circle cx="250.2" cy="82.8" r="1.45" fill="#9a1535"/>
<circle cx="254.6" cy="82.8" r="1.45" fill="#9a1535"/>
<circle cx="259.0" cy="83.6" r="1.45" fill="#9a1535"/>
<circle cx="243.2" cy="86.0" r="1.45" fill="#9a1535"/>
<circle cx="250.2" cy="85.0" r="1.45" fill="#9a1535"/>
<circle cx="254.6" cy="85.0" r="1.45" fill="#9a1535"/>
<circle cx="261.3" cy="86.9" r="1.45" fill="#9a1535"/>
<circle cx="247.8" cy="87.4" r="1.45" fill="#9a1535"/>
<circle cx="252.3" cy="89.6" r="1.45" fill="#9a1535"/>
<circle cx="256.8" cy="89.6" r="1.45" fill="#9a1535"/>
<circle cx="249.0" cy="90.6" r="1.45" fill="#9a1535"/>
<circle cx="245.3" cy="92.2" r="1.45" fill="#9a1535"/>
<circle cx="250.2" cy="94.3" r="1.45" fill="#9a1535"/>
<circle cx="254.6" cy="94.7" r="1.45" fill="#9a1535"/>
<circle cx="259.0" cy="93.4" r="1.45" fill="#9a1535"/>
<circle cx="243.2" cy="96.3" r="1.45" fill="#9a1535"/>
<circle cx="247.8" cy="98.4" r="1.45" fill="#9a1535"/>
<circle cx="252.3" cy="99.6" r="1.45" fill="#9a1535"/>
<circle cx="256.8" cy="98.4" r="1.45" fill="#9a1535"/>
<circle cx="261.3" cy="97.6" r="1.45" fill="#9a1535"/>
<circle cx="256.3" cy="91.4" r="1.45" fill="#9a1535"/>
<line x1="240" y1="90.4" x2="265" y2="90.4" stroke="#000" stroke-width="1.3"/>
<rect x="288.2" y="80.8" width="2.6" height="2.6" fill="#2b4680"/>
<rect x="283.8" y="84.2" width="2.6" height="2.6" fill="#2b4680"/>
<rect x="288.2" y="85.2" width="2.6" height="2.6" fill="#2b4680"/>
<rect x="293.2" y="84.6" width="2.6" height="2.6" fill="#2b4680"/>
<rect x="288.2" y="87.7" width="2.6" height="2.6" fill="#2b4680"/>
<rect x="293.2" y="88.9" width="2.6" height="2.6" fill="#2b4680"/>
<rect x="283.8" y="90.2" width="2.6" height="2.6" fill="#2b4680"/>
<rect x="288.2" y="91.9" width="2.6" height="2.6" fill="#2b4680"/>
<rect x="281.1" y="95.2" width="2.6" height="2.6" fill="#2b4680"/>
<rect x="285.8" y="96.5" width="2.6" height="2.6" fill="#2b4680"/>
<rect x="290.5" y="96.5" width="2.6" height="2.6" fill="#2b4680"/>
<rect x="295.2" y="95.2" width="2.6" height="2.6" fill="#2b4680"/>
<rect x="283.8" y="93.5" width="2.6" height="2.6" fill="#2b4680"/>
<rect x="293.2" y="93.7" width="2.6" height="2.6" fill="#2b4680"/>
<line x1="277.4" y1="94.6" x2="302" y2="94.6" stroke="#000" stroke-width="1.3"/>
<path d="M330.9,77.7 L332.5,80.5 L329.3,80.5 Z" fill="#669a4c"/>
<path d="M322.5,81.3 L324.1,84.1 L320.9,84.1 Z" fill="#669a4c"/>
<path d="M327.2,81.5 L328.8,84.3 L325.6,84.3 Z" fill="#669a4c"/>
<path d="M333.3,82.8 L334.9,85.6 L331.7,85.6 Z" fill="#669a4c"/>
<path d="M325.0,86.3 L326.6,89.1 L323.4,89.1 Z" fill="#669a4c"/>
<path d="M329.0,86.3 L330.6,89.1 L327.4,89.1 Z" fill="#669a4c"/>
<path d="M334.0,87.8 L335.6,90.6 L332.4,90.6 Z" fill="#669a4c"/>
<path d="M318.6,94.8 L320.2,97.6 L317.0,97.6 Z" fill="#669a4c"/>
<path d="M322.5,96.8 L324.1,99.6 L320.9,99.6 Z" fill="#669a4c"/>
<path d="M326.6,94.8 L328.2,97.6 L325.0,97.6 Z" fill="#669a4c"/>
<path d="M330.6,96.8 L332.2,99.6 L329.0,99.6 Z" fill="#669a4c"/>
<path d="M335.6,96.3 L337.2,99.1 L334.0,99.1 Z" fill="#669a4c"/>
<path d="M326.6,99.1 L328.2,101.9 L325.0,101.9 Z" fill="#669a4c"/>
<path d="M321.0,91.3 L322.6,94.1 L319.4,94.1 Z" fill="#669a4c"/>
<path d="M327.5,90.5 L329.1,93.3 L325.9,93.3 Z" fill="#669a4c"/>
<path d="M332.0,90.5 L333.6,93.3 L330.4,93.3 Z" fill="#669a4c"/>
<line x1="314" y1="92.2" x2="339" y2="92.2" stroke="#000" stroke-width="1.3"/>
<line x1="397.7" y1="32.7" x2="397.7" y2="110.3" stroke="#000" stroke-width="1.5"/>
<line x1="397.0" y1="109.6" x2="508.8" y2="109.6" stroke="#000" stroke-width="1.4"/>
<line x1="394.09999999999997" y1="109.60" x2="397.7" y2="109.60" stroke="#000" stroke-width="1.2"/>
<text x="391.1" y="112.5" font-size="8.3" text-anchor="end" font-weight="normal" fill="#222" stroke="#222" stroke-width="0" textLength="4.2" lengthAdjust="spacingAndGlyphs">0</text>
<line x1="394.09999999999997" y1="94.88" x2="397.7" y2="94.88" stroke="#000" stroke-width="1.2"/>
<text x="391.1" y="97.78" font-size="8.3" text-anchor="end" font-weight="normal" fill="#222" stroke="#222" stroke-width="0" textLength="16.8" lengthAdjust="spacingAndGlyphs">2000</text>
<line x1="394.09999999999997" y1="80.16" x2="397.7" y2="80.16" stroke="#000" stroke-width="1.2"/>
<text x="391.1" y="83.06" font-size="8.3" text-anchor="end" font-weight="normal" fill="#222" stroke="#222" stroke-width="0" textLength="16.8" lengthAdjust="spacingAndGlyphs">4000</text>
<line x1="394.09999999999997" y1="65.44" x2="397.7" y2="65.44" stroke="#000" stroke-width="1.2"/>
<text x="391.1" y="68.34" font-size="8.3" text-anchor="end" font-weight="normal" fill="#222" stroke="#222" stroke-width="0" textLength="16.8" lengthAdjust="spacingAndGlyphs">6000</text>
<line x1="394.09999999999997" y1="50.72" x2="397.7" y2="50.72" stroke="#000" stroke-width="1.2"/>
<text x="391.1" y="53.62" font-size="8.3" text-anchor="end" font-weight="normal" fill="#222" stroke="#222" stroke-width="0" textLength="16.8" lengthAdjust="spacingAndGlyphs">8000</text>
<line x1="394.09999999999997" y1="36.00" x2="397.7" y2="36.00" stroke="#000" stroke-width="1.2"/>
<text x="391.1" y="38.9" font-size="8.3" text-anchor="end" font-weight="normal" fill="#222" stroke="#222" stroke-width="0" textLength="21.0" lengthAdjust="spacingAndGlyphs">10000</text>
<line x1="416.2" y1="109.6" x2="416.2" y2="112.8" stroke="#000" stroke-width="1.2"/>
<line x1="453.7" y1="109.6" x2="453.7" y2="112.8" stroke="#000" stroke-width="1.2"/>
<line x1="490.4" y1="109.6" x2="490.4" y2="112.8" stroke="#000" stroke-width="1.2"/>
<text x="416.2" y="121.5" font-size="8.2" text-anchor="middle" font-weight="normal" fill="#111" stroke="#111" stroke-width="0.1" >HDs</text>
<text x="453.7" y="121.5" font-size="8.2" text-anchor="middle" font-weight="normal" fill="#111" stroke="#111" stroke-width="0.1" >KS</text>
<text x="490.4" y="121.5" font-size="8.2" text-anchor="middle" font-weight="normal" fill="#111" stroke="#111" stroke-width="0.1" >HHV-8 MCD</text>
<text transform="translate(366.4,118.5) rotate(-90)" x="0" y="0" font-size="8.4" textLength="93.9" lengthAdjust="spacingAndGlyphs" fill="#111" stroke="#111" stroke-width="0.1">CD1d MFI on monocytes</text>
<line x1="417" y1="48.4" x2="491.5" y2="48.4" stroke="#000" stroke-width="1.2"/>
<text x="454.6" y="45.4" font-size="7.8" text-anchor="middle" font-weight="normal" fill="#111" stroke="#111" stroke-width="0.1" >0.46</text>
<circle cx="416.3" cy="72.7" r="1.45" fill="#9a1535"/>
<circle cx="409.6" cy="78.5" r="1.45" fill="#9a1535"/>
<circle cx="423.0" cy="80.4" r="1.45" fill="#9a1535"/>
<circle cx="414.4" cy="81.7" r="1.45" fill="#9a1535"/>
<circle cx="419.2" cy="83.0" r="1.45" fill="#9a1535"/>
<circle cx="412.0" cy="84.2" r="1.45" fill="#9a1535"/>
<circle cx="420.2" cy="85.6" r="1.45" fill="#9a1535"/>
<circle cx="416.3" cy="87.5" r="1.45" fill="#9a1535"/>
<circle cx="412.0" cy="92.7" r="1.45" fill="#9a1535"/>
<circle cx="416.3" cy="93.3" r="1.45" fill="#9a1535"/>
<circle cx="420.8" cy="90.8" r="1.45" fill="#9a1535"/>
<circle cx="412.0" cy="99.6" r="1.45" fill="#9a1535"/>
<circle cx="416.3" cy="102.0" r="1.45" fill="#9a1535"/>
<circle cx="420.8" cy="100.0" r="1.45" fill="#9a1535"/>
<line x1="404.2" y1="86.5" x2="428.8" y2="86.5" stroke="#000" stroke-width="1.3"/>
<rect x="446.0" y="84.7" width="2.6" height="2.6" fill="#2b4680"/>
<rect x="449.3" y="85.0" width="2.6" height="2.6" fill="#2b4680"/>
<rect x="452.7" y="85.2" width="2.6" height="2.6" fill="#2b4680"/>
<rect x="456.0" y="85.0" width="2.6" height="2.6" fill="#2b4680"/>
<rect x="459.3" y="84.7" width="2.6" height="2.6" fill="#2b4680"/>
<rect x="452.2" y="90.7" width="2.6" height="2.6" fill="#2b4680"/>
<rect x="452.2" y="96.7" width="2.6" height="2.6" fill="#2b4680"/>
<rect x="452.2" y="102.5" width="2.6" height="2.6" fill="#2b4680"/>
<line x1="441.3" y1="87.5" x2="465.8" y2="87.5" stroke="#000" stroke-width="1.3"/>
<path d="M490.4,51.9 L492.0,54.7 L488.8,54.7 Z" fill="#669a4c"/>
<path d="M490.4,84.8 L492.0,87.6 L488.8,87.6 Z" fill="#669a4c"/>
<path d="M488.0,89.3 L489.6,92.1 L486.4,92.1 Z" fill="#669a4c"/>
<path d="M492.6,89.3 L494.2,92.1 L491.0,92.1 Z" fill="#669a4c"/>
<path d="M488.2,96.7 L489.8,99.5 L486.6,99.5 Z" fill="#669a4c"/>
<path d="M492.5,101.0 L494.1,103.8 L490.9,103.8 Z" fill="#669a4c"/>
<line x1="478.1" y1="91.1" x2="502.6" y2="91.1" stroke="#000" stroke-width="1.3"/>
<line x1="134.3" y1="281.0" x2="134.3" y2="359.9" stroke="#000" stroke-width="1.5"/>
<line x1="133.60000000000002" y1="359.2" x2="247.5" y2="359.2" stroke="#000" stroke-width="1.4"/>
<line x1="130.70000000000002" y1="359.20" x2="134.3" y2="359.20" stroke="#000" stroke-width="1.2"/>
<text x="127.7" y="362.1" font-size="8.3" text-anchor="end" font-weight="normal" fill="#222" stroke="#222" stroke-width="0" textLength="4.2" lengthAdjust="spacingAndGlyphs">0</text>
<line x1="130.70000000000002" y1="344.22" x2="134.3" y2="344.22" stroke="#000" stroke-width="1.2"/>
<text x="127.7" y="347.12" font-size="8.3" text-anchor="end" font-weight="normal" fill="#222" stroke="#222" stroke-width="0" textLength="16.8" lengthAdjust="spacingAndGlyphs">2000</text>
<line x1="130.70000000000002" y1="329.24" x2="134.3" y2="329.24" stroke="#000" stroke-width="1.2"/>
<text x="127.7" y="332.14" font-size="8.3" text-anchor="end" font-weight="normal" fill="#222" stroke="#222" stroke-width="0" textLength="16.8" lengthAdjust="spacingAndGlyphs">4000</text>
<line x1="130.70000000000002" y1="314.26" x2="134.3" y2="314.26" stroke="#000" stroke-width="1.2"/>
<text x="127.7" y="317.16" font-size="8.3" text-anchor="end" font-weight="normal" fill="#222" stroke="#222" stroke-width="0" textLength="16.8" lengthAdjust="spacingAndGlyphs">6000</text>
<line x1="130.70000000000002" y1="299.28" x2="134.3" y2="299.28" stroke="#000" stroke-width="1.2"/>
<text x="127.7" y="302.18" font-size="8.3" text-anchor="end" font-weight="normal" fill="#222" stroke="#222" stroke-width="0" textLength="16.8" lengthAdjust="spacingAndGlyphs">8000</text>
<line x1="130.70000000000002" y1="284.30" x2="134.3" y2="284.30" stroke="#000" stroke-width="1.2"/>
<text x="127.7" y="287.2" font-size="8.3" text-anchor="end" font-weight="normal" fill="#222" stroke="#222" stroke-width="0" textLength="21.0" lengthAdjust="spacingAndGlyphs">10000</text>
<line x1="153.1" y1="359.2" x2="153.1" y2="362.4" stroke="#000" stroke-width="1.2"/>
<line x1="190.5" y1="359.2" x2="190.5" y2="362.4" stroke="#000" stroke-width="1.2"/>
<line x1="228.1" y1="359.2" x2="228.1" y2="362.4" stroke="#000" stroke-width="1.2"/>
<text x="153.1" y="371.09999999999997" font-size="8.2" text-anchor="middle" font-weight="normal" fill="#111" stroke="#111" stroke-width="0.1" >HDs</text>
<text x="190.5" y="371.09999999999997" font-size="8.2" text-anchor="middle" font-weight="normal" fill="#111" stroke="#111" stroke-width="0.1" >KS</text>
<text x="228.1" y="371.09999999999997" font-size="8.2" text-anchor="middle" font-weight="normal" fill="#111" stroke="#111" stroke-width="0.1" >HHV-8 MCD</text>
<text transform="translate(91.6,356.3) rotate(-90)" x="0" y="0" font-size="8.4" textLength="73.7" lengthAdjust="spacingAndGlyphs" fill="#111" stroke="#111" stroke-width="0.1">CD1d MFI on na&#239;ve</text>
<text transform="translate(103.2,332.1) rotate(-90)" x="0" y="0" font-size="8.4" textLength="24.1" lengthAdjust="spacingAndGlyphs" fill="#111" stroke="#111" stroke-width="0.1">B cells</text>
<line x1="154.9" y1="297.6" x2="228.8" y2="297.6" stroke="#000" stroke-width="1.2"/>
<text x="191.2" y="294.6" font-size="7.8" text-anchor="middle" font-weight="normal" fill="#111" stroke="#111" stroke-width="0.1" >0.6</text>
<circle cx="146.6" cy="331.8" r="1.45" fill="#9a1535"/>
<circle cx="151.3" cy="332.7" r="1.45" fill="#9a1535"/>
<circle cx="155.6" cy="332.7" r="1.45" fill="#9a1535"/>
<circle cx="159.9" cy="332.1" r="1.45" fill="#9a1535"/>
<circle cx="144.2" cy="334.3" r="1.45" fill="#9a1535"/>
<circle cx="149.1" cy="335.2" r="1.45" fill="#9a1535"/>
<circle cx="157.8" cy="335.8" r="1.45" fill="#9a1535"/>
<circle cx="162.4" cy="334.9" r="1.45" fill="#9a1535"/>
<circle cx="144.2" cy="339.8" r="1.45" fill="#9a1535"/>
<circle cx="151.0" cy="338.9" r="1.45" fill="#9a1535"/>
<circle cx="153.1" cy="337.7" r="1.45" fill="#9a1535"/>
<circle cx="155.6" cy="338.9" r="1.45" fill="#9a1535"/>
<circle cx="162.4" cy="339.5" r="1.45" fill="#9a1535"/>
<circle cx="157.8" cy="340.7" r="1.45" fill="#9a1535"/>
<circle cx="148.8" cy="341.7" r="1.45" fill="#9a1535"/>
<circle cx="153.4" cy="342.9" r="1.45" fill="#9a1535"/>
<circle cx="151.0" cy="345.4" r="1.45" fill="#9a1535"/>
<circle cx="155.3" cy="344.8" r="1.45" fill="#9a1535"/>
<circle cx="146.0" cy="346.9" r="1.45" fill="#9a1535"/>
<circle cx="159.9" cy="346.0" r="1.45" fill="#9a1535"/>
<circle cx="151.0" cy="348.5" r="1.45" fill="#9a1535"/>
<circle cx="155.3" cy="347.5" r="1.45" fill="#9a1535"/>
<line x1="141.1" y1="339.3" x2="165.8" y2="339.3" stroke="#000" stroke-width="1.3"/>
<rect x="188.9" y="327.7" width="2.6" height="2.6" fill="#2b4680"/>
<rect x="184.6" y="333.0" width="2.6" height="2.6" fill="#2b4680"/>
<rect x="193.5" y="334.2" width="2.6" height="2.6" fill="#2b4680"/>
<rect x="188.6" y="335.7" width="2.6" height="2.6" fill="#2b4680"/>
<rect x="182.1" y="337.6" width="2.6" height="2.6" fill="#2b4680"/>
<rect x="196.0" y="338.2" width="2.6" height="2.6" fill="#2b4680"/>
<rect x="186.4" y="340.1" width="2.6" height="2.6" fill="#2b4680"/>
<rect x="191.4" y="340.7" width="2.6" height="2.6" fill="#2b4680"/>
<rect x="188.9" y="340.4" width="2.6" height="2.6" fill="#2b4680"/>
<rect x="179.9" y="344.1" width="2.6" height="2.6" fill="#2b4680"/>
<rect x="184.0" y="345.0" width="2.6" height="2.6" fill="#2b4680"/>
<rect x="188.9" y="345.6" width="2.6" height="2.6" fill="#2b4680"/>
<rect x="193.2" y="345.3" width="2.6" height="2.6" fill="#2b4680"/>
<rect x="197.8" y="345.0" width="2.6" height="2.6" fill="#2b4680"/>
<rect x="187.0" y="342.8" width="2.6" height="2.6" fill="#2b4680"/>
<rect x="191.4" y="343.1" width="2.6" height="2.6" fill="#2b4680"/>
<line x1="178.2" y1="342.0" x2="202.9" y2="342.0" stroke="#000" stroke-width="1.3"/>
<path d="M227.4,319.5 L229.0,322.3 L225.8,322.3 Z" fill="#669a4c"/>
<path d="M218.0,329.6 L219.6,332.4 L216.4,332.4 Z" fill="#669a4c"/>
<path d="M236.0,329.3 L237.6,332.1 L234.4,332.1 Z" fill="#669a4c"/>
<path d="M231.7,330.7 L233.3,333.5 L230.1,333.5 Z" fill="#669a4c"/>
<path d="M223.1,331.4 L224.7,334.2 L221.5,334.2 Z" fill="#669a4c"/>
<path d="M227.4,332.8 L229.0,335.6 L225.8,335.6 Z" fill="#669a4c"/>
<path d="M223.1,335.4 L224.7,338.2 L221.5,338.2 Z" fill="#669a4c"/>
<path d="M227.4,337.9 L229.0,340.7 L225.8,340.7 Z" fill="#669a4c"/>
<path d="M231.7,337.9 L233.3,340.7 L230.1,340.7 Z" fill="#669a4c"/>
<path d="M231.7,340.0 L233.3,342.8 L230.1,342.8 Z" fill="#669a4c"/>
<path d="M218.0,344.7 L219.6,347.5 L216.4,347.5 Z" fill="#669a4c"/>
<path d="M222.7,343.6 L224.3,346.4 L221.1,346.4 Z" fill="#669a4c"/>
<path d="M222.7,345.8 L224.3,348.6 L221.1,348.6 Z" fill="#669a4c"/>
<path d="M227.4,343.6 L229.0,346.4 L225.8,346.4 Z" fill="#669a4c"/>
<path d="M236.0,345.4 L237.6,348.2 L234.4,348.2 Z" fill="#669a4c"/>
<path d="M231.7,346.9 L233.3,349.7 L230.1,349.7 Z" fill="#669a4c"/>
<path d="M227.4,348.3 L229.0,351.1 L225.8,351.1 Z" fill="#669a4c"/>
<line x1="215.2" y1="339.4" x2="240.0" y2="339.4" stroke="#000" stroke-width="1.3"/>
<line x1="319.6" y1="281.0" x2="319.6" y2="359.9" stroke="#000" stroke-width="1.5"/>
<line x1="318.90000000000003" y1="359.2" x2="433.1" y2="359.2" stroke="#000" stroke-width="1.4"/>
<line x1="316.0" y1="359.20" x2="319.6" y2="359.20" stroke="#000" stroke-width="1.2"/>
<text x="313.0" y="362.1" font-size="8.3" text-anchor="end" font-weight="normal" fill="#222" stroke="#222" stroke-width="0" textLength="4.2" lengthAdjust="spacingAndGlyphs">0</text>
<line x1="316.0" y1="344.22" x2="319.6" y2="344.22" stroke="#000" stroke-width="1.2"/>
<text x="313.0" y="347.12" font-size="8.3" text-anchor="end" font-weight="normal" fill="#222" stroke="#222" stroke-width="0" textLength="16.8" lengthAdjust="spacingAndGlyphs">2000</text>
<line x1="316.0" y1="329.24" x2="319.6" y2="329.24" stroke="#000" stroke-width="1.2"/>
<text x="313.0" y="332.14" font-size="8.3" text-anchor="end" font-weight="normal" fill="#222" stroke="#222" stroke-width="0" textLength="16.8" lengthAdjust="spacingAndGlyphs">4000</text>
<line x1="316.0" y1="314.26" x2="319.6" y2="314.26" stroke="#000" stroke-width="1.2"/>
<text x="313.0" y="317.16" font-size="8.3" text-anchor="end" font-weight="normal" fill="#222" stroke="#222" stroke-width="0" textLength="16.8" lengthAdjust="spacingAndGlyphs">6000</text>
<line x1="316.0" y1="299.28" x2="319.6" y2="299.28" stroke="#000" stroke-width="1.2"/>
<text x="313.0" y="302.18" font-size="8.3" text-anchor="end" font-weight="normal" fill="#222" stroke="#222" stroke-width="0" textLength="16.8" lengthAdjust="spacingAndGlyphs">8000</text>
<line x1="316.0" y1="284.30" x2="319.6" y2="284.30" stroke="#000" stroke-width="1.2"/>
<text x="313.0" y="287.2" font-size="8.3" text-anchor="end" font-weight="normal" fill="#222" stroke="#222" stroke-width="0" textLength="21.0" lengthAdjust="spacingAndGlyphs">10000</text>
<line x1="339.8" y1="359.2" x2="339.8" y2="362.4" stroke="#000" stroke-width="1.2"/>
<line x1="377.2" y1="359.2" x2="377.2" y2="362.4" stroke="#000" stroke-width="1.2"/>
<line x1="414.4" y1="359.2" x2="414.4" y2="362.4" stroke="#000" stroke-width="1.2"/>
<text x="339.8" y="371.09999999999997" font-size="8.2" text-anchor="middle" font-weight="normal" fill="#111" stroke="#111" stroke-width="0.1" >HDs</text>
<text x="377.2" y="371.09999999999997" font-size="8.2" text-anchor="middle" font-weight="normal" fill="#111" stroke="#111" stroke-width="0.1" >KS</text>
<text x="414.4" y="371.09999999999997" font-size="8.2" text-anchor="middle" font-weight="normal" fill="#111" stroke="#111" stroke-width="0.1" >HHV-8 MCD</text>
<text transform="translate(277.0,363.2) rotate(-90)" x="0" y="0" font-size="8.4" textLength="85.2" lengthAdjust="spacingAndGlyphs" fill="#111" stroke="#111" stroke-width="0.1">CD1d MFI on switched</text>
<text transform="translate(288.3,349.5) rotate(-90)" x="0" y="0" font-size="8.4" textLength="58.2" lengthAdjust="spacingAndGlyphs" fill="#111" stroke="#111" stroke-width="0.1">memory B cells</text>
<line x1="341" y1="297.7" x2="416" y2="297.7" stroke="#000" stroke-width="1.2"/>
<text x="378.8" y="294.7" font-size="7.8" text-anchor="middle" font-weight="normal" fill="#111" stroke="#111" stroke-width="0.1" >0.2</text>
<circle cx="335.3" cy="334.2" r="1.45" fill="#9a1535"/>
<circle cx="339.9" cy="334.8" r="1.45" fill="#9a1535"/>
<circle cx="344.2" cy="333.9" r="1.45" fill="#9a1535"/>
<circle cx="337.7" cy="336.6" r="1.45" fill="#9a1535"/>
<circle cx="341.7" cy="336.3" r="1.45" fill="#9a1535"/>
<circle cx="333.1" cy="339.1" r="1.45" fill="#9a1535"/>
<circle cx="346.7" cy="337.6" r="1.45" fill="#9a1535"/>
<circle cx="337.7" cy="340.7" r="1.45" fill="#9a1535"/>
<circle cx="342.4" cy="340.0" r="1.45" fill="#9a1535"/>
<circle cx="346.4" cy="344.0" r="1.45" fill="#9a1535"/>
<circle cx="330.6" cy="346.5" r="1.45" fill="#9a1535"/>
<circle cx="333.4" cy="345.6" r="1.45" fill="#9a1535"/>
<circle cx="336.8" cy="346.5" r="1.45" fill="#9a1535"/>
<circle cx="339.9" cy="345.9" r="1.45" fill="#9a1535"/>
<circle cx="342.7" cy="345.6" r="1.45" fill="#9a1535"/>
<circle cx="349.1" cy="346.5" r="1.45" fill="#9a1535"/>
<circle cx="345.1" cy="346.5" r="1.45" fill="#9a1535"/>
<circle cx="332.8" cy="349.9" r="1.45" fill="#9a1535"/>
<circle cx="335.9" cy="348.7" r="1.45" fill="#9a1535"/>
<circle cx="339.9" cy="349.0" r="1.45" fill="#9a1535"/>
<circle cx="342.7" cy="350.8" r="1.45" fill="#9a1535"/>
<circle cx="346.7" cy="349.9" r="1.45" fill="#9a1535"/>
<circle cx="337.7" cy="353.3" r="1.45" fill="#9a1535"/>
<line x1="327.9" y1="346.4" x2="351.9" y2="346.4" stroke="#000" stroke-width="1.3"/>
<rect x="373.4" y="329.9" width="2.6" height="2.6" fill="#2b4680"/>
<rect x="378.0" y="331.5" width="2.6" height="2.6" fill="#2b4680"/>
<rect x="366.3" y="335.2" width="2.6" height="2.6" fill="#2b4680"/>
<rect x="370.9" y="336.1" width="2.6" height="2.6" fill="#2b4680"/>
<rect x="375.5" y="336.4" width="2.6" height="2.6" fill="#2b4680"/>
<rect x="379.8" y="336.4" width="2.6" height="2.6" fill="#2b4680"/>
<rect x="384.5" y="335.2" width="2.6" height="2.6" fill="#2b4680"/>
<rect x="366.3" y="339.2" width="2.6" height="2.6" fill="#2b4680"/>
<rect x="384.5" y="338.0" width="2.6" height="2.6" fill="#2b4680"/>
<rect x="370.9" y="341.4" width="2.6" height="2.6" fill="#2b4680"/>
<rect x="375.5" y="342.0" width="2.6" height="2.6" fill="#2b4680"/>
<rect x="380.1" y="341.7" width="2.6" height="2.6" fill="#2b4680"/>
<rect x="370.9" y="344.1" width="2.6" height="2.6" fill="#2b4680"/>
<rect x="375.5" y="346.6" width="2.6" height="2.6" fill="#2b4680"/>
<rect x="380.1" y="346.6" width="2.6" height="2.6" fill="#2b4680"/>
<line x1="364.5" y1="339.5" x2="389.2" y2="339.5" stroke="#000" stroke-width="1.3"/>
<path d="M409.8,334.3 L411.4,337.1 L408.2,337.1 Z" fill="#669a4c"/>
<path d="M412.0,333.4 L413.6,336.2 L410.4,336.2 Z" fill="#669a4c"/>
<path d="M416.6,333.7 L418.2,336.5 L415.0,336.5 Z" fill="#669a4c"/>
<path d="M413.8,338.6 L415.4,341.4 L412.2,341.4 Z" fill="#669a4c"/>
<path d="M418.8,338.3 L420.4,341.1 L417.2,341.1 Z" fill="#669a4c"/>
<path d="M418.8,340.2 L420.4,343.0 L417.2,343.0 Z" fill="#669a4c"/>
<path d="M409.8,342.7 L411.4,345.5 L408.2,345.5 Z" fill="#669a4c"/>
<path d="M413.8,343.6 L415.4,346.4 L412.2,346.4 Z" fill="#669a4c"/>
<path d="M405.2,347.6 L406.8,350.4 L403.6,350.4 Z" fill="#669a4c"/>
<path d="M409.8,347.9 L411.4,350.7 L408.2,350.7 Z" fill="#669a4c"/>
<path d="M423.1,347.9 L424.7,350.7 L421.5,350.7 Z" fill="#669a4c"/>
<path d="M413.8,351.6 L415.4,354.4 L412.2,354.4 Z" fill="#669a4c"/>
<path d="M418.8,351.3 L420.4,354.1 L417.2,354.1 Z" fill="#669a4c"/>
<line x1="402.1" y1="344.4" x2="426.5" y2="344.4" stroke="#000" stroke-width="1.3"/>
<line x1="134.3" y1="386.9" x2="134.3" y2="465.3" stroke="#000" stroke-width="1.5"/>
<line x1="133.60000000000002" y1="464.6" x2="246.8" y2="464.6" stroke="#000" stroke-width="1.4"/>
<line x1="130.70000000000002" y1="464.60" x2="134.3" y2="464.60" stroke="#000" stroke-width="1.2"/>
<text x="127.7" y="467.5" font-size="8.3" text-anchor="end" font-weight="normal" fill="#222" stroke="#222" stroke-width="0" textLength="4.2" lengthAdjust="spacingAndGlyphs">0</text>
<line x1="130.70000000000002" y1="449.72" x2="134.3" y2="449.72" stroke="#000" stroke-width="1.2"/>
<text x="127.7" y="452.62" font-size="8.3" text-anchor="end" font-weight="normal" fill="#222" stroke="#222" stroke-width="0" textLength="16.8" lengthAdjust="spacingAndGlyphs">2000</text>
<line x1="130.70000000000002" y1="434.84" x2="134.3" y2="434.84" stroke="#000" stroke-width="1.2"/>
<text x="127.7" y="437.74" font-size="8.3" text-anchor="end" font-weight="normal" fill="#222" stroke="#222" stroke-width="0" textLength="16.8" lengthAdjust="spacingAndGlyphs">4000</text>
<line x1="130.70000000000002" y1="419.96" x2="134.3" y2="419.96" stroke="#000" stroke-width="1.2"/>
<text x="127.7" y="422.86" font-size="8.3" text-anchor="end" font-weight="normal" fill="#222" stroke="#222" stroke-width="0" textLength="16.8" lengthAdjust="spacingAndGlyphs">6000</text>
<line x1="130.70000000000002" y1="405.08" x2="134.3" y2="405.08" stroke="#000" stroke-width="1.2"/>
<text x="127.7" y="407.98" font-size="8.3" text-anchor="end" font-weight="normal" fill="#222" stroke="#222" stroke-width="0" textLength="16.8" lengthAdjust="spacingAndGlyphs">8000</text>
<line x1="130.70000000000002" y1="390.20" x2="134.3" y2="390.20" stroke="#000" stroke-width="1.2"/>
<text x="127.7" y="393.1" font-size="8.3" text-anchor="end" font-weight="normal" fill="#222" stroke="#222" stroke-width="0" textLength="21.0" lengthAdjust="spacingAndGlyphs">10000</text>
<line x1="153.1" y1="464.6" x2="153.1" y2="467.8" stroke="#000" stroke-width="1.2"/>
<line x1="190.5" y1="464.6" x2="190.5" y2="467.8" stroke="#000" stroke-width="1.2"/>
<line x1="228.1" y1="464.6" x2="228.1" y2="467.8" stroke="#000" stroke-width="1.2"/>
<text x="153.1" y="476.5" font-size="8.2" text-anchor="middle" font-weight="normal" fill="#111" stroke="#111" stroke-width="0.1" >HDs</text>
<text x="190.5" y="476.5" font-size="8.2" text-anchor="middle" font-weight="normal" fill="#111" stroke="#111" stroke-width="0.1" >KS</text>
<text x="228.1" y="476.5" font-size="8.2" text-anchor="middle" font-weight="normal" fill="#111" stroke="#111" stroke-width="0.1" >HHV-8 MCD</text>
<text transform="translate(91.5,458.2) rotate(-90)" x="0" y="0" font-size="8.4" textLength="64.0" lengthAdjust="spacingAndGlyphs" fill="#111" stroke="#111" stroke-width="0.1">CD1d MFI on MZ</text>
<text transform="translate(103.0,439.2) rotate(-90)" x="0" y="0" font-size="8.4" textLength="23.6" lengthAdjust="spacingAndGlyphs" fill="#111" stroke="#111" stroke-width="0.1">B cells</text>
<line x1="154.9" y1="403.2" x2="228.8" y2="403.2" stroke="#000" stroke-width="1.2"/>
<text x="191.2" y="400.2" font-size="7.8" text-anchor="middle" font-weight="normal" fill="#111" stroke="#111" stroke-width="0.1" >0.3</text>
<circle cx="144.5" cy="429.2" r="1.45" fill="#9a1535"/>
<circle cx="162.4" cy="428.6" r="1.45" fill="#9a1535"/>
<circle cx="157.8" cy="430.4" r="1.45" fill="#9a1535"/>
<circle cx="149.1" cy="432.0" r="1.45" fill="#9a1535"/>
<circle cx="153.4" cy="432.9" r="1.45" fill="#9a1535"/>
<circle cx="144.8" cy="436.0" r="1.45" fill="#9a1535"/>
<circle cx="148.8" cy="435.7" r="1.45" fill="#9a1535"/>
<circle cx="151.3" cy="435.0" r="1.45" fill="#9a1535"/>
<circle cx="155.6" cy="435.7" r="1.45" fill="#9a1535"/>
<circle cx="159.9" cy="435.3" r="1.45" fill="#9a1535"/>
<circle cx="162.4" cy="436.3" r="1.45" fill="#9a1535"/>
<circle cx="148.8" cy="439.0" r="1.45" fill="#9a1535"/>
<circle cx="153.4" cy="439.4" r="1.45" fill="#9a1535"/>
<circle cx="157.8" cy="439.0" r="1.45" fill="#9a1535"/>
<circle cx="148.8" cy="444.0" r="1.45" fill="#9a1535"/>
<circle cx="153.4" cy="444.3" r="1.45" fill="#9a1535"/>
<circle cx="157.8" cy="443.4" r="1.45" fill="#9a1535"/>
<circle cx="144.5" cy="446.1" r="1.45" fill="#9a1535"/>
<circle cx="148.8" cy="448.6" r="1.45" fill="#9a1535"/>
<circle cx="153.4" cy="450.2" r="1.45" fill="#9a1535"/>
<circle cx="157.8" cy="449.2" r="1.45" fill="#9a1535"/>
<circle cx="162.4" cy="448.3" r="1.45" fill="#9a1535"/>
<line x1="141.1" y1="437.5" x2="165.5" y2="437.5" stroke="#000" stroke-width="1.3"/>
<rect x="189.4" y="413.5" width="2.6" height="2.6" fill="#2b4680"/>
<rect x="186.8" y="428.6" width="2.6" height="2.6" fill="#2b4680"/>
<rect x="191.6" y="431.3" width="2.6" height="2.6" fill="#2b4680"/>
<rect x="185.1" y="435.9" width="2.6" height="2.6" fill="#2b4680"/>
<rect x="189.0" y="437.7" width="2.6" height="2.6" fill="#2b4680"/>
<rect x="193.7" y="436.8" width="2.6" height="2.6" fill="#2b4680"/>
<rect x="182.5" y="440.2" width="2.6" height="2.6" fill="#2b4680"/>
<rect x="186.8" y="442.0" width="2.6" height="2.6" fill="#2b4680"/>
<rect x="191.1" y="442.8" width="2.6" height="2.6" fill="#2b4680"/>
<rect x="195.4" y="440.7" width="2.6" height="2.6" fill="#2b4680"/>
<rect x="179.9" y="443.7" width="2.6" height="2.6" fill="#2b4680"/>
<rect x="184.6" y="445.9" width="2.6" height="2.6" fill="#2b4680"/>
<rect x="189.0" y="448.0" width="2.6" height="2.6" fill="#2b4680"/>
<rect x="193.7" y="446.7" width="2.6" height="2.6" fill="#2b4680"/>
<rect x="198.0" y="444.6" width="2.6" height="2.6" fill="#2b4680"/>
<line x1="178.2" y1="442.4" x2="202.8" y2="442.4" stroke="#000" stroke-width="1.3"/>
<path d="M227.9,413.5 L229.5,416.3 L226.3,416.3 Z" fill="#669a4c"/>
<path d="M226.2,430.8 L227.8,433.6 L224.6,433.6 Z" fill="#669a4c"/>
<path d="M230.0,430.8 L231.6,433.6 L228.4,433.6 Z" fill="#669a4c"/>
<path d="M230.0,437.1 L231.6,439.9 L228.4,439.9 Z" fill="#669a4c"/>
<path d="M230.0,440.3 L231.6,443.1 L228.4,443.1 Z" fill="#669a4c"/>
<path d="M225.8,444.6 L227.4,447.4 L224.2,447.4 Z" fill="#669a4c"/>
<path d="M226.2,434.0 L227.8,436.8 L224.6,436.8 Z" fill="#669a4c"/>
<line x1="215.8" y1="435.7" x2="240.4" y2="435.7" stroke="#000" stroke-width="1.3"/>
<line x1="320.8" y1="386.9" x2="320.8" y2="465.3" stroke="#000" stroke-width="1.5"/>
<line x1="320.1" y1="464.6" x2="433.0" y2="464.6" stroke="#000" stroke-width="1.4"/>
<line x1="317.2" y1="464.60" x2="320.8" y2="464.60" stroke="#000" stroke-width="1.2"/>
<text x="314.2" y="467.5" font-size="8.3" text-anchor="end" font-weight="normal" fill="#222" stroke="#222" stroke-width="0" textLength="4.2" lengthAdjust="spacingAndGlyphs">0</text>
<line x1="317.2" y1="449.72" x2="320.8" y2="449.72" stroke="#000" stroke-width="1.2"/>
<text x="314.2" y="452.62" font-size="8.3" text-anchor="end" font-weight="normal" fill="#222" stroke="#222" stroke-width="0" textLength="16.8" lengthAdjust="spacingAndGlyphs">2000</text>
<line x1="317.2" y1="434.84" x2="320.8" y2="434.84" stroke="#000" stroke-width="1.2"/>
<text x="314.2" y="437.74" font-size="8.3" text-anchor="end" font-weight="normal" fill="#222" stroke="#222" stroke-width="0" textLength="16.8" lengthAdjust="spacingAndGlyphs">4000</text>
<line x1="317.2" y1="419.96" x2="320.8" y2="419.96" stroke="#000" stroke-width="1.2"/>
<text x="314.2" y="422.86" font-size="8.3" text-anchor="end" font-weight="normal" fill="#222" stroke="#222" stroke-width="0" textLength="16.8" lengthAdjust="spacingAndGlyphs">6000</text>
<line x1="317.2" y1="405.08" x2="320.8" y2="405.08" stroke="#000" stroke-width="1.2"/>
<text x="314.2" y="407.98" font-size="8.3" text-anchor="end" font-weight="normal" fill="#222" stroke="#222" stroke-width="0" textLength="16.8" lengthAdjust="spacingAndGlyphs">8000</text>
<line x1="317.2" y1="390.20" x2="320.8" y2="390.20" stroke="#000" stroke-width="1.2"/>
<text x="314.2" y="393.1" font-size="8.3" text-anchor="end" font-weight="normal" fill="#222" stroke="#222" stroke-width="0" textLength="21.0" lengthAdjust="spacingAndGlyphs">10000</text>
<line x1="339.4" y1="464.6" x2="339.4" y2="467.8" stroke="#000" stroke-width="1.2"/>
<line x1="376.4" y1="464.6" x2="376.4" y2="467.8" stroke="#000" stroke-width="1.2"/>
<line x1="413.8" y1="464.6" x2="413.8" y2="467.8" stroke="#000" stroke-width="1.2"/>
<text x="339.4" y="476.5" font-size="8.2" text-anchor="middle" font-weight="normal" fill="#111" stroke="#111" stroke-width="0.1" >HDs</text>
<text x="376.4" y="476.5" font-size="8.2" text-anchor="middle" font-weight="normal" fill="#111" stroke="#111" stroke-width="0.1" >KS</text>
<text x="413.8" y="476.5" font-size="8.2" text-anchor="middle" font-weight="normal" fill="#111" stroke="#111" stroke-width="0.1" >HHV-8 MCD</text>
<text transform="translate(276.6,463.7) rotate(-90)" x="0" y="0" font-size="8.4" textLength="71.5" lengthAdjust="spacingAndGlyphs" fill="#111" stroke="#111" stroke-width="0.1">CD1d MFI on CD27</text>
<text transform="translate(273.20000000000005,391.9) rotate(-90)" x="0" y="0" font-size="5" fill="#111" stroke="#111" stroke-width="0.2">-</text>
<text transform="translate(288.0,455.5) rotate(-90)" x="0" y="0" font-size="8.4" textLength="58.3" lengthAdjust="spacingAndGlyphs" fill="#111" stroke="#111" stroke-width="0.1">memory B cells</text>
<line x1="341" y1="403.2" x2="415.4" y2="403.2" stroke="#000" stroke-width="1.2"/>
<text x="377.5" y="400.2" font-size="7.8" text-anchor="middle" font-weight="normal" fill="#111" stroke="#111" stroke-width="0.1" >0.7</text>
<circle cx="333.1" cy="447.2" r="1.45" fill="#9a1535"/>
<circle cx="333.1" cy="449.8" r="1.45" fill="#9a1535"/>
<circle cx="333.1" cy="452.3" r="1.45" fill="#9a1535"/>
<circle cx="333.1" cy="455.0" r="1.45" fill="#9a1535"/>
<circle cx="333.1" cy="457.6" r="1.45" fill="#9a1535"/>
<circle cx="337.4" cy="447.2" r="1.45" fill="#9a1535"/>
<circle cx="337.4" cy="449.5" r="1.45" fill="#9a1535"/>
<circle cx="337.4" cy="452.0" r="1.45" fill="#9a1535"/>
<circle cx="337.4" cy="454.5" r="1.45" fill="#9a1535"/>
<circle cx="337.4" cy="457.0" r="1.45" fill="#9a1535"/>
<circle cx="337.4" cy="459.6" r="1.45" fill="#9a1535"/>
<circle cx="342.0" cy="447.2" r="1.45" fill="#9a1535"/>
<circle cx="342.0" cy="449.8" r="1.45" fill="#9a1535"/>
<circle cx="342.0" cy="452.3" r="1.45" fill="#9a1535"/>
<circle cx="342.0" cy="455.0" r="1.45" fill="#9a1535"/>
<circle cx="342.0" cy="457.6" r="1.45" fill="#9a1535"/>
<circle cx="346.6" cy="443.8" r="1.45" fill="#9a1535"/>
<circle cx="346.6" cy="447.5" r="1.45" fill="#9a1535"/>
<circle cx="346.6" cy="450.0" r="1.45" fill="#9a1535"/>
<circle cx="346.6" cy="452.5" r="1.45" fill="#9a1535"/>
<circle cx="346.6" cy="455.0" r="1.45" fill="#9a1535"/>
<circle cx="346.6" cy="457.6" r="1.45" fill="#9a1535"/>
<line x1="327.3" y1="452.4" x2="352.1" y2="452.4" stroke="#000" stroke-width="1.3"/>
<rect x="375.4" y="443.3" width="2.6" height="2.6" fill="#2b4680"/>
<rect x="370.8" y="445.0" width="2.6" height="2.6" fill="#2b4680"/>
<rect x="380.3" y="446.8" width="2.6" height="2.6" fill="#2b4680"/>
<rect x="375.4" y="447.9" width="2.6" height="2.6" fill="#2b4680"/>
<rect x="378.0" y="450.2" width="2.6" height="2.6" fill="#2b4680"/>
<rect x="372.8" y="451.1" width="2.6" height="2.6" fill="#2b4680"/>
<rect x="366.2" y="453.4" width="2.6" height="2.6" fill="#2b4680"/>
<rect x="370.5" y="453.1" width="2.6" height="2.6" fill="#2b4680"/>
<rect x="375.4" y="453.7" width="2.6" height="2.6" fill="#2b4680"/>
<rect x="379.7" y="453.4" width="2.6" height="2.6" fill="#2b4680"/>
<rect x="384.9" y="453.1" width="2.6" height="2.6" fill="#2b4680"/>
<rect x="382.3" y="455.4" width="2.6" height="2.6" fill="#2b4680"/>
<rect x="368.8" y="456.9" width="2.6" height="2.6" fill="#2b4680"/>
<rect x="373.1" y="459.5" width="2.6" height="2.6" fill="#2b4680"/>
<rect x="377.7" y="458.9" width="2.6" height="2.6" fill="#2b4680"/>
<line x1="364.3" y1="454.6" x2="389.1" y2="454.6" stroke="#000" stroke-width="1.3"/>
<path d="M404.8,443.8 L406.4,446.6 L403.2,446.6 Z" fill="#669a4c"/>
<path d="M409.1,444.1 L410.7,446.9 L407.5,446.9 Z" fill="#669a4c"/>
<path d="M413.7,445.2 L415.3,448.0 L412.1,448.0 Z" fill="#669a4c"/>
<path d="M418.0,443.8 L419.6,446.6 L416.4,446.6 Z" fill="#669a4c"/>
<path d="M422.7,443.2 L424.3,446.0 L421.1,446.0 Z" fill="#669a4c"/>
<path d="M409.1,448.7 L410.7,451.5 L407.5,451.5 Z" fill="#669a4c"/>
<path d="M413.7,450.1 L415.3,452.9 L412.1,452.9 Z" fill="#669a4c"/>
<path d="M418.3,449.6 L419.9,452.4 L416.7,452.4 Z" fill="#669a4c"/>
<path d="M411.7,452.4 L413.3,455.2 L410.1,455.2 Z" fill="#669a4c"/>
<path d="M416.0,452.7 L417.6,455.5 L414.4,455.5 Z" fill="#669a4c"/>
<path d="M407.1,454.7 L408.7,457.5 L405.5,457.5 Z" fill="#669a4c"/>
<path d="M411.7,455.9 L413.3,458.7 L410.1,458.7 Z" fill="#669a4c"/>
<path d="M416.0,455.6 L417.6,458.4 L414.4,458.4 Z" fill="#669a4c"/>
<path d="M420.6,455.0 L422.2,457.8 L419.0,457.8 Z" fill="#669a4c"/>
<path d="M409.1,458.5 L410.7,461.3 L407.5,461.3 Z" fill="#669a4c"/>
<path d="M413.7,460.2 L415.3,463.0 L412.1,463.0 Z" fill="#669a4c"/>
<path d="M418.3,460.2 L419.9,463.0 L416.7,463.0 Z" fill="#669a4c"/>
<line x1="401.3" y1="454.4" x2="426.1" y2="454.4" stroke="#000" stroke-width="1.3"/>
<rect x="0" y="0" width="520" height="1.1" fill="#000"/>
<rect x="0" y="0" width="1.4" height="486" fill="#000"/>
<rect x="518.5" y="0" width="1.5" height="486" fill="#000"/>
<rect x="0" y="484.5" width="520" height="1.5" fill="#000"/>
</svg>
</body></html>
